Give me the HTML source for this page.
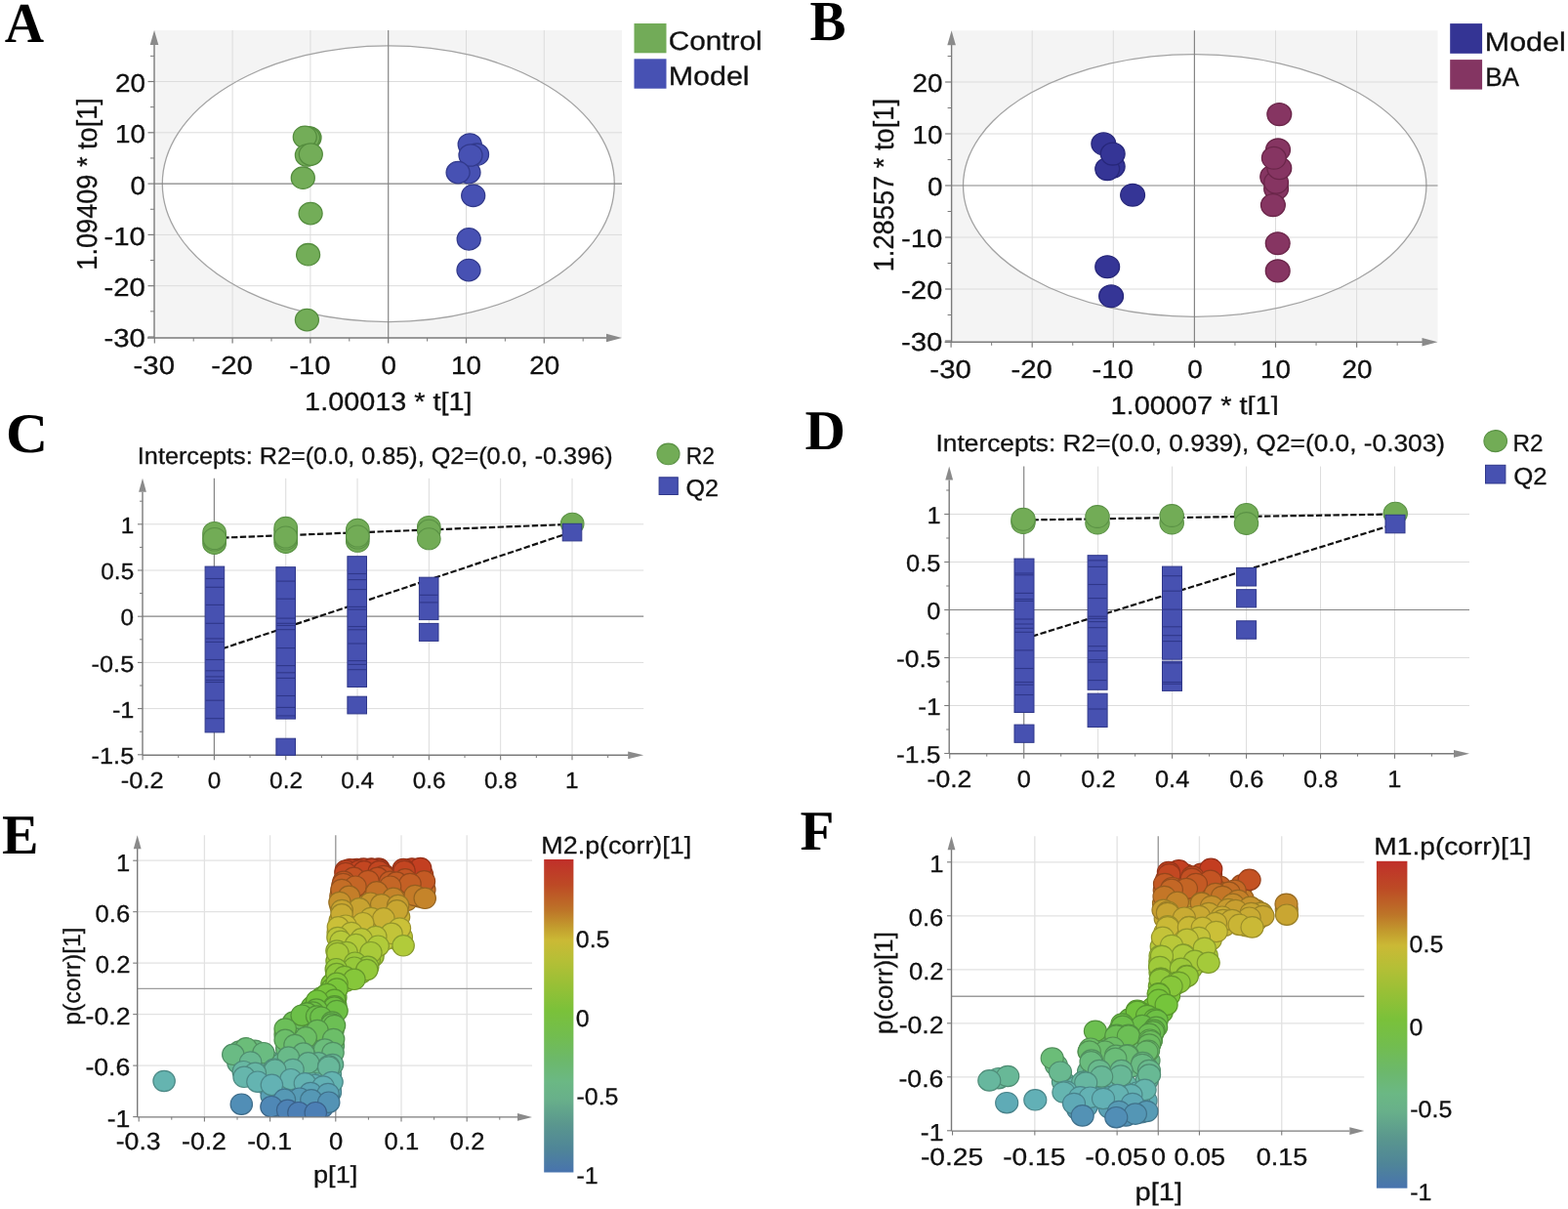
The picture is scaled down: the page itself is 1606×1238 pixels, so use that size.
<!DOCTYPE html>
<html><head><meta charset="utf-8"><title>Figure</title>
<style>
html,body{margin:0;padding:0;background:#fff;}
body{width:1606px;height:1238px;overflow:hidden;}
svg{display:block;}
</style></head>
<body>
<svg width="1606" height="1238" viewBox="0 0 1606 1238" text-rendering="geometricPrecision">
<rect x="0" y="0" width="1606" height="1238" fill="#fff"/>
<rect x="158" y="31" width="479" height="315" fill="#f4f4f4"/>
<ellipse cx="397.8" cy="188.2" rx="231.5" ry="141.4" fill="#fff"/>
<line x1="238.1" y1="31" x2="238.1" y2="346" stroke="#dcdcdc" stroke-width="1"/>
<line x1="317.9" y1="31" x2="317.9" y2="346" stroke="#dcdcdc" stroke-width="1"/>
<line x1="477.5" y1="31" x2="477.5" y2="346" stroke="#dcdcdc" stroke-width="1"/>
<line x1="557.3" y1="31" x2="557.3" y2="346" stroke="#dcdcdc" stroke-width="1"/>
<line x1="158" y1="83.5" x2="637" y2="83.5" stroke="#dcdcdc" stroke-width="1"/>
<line x1="158" y1="135.8" x2="637" y2="135.8" stroke="#dcdcdc" stroke-width="1"/>
<line x1="158" y1="240.4" x2="637" y2="240.4" stroke="#dcdcdc" stroke-width="1"/>
<line x1="158" y1="292.7" x2="637" y2="292.7" stroke="#dcdcdc" stroke-width="1"/>
<ellipse cx="397.8" cy="188.2" rx="231.5" ry="141.4" fill="none" stroke="#a3a3a3" stroke-width="1.3"/>
<line x1="397.7" y1="31" x2="397.7" y2="346" stroke="#858585" stroke-width="1.2"/>
<line x1="158" y1="188.1" x2="637" y2="188.1" stroke="#858585" stroke-width="1.2"/>
<line x1="158" y1="346" x2="158" y2="45" stroke="#7a7a7a" stroke-width="1.4"/>
<polygon points="153.7,46 162.3,46 158,31" fill="#8a8a8a"/>
<line x1="151" y1="346" x2="622" y2="346" stroke="#7a7a7a" stroke-width="1.4"/>
<polygon points="621,341.7 621,350.3 637,346" fill="#8a8a8a"/>
<line x1="151.5" y1="83.5" x2="158" y2="83.5" stroke="#7a7a7a" stroke-width="1.2"/>
<line x1="151.5" y1="135.8" x2="158" y2="135.8" stroke="#7a7a7a" stroke-width="1.2"/>
<line x1="151.5" y1="188.1" x2="158" y2="188.1" stroke="#7a7a7a" stroke-width="1.2"/>
<line x1="151.5" y1="240.4" x2="158" y2="240.4" stroke="#7a7a7a" stroke-width="1.2"/>
<line x1="151.5" y1="292.7" x2="158" y2="292.7" stroke="#7a7a7a" stroke-width="1.2"/>
<line x1="151.5" y1="345" x2="158" y2="345" stroke="#7a7a7a" stroke-width="1.2"/>
<line x1="154" y1="57.35" x2="158" y2="57.35" stroke="#7a7a7a" stroke-width="1"/>
<line x1="154" y1="109.65" x2="158" y2="109.65" stroke="#7a7a7a" stroke-width="1"/>
<line x1="154" y1="161.95" x2="158" y2="161.95" stroke="#7a7a7a" stroke-width="1"/>
<line x1="154" y1="214.25" x2="158" y2="214.25" stroke="#7a7a7a" stroke-width="1"/>
<line x1="154" y1="266.55" x2="158" y2="266.55" stroke="#7a7a7a" stroke-width="1"/>
<line x1="154" y1="318.85" x2="158" y2="318.85" stroke="#7a7a7a" stroke-width="1"/>
<line x1="158.3" y1="346" x2="158.3" y2="351.5" stroke="#7a7a7a" stroke-width="1.2"/>
<line x1="238.1" y1="346" x2="238.1" y2="351.5" stroke="#7a7a7a" stroke-width="1.2"/>
<line x1="317.9" y1="346" x2="317.9" y2="351.5" stroke="#7a7a7a" stroke-width="1.2"/>
<line x1="397.7" y1="346" x2="397.7" y2="351.5" stroke="#7a7a7a" stroke-width="1.2"/>
<line x1="477.5" y1="346" x2="477.5" y2="351.5" stroke="#7a7a7a" stroke-width="1.2"/>
<line x1="557.3" y1="346" x2="557.3" y2="351.5" stroke="#7a7a7a" stroke-width="1.2"/>
<line x1="198.2" y1="346" x2="198.2" y2="349.5" stroke="#7a7a7a" stroke-width="1"/>
<line x1="278" y1="346" x2="278" y2="349.5" stroke="#7a7a7a" stroke-width="1"/>
<line x1="357.8" y1="346" x2="357.8" y2="349.5" stroke="#7a7a7a" stroke-width="1"/>
<line x1="437.6" y1="346" x2="437.6" y2="349.5" stroke="#7a7a7a" stroke-width="1"/>
<line x1="517.4" y1="346" x2="517.4" y2="349.5" stroke="#7a7a7a" stroke-width="1"/>
<line x1="597.2" y1="346" x2="597.2" y2="349.5" stroke="#7a7a7a" stroke-width="1"/>
<ellipse cx="317" cy="141" rx="12" ry="11.2" fill="#73ad58" stroke="#548c3e" stroke-width="1.3"/>
<ellipse cx="315.5" cy="141.2" rx="12" ry="11.2" fill="#73ad58" stroke="#548c3e" stroke-width="1.3"/>
<ellipse cx="312.3" cy="140.3" rx="12" ry="11.2" fill="#73ad58" stroke="#548c3e" stroke-width="1.3"/>
<ellipse cx="314.4" cy="159" rx="12" ry="11.2" fill="#73ad58" stroke="#548c3e" stroke-width="1.3"/>
<ellipse cx="318.3" cy="158.1" rx="12" ry="11.2" fill="#73ad58" stroke="#548c3e" stroke-width="1.3"/>
<ellipse cx="310.3" cy="182.2" rx="12" ry="11.2" fill="#73ad58" stroke="#548c3e" stroke-width="1.3"/>
<ellipse cx="318.1" cy="218.6" rx="12" ry="11.2" fill="#73ad58" stroke="#548c3e" stroke-width="1.3"/>
<ellipse cx="315.6" cy="260.7" rx="12" ry="11.2" fill="#73ad58" stroke="#548c3e" stroke-width="1.3"/>
<ellipse cx="314.4" cy="327.6" rx="12" ry="11.2" fill="#73ad58" stroke="#548c3e" stroke-width="1.3"/>
<ellipse cx="481.2" cy="148" rx="12" ry="11.2" fill="#4751b3" stroke="#323a8c" stroke-width="1.3"/>
<ellipse cx="488.5" cy="158.2" rx="12" ry="11.2" fill="#4751b3" stroke="#323a8c" stroke-width="1.3"/>
<ellipse cx="480" cy="176.6" rx="12" ry="11.2" fill="#4751b3" stroke="#323a8c" stroke-width="1.3"/>
<ellipse cx="482" cy="159" rx="12" ry="11.2" fill="#4751b3" stroke="#323a8c" stroke-width="1.3"/>
<ellipse cx="469.1" cy="176.6" rx="12" ry="11.2" fill="#4751b3" stroke="#323a8c" stroke-width="1.3"/>
<ellipse cx="484.7" cy="200.3" rx="12" ry="11.2" fill="#4751b3" stroke="#323a8c" stroke-width="1.3"/>
<ellipse cx="480.2" cy="244.9" rx="12" ry="11.2" fill="#4751b3" stroke="#323a8c" stroke-width="1.3"/>
<ellipse cx="480" cy="276.6" rx="12" ry="11.2" fill="#4751b3" stroke="#323a8c" stroke-width="1.3"/>
<text x="117.96" y="93.9" font-size="26" font-family='"Liberation Sans", Arial, sans-serif' fill="#111" stroke="#111" stroke-width="0.3" textLength="30.95" lengthAdjust="spacingAndGlyphs">20</text>
<text x="117.96" y="146.2" font-size="26" font-family='"Liberation Sans", Arial, sans-serif' fill="#111" stroke="#111" stroke-width="0.3" textLength="30.95" lengthAdjust="spacingAndGlyphs">10</text>
<text x="133.4" y="198.5" font-size="26" font-family='"Liberation Sans", Arial, sans-serif' fill="#111" stroke="#111" stroke-width="0.3" textLength="15.47" lengthAdjust="spacingAndGlyphs">0</text>
<text x="106.49" y="250.8" font-size="26" font-family='"Liberation Sans", Arial, sans-serif' fill="#111" stroke="#111" stroke-width="0.3" textLength="42.42" lengthAdjust="spacingAndGlyphs">-10</text>
<text x="106.49" y="303.1" font-size="26" font-family='"Liberation Sans", Arial, sans-serif' fill="#111" stroke="#111" stroke-width="0.3" textLength="42.42" lengthAdjust="spacingAndGlyphs">-20</text>
<text x="106.49" y="355.4" font-size="26" font-family='"Liberation Sans", Arial, sans-serif' fill="#111" stroke="#111" stroke-width="0.3" textLength="42.42" lengthAdjust="spacingAndGlyphs">-30</text>
<text x="136.58" y="383.4" font-size="26" font-family='"Liberation Sans", Arial, sans-serif' fill="#111" stroke="#111" stroke-width="0.3" textLength="42.42" lengthAdjust="spacingAndGlyphs">-30</text>
<text x="216.38" y="383.4" font-size="26" font-family='"Liberation Sans", Arial, sans-serif' fill="#111" stroke="#111" stroke-width="0.3" textLength="42.42" lengthAdjust="spacingAndGlyphs">-20</text>
<text x="296.18" y="383.4" font-size="26" font-family='"Liberation Sans", Arial, sans-serif' fill="#111" stroke="#111" stroke-width="0.3" textLength="42.42" lengthAdjust="spacingAndGlyphs">-10</text>
<text x="390.55" y="383.4" font-size="26" font-family='"Liberation Sans", Arial, sans-serif' fill="#111" stroke="#111" stroke-width="0.3" textLength="15.47" lengthAdjust="spacingAndGlyphs">0</text>
<text x="462.14" y="383.4" font-size="26" font-family='"Liberation Sans", Arial, sans-serif' fill="#111" stroke="#111" stroke-width="0.3" textLength="30.95" lengthAdjust="spacingAndGlyphs">10</text>
<text x="542.29" y="383.4" font-size="26" font-family='"Liberation Sans", Arial, sans-serif' fill="#111" stroke="#111" stroke-width="0.3" textLength="30.95" lengthAdjust="spacingAndGlyphs">20</text>
<rect x="649.5" y="24" width="33" height="30.3" fill="#72ab58"/>
<rect x="649.5" y="60.3" width="33" height="30.4" fill="#4751b3"/>
<text x="684.71" y="50.6" font-size="27" font-family='"Liberation Sans", Arial, sans-serif' fill="#111" stroke="#111" stroke-width="0.3" textLength="95.86" lengthAdjust="spacingAndGlyphs">Control</text>
<text x="684.69" y="86.9" font-size="27" font-family='"Liberation Sans", Arial, sans-serif' fill="#111" stroke="#111" stroke-width="0.3" textLength="82.93" lengthAdjust="spacingAndGlyphs">Model</text>
<text x="312.14" y="419.8" font-size="26" font-family='"Liberation Sans", Arial, sans-serif' fill="#111" stroke="#111" stroke-width="0.3" textLength="171.36" lengthAdjust="spacingAndGlyphs">1.00013 * t[1]</text>
<text transform="translate(99,276.63) rotate(-90)" x="0" y="0" font-size="29" font-family='"Liberation Sans", Arial, sans-serif' fill="#111" stroke="#111" stroke-width="0.3" textLength="176.45" lengthAdjust="spacingAndGlyphs">1.09409 * to[1]</text>
<rect x="974.6" y="31.3" width="497.9" height="319" fill="#f4f4f4"/>
<ellipse cx="1223.7" cy="190" rx="237.2" ry="134.4" fill="#fff"/>
<line x1="1057.2" y1="31.3" x2="1057.2" y2="350.3" stroke="#dcdcdc" stroke-width="1"/>
<line x1="1140.3" y1="31.3" x2="1140.3" y2="350.3" stroke="#dcdcdc" stroke-width="1"/>
<line x1="1306.5" y1="31.3" x2="1306.5" y2="350.3" stroke="#dcdcdc" stroke-width="1"/>
<line x1="1389.6" y1="31.3" x2="1389.6" y2="350.3" stroke="#dcdcdc" stroke-width="1"/>
<line x1="974.6" y1="84" x2="1472.5" y2="84" stroke="#dcdcdc" stroke-width="1"/>
<line x1="974.6" y1="137" x2="1472.5" y2="137" stroke="#dcdcdc" stroke-width="1"/>
<line x1="974.6" y1="243" x2="1472.5" y2="243" stroke="#dcdcdc" stroke-width="1"/>
<line x1="974.6" y1="296" x2="1472.5" y2="296" stroke="#dcdcdc" stroke-width="1"/>
<ellipse cx="1223.7" cy="190" rx="237.2" ry="134.4" fill="none" stroke="#a3a3a3" stroke-width="1.3"/>
<line x1="1223.4" y1="31.3" x2="1223.4" y2="350.3" stroke="#858585" stroke-width="1.2"/>
<line x1="974.6" y1="190" x2="1472.5" y2="190" stroke="#858585" stroke-width="1.2"/>
<line x1="974.6" y1="350.3" x2="974.6" y2="45.3" stroke="#7a7a7a" stroke-width="1.4"/>
<polygon points="970.3,46.3 978.9,46.3 974.6,31.3" fill="#8a8a8a"/>
<line x1="967.6" y1="350.3" x2="1457.5" y2="350.3" stroke="#7a7a7a" stroke-width="1.4"/>
<polygon points="1456.5,346 1456.5,354.6 1472.5,350.3" fill="#8a8a8a"/>
<line x1="968.1" y1="84" x2="974.6" y2="84" stroke="#7a7a7a" stroke-width="1.2"/>
<line x1="968.1" y1="137" x2="974.6" y2="137" stroke="#7a7a7a" stroke-width="1.2"/>
<line x1="968.1" y1="190" x2="974.6" y2="190" stroke="#7a7a7a" stroke-width="1.2"/>
<line x1="968.1" y1="243" x2="974.6" y2="243" stroke="#7a7a7a" stroke-width="1.2"/>
<line x1="968.1" y1="296" x2="974.6" y2="296" stroke="#7a7a7a" stroke-width="1.2"/>
<line x1="968.1" y1="349" x2="974.6" y2="349" stroke="#7a7a7a" stroke-width="1.2"/>
<line x1="970.6" y1="57.5" x2="974.6" y2="57.5" stroke="#7a7a7a" stroke-width="1"/>
<line x1="970.6" y1="110.5" x2="974.6" y2="110.5" stroke="#7a7a7a" stroke-width="1"/>
<line x1="970.6" y1="163.5" x2="974.6" y2="163.5" stroke="#7a7a7a" stroke-width="1"/>
<line x1="970.6" y1="216.5" x2="974.6" y2="216.5" stroke="#7a7a7a" stroke-width="1"/>
<line x1="970.6" y1="269.5" x2="974.6" y2="269.5" stroke="#7a7a7a" stroke-width="1"/>
<line x1="970.6" y1="322.5" x2="974.6" y2="322.5" stroke="#7a7a7a" stroke-width="1"/>
<line x1="974.1" y1="350.3" x2="974.1" y2="355.8" stroke="#7a7a7a" stroke-width="1.2"/>
<line x1="1057.2" y1="350.3" x2="1057.2" y2="355.8" stroke="#7a7a7a" stroke-width="1.2"/>
<line x1="1140.3" y1="350.3" x2="1140.3" y2="355.8" stroke="#7a7a7a" stroke-width="1.2"/>
<line x1="1223.4" y1="350.3" x2="1223.4" y2="355.8" stroke="#7a7a7a" stroke-width="1.2"/>
<line x1="1306.5" y1="350.3" x2="1306.5" y2="355.8" stroke="#7a7a7a" stroke-width="1.2"/>
<line x1="1389.6" y1="350.3" x2="1389.6" y2="355.8" stroke="#7a7a7a" stroke-width="1.2"/>
<line x1="1015.65" y1="350.3" x2="1015.65" y2="353.8" stroke="#7a7a7a" stroke-width="1"/>
<line x1="1098.75" y1="350.3" x2="1098.75" y2="353.8" stroke="#7a7a7a" stroke-width="1"/>
<line x1="1181.85" y1="350.3" x2="1181.85" y2="353.8" stroke="#7a7a7a" stroke-width="1"/>
<line x1="1264.95" y1="350.3" x2="1264.95" y2="353.8" stroke="#7a7a7a" stroke-width="1"/>
<line x1="1348.05" y1="350.3" x2="1348.05" y2="353.8" stroke="#7a7a7a" stroke-width="1"/>
<line x1="1431.15" y1="350.3" x2="1431.15" y2="353.8" stroke="#7a7a7a" stroke-width="1"/>
<ellipse cx="1130.3" cy="147.3" rx="12.4" ry="11.4" fill="#353596" stroke="#27277a" stroke-width="1.3"/>
<ellipse cx="1139.7" cy="170.6" rx="12.4" ry="11.4" fill="#353596" stroke="#27277a" stroke-width="1.3"/>
<ellipse cx="1134.2" cy="173.1" rx="12.4" ry="11.4" fill="#353596" stroke="#27277a" stroke-width="1.3"/>
<ellipse cx="1139.7" cy="157.6" rx="12.4" ry="11.4" fill="#353596" stroke="#27277a" stroke-width="1.3"/>
<ellipse cx="1160.1" cy="199.7" rx="12.4" ry="11.4" fill="#353596" stroke="#27277a" stroke-width="1.3"/>
<ellipse cx="1134.2" cy="273.2" rx="12.4" ry="11.4" fill="#353596" stroke="#27277a" stroke-width="1.3"/>
<ellipse cx="1138.1" cy="303.3" rx="12.4" ry="11.4" fill="#353596" stroke="#27277a" stroke-width="1.3"/>
<ellipse cx="1310.3" cy="117.1" rx="12.4" ry="11.4" fill="#863562" stroke="#6a2649" stroke-width="1.3"/>
<ellipse cx="1309" cy="153.4" rx="12.4" ry="11.4" fill="#863562" stroke="#6a2649" stroke-width="1.3"/>
<ellipse cx="1307.1" cy="193.2" rx="12.4" ry="11.4" fill="#863562" stroke="#6a2649" stroke-width="1.3"/>
<ellipse cx="1303.2" cy="180.9" rx="12.4" ry="11.4" fill="#863562" stroke="#6a2649" stroke-width="1.3"/>
<ellipse cx="1307.1" cy="186.7" rx="12.4" ry="11.4" fill="#863562" stroke="#6a2649" stroke-width="1.3"/>
<ellipse cx="1310.3" cy="172.2" rx="12.4" ry="11.4" fill="#863562" stroke="#6a2649" stroke-width="1.3"/>
<ellipse cx="1304.8" cy="161.8" rx="12.4" ry="11.4" fill="#863562" stroke="#6a2649" stroke-width="1.3"/>
<ellipse cx="1303.9" cy="210.1" rx="12.4" ry="11.4" fill="#863562" stroke="#6a2649" stroke-width="1.3"/>
<ellipse cx="1308.7" cy="249.2" rx="12.4" ry="11.4" fill="#863562" stroke="#6a2649" stroke-width="1.3"/>
<ellipse cx="1308.7" cy="277.4" rx="12.4" ry="11.4" fill="#863562" stroke="#6a2649" stroke-width="1.3"/>
<text x="934.46" y="93.7" font-size="26" font-family='"Liberation Sans", Arial, sans-serif' fill="#111" stroke="#111" stroke-width="0.3" textLength="30.95" lengthAdjust="spacingAndGlyphs">20</text>
<text x="934.46" y="146.7" font-size="26" font-family='"Liberation Sans", Arial, sans-serif' fill="#111" stroke="#111" stroke-width="0.3" textLength="30.95" lengthAdjust="spacingAndGlyphs">10</text>
<text x="949.9" y="199.7" font-size="26" font-family='"Liberation Sans", Arial, sans-serif' fill="#111" stroke="#111" stroke-width="0.3" textLength="15.47" lengthAdjust="spacingAndGlyphs">0</text>
<text x="922.99" y="252.7" font-size="26" font-family='"Liberation Sans", Arial, sans-serif' fill="#111" stroke="#111" stroke-width="0.3" textLength="42.42" lengthAdjust="spacingAndGlyphs">-10</text>
<text x="922.99" y="305.7" font-size="26" font-family='"Liberation Sans", Arial, sans-serif' fill="#111" stroke="#111" stroke-width="0.3" textLength="42.42" lengthAdjust="spacingAndGlyphs">-20</text>
<text x="922.99" y="358.7" font-size="26" font-family='"Liberation Sans", Arial, sans-serif' fill="#111" stroke="#111" stroke-width="0.3" textLength="42.42" lengthAdjust="spacingAndGlyphs">-30</text>
<text x="952.38" y="386.5" font-size="26" font-family='"Liberation Sans", Arial, sans-serif' fill="#111" stroke="#111" stroke-width="0.3" textLength="42.42" lengthAdjust="spacingAndGlyphs">-30</text>
<text x="1035.48" y="386.5" font-size="26" font-family='"Liberation Sans", Arial, sans-serif' fill="#111" stroke="#111" stroke-width="0.3" textLength="42.42" lengthAdjust="spacingAndGlyphs">-20</text>
<text x="1118.58" y="386.5" font-size="26" font-family='"Liberation Sans", Arial, sans-serif' fill="#111" stroke="#111" stroke-width="0.3" textLength="42.42" lengthAdjust="spacingAndGlyphs">-10</text>
<text x="1216.25" y="386.5" font-size="26" font-family='"Liberation Sans", Arial, sans-serif' fill="#111" stroke="#111" stroke-width="0.3" textLength="15.47" lengthAdjust="spacingAndGlyphs">0</text>
<text x="1291.14" y="386.5" font-size="26" font-family='"Liberation Sans", Arial, sans-serif' fill="#111" stroke="#111" stroke-width="0.3" textLength="30.95" lengthAdjust="spacingAndGlyphs">10</text>
<text x="1374.59" y="386.5" font-size="26" font-family='"Liberation Sans", Arial, sans-serif' fill="#111" stroke="#111" stroke-width="0.3" textLength="30.95" lengthAdjust="spacingAndGlyphs">20</text>
<rect x="1485.2" y="24.1" width="32.9" height="30.7" fill="#343494"/>
<rect x="1485.2" y="61.1" width="32.9" height="30.5" fill="#843562"/>
<text x="1520.79" y="51.5" font-size="27" font-family='"Liberation Sans", Arial, sans-serif' fill="#111" stroke="#111" stroke-width="0.3" textLength="82.93" lengthAdjust="spacingAndGlyphs">Model</text>
<text x="1521.14" y="88.4" font-size="27" font-family='"Liberation Sans", Arial, sans-serif' fill="#111" stroke="#111" stroke-width="0.3" textLength="34.9" lengthAdjust="spacingAndGlyphs">BA</text>
<clipPath id="clipB"><rect x="900" y="395" width="500" height="29.9"/></clipPath>
<g clip-path="url(#clipB)">
<text x="1137.53" y="423.9" font-size="26" font-family='"Liberation Sans", Arial, sans-serif' fill="#111" stroke="#111" stroke-width="0.3" textLength="172.18" lengthAdjust="spacingAndGlyphs">1.00007 * t[1]</text>
</g>
<text transform="translate(915.4,278.35) rotate(-90)" x="0" y="0" font-size="29" font-family='"Liberation Sans", Arial, sans-serif' fill="#111" stroke="#111" stroke-width="0.3" textLength="177.47" lengthAdjust="spacingAndGlyphs">1.28557 * to[1]</text>
<text x="4.84" y="43.1" font-size="58.03" font-family='"Liberation Serif", "Times New Roman", serif' font-weight="bold" fill="#000" textLength="40.36" lengthAdjust="spacingAndGlyphs">A</text>
<text x="829.53" y="40.7" font-size="58.17" font-family='"Liberation Serif", "Times New Roman", serif' font-weight="bold" fill="#000" textLength="36.97" lengthAdjust="spacingAndGlyphs">B</text>
<text x="6.02" y="462.8" font-size="57.36" font-family='"Liberation Serif", "Times New Roman", serif' font-weight="bold" fill="#000" textLength="43.09" lengthAdjust="spacingAndGlyphs">C</text>
<text x="824.6" y="460.2" font-size="57.71" font-family='"Liberation Serif", "Times New Roman", serif' font-weight="bold" fill="#000" textLength="41.35" lengthAdjust="spacingAndGlyphs">D</text>
<text x="2.02" y="874.4" font-size="57.56" font-family='"Liberation Serif", "Times New Roman", serif' font-weight="bold" fill="#000" textLength="37.4" lengthAdjust="spacingAndGlyphs">E</text>
<text x="819.5" y="870" font-size="57.71" font-family='"Liberation Serif", "Times New Roman", serif' font-weight="bold" fill="#000" textLength="34.86" lengthAdjust="spacingAndGlyphs">F</text>
<line x1="292.72" y1="489.8" x2="292.72" y2="773.3" stroke="#dcdcdc" stroke-width="1"/>
<line x1="366.04" y1="489.8" x2="366.04" y2="773.3" stroke="#dcdcdc" stroke-width="1"/>
<line x1="439.36" y1="489.8" x2="439.36" y2="773.3" stroke="#dcdcdc" stroke-width="1"/>
<line x1="512.68" y1="489.8" x2="512.68" y2="773.3" stroke="#dcdcdc" stroke-width="1"/>
<line x1="586" y1="489.8" x2="586" y2="773.3" stroke="#dcdcdc" stroke-width="1"/>
<line x1="146" y1="536.8" x2="659.2" y2="536.8" stroke="#dcdcdc" stroke-width="1"/>
<line x1="146" y1="584" x2="659.2" y2="584" stroke="#dcdcdc" stroke-width="1"/>
<line x1="146" y1="678.4" x2="659.2" y2="678.4" stroke="#dcdcdc" stroke-width="1"/>
<line x1="146" y1="725.6" x2="659.2" y2="725.6" stroke="#dcdcdc" stroke-width="1"/>
<line x1="219.4" y1="489.8" x2="219.4" y2="773.3" stroke="#858585" stroke-width="1.2"/>
<line x1="146" y1="631.2" x2="659.2" y2="631.2" stroke="#858585" stroke-width="1.2"/>
<line x1="146" y1="773.3" x2="146" y2="503.8" stroke="#7a7a7a" stroke-width="1.4"/>
<polygon points="142.1,503.8 149.9,503.8 146,489.8" fill="#8a8a8a"/>
<line x1="146" y1="773.3" x2="644.2" y2="773.3" stroke="#7a7a7a" stroke-width="1.4"/>
<polygon points="643.2,769.4 643.2,777.2 659.2,773.3" fill="#8a8a8a"/>
<line x1="141" y1="536.8" x2="146" y2="536.8" stroke="#7a7a7a" stroke-width="1.1"/>
<line x1="141" y1="584" x2="146" y2="584" stroke="#7a7a7a" stroke-width="1.1"/>
<line x1="141" y1="631.2" x2="146" y2="631.2" stroke="#7a7a7a" stroke-width="1.1"/>
<line x1="141" y1="678.4" x2="146" y2="678.4" stroke="#7a7a7a" stroke-width="1.1"/>
<line x1="141" y1="725.6" x2="146" y2="725.6" stroke="#7a7a7a" stroke-width="1.1"/>
<line x1="141" y1="772.8" x2="146" y2="772.8" stroke="#7a7a7a" stroke-width="1.1"/>
<line x1="143" y1="513.2" x2="146" y2="513.2" stroke="#7a7a7a" stroke-width="1"/>
<line x1="143" y1="560.4" x2="146" y2="560.4" stroke="#7a7a7a" stroke-width="1"/>
<line x1="143" y1="607.6" x2="146" y2="607.6" stroke="#7a7a7a" stroke-width="1"/>
<line x1="143" y1="654.8" x2="146" y2="654.8" stroke="#7a7a7a" stroke-width="1"/>
<line x1="143" y1="702" x2="146" y2="702" stroke="#7a7a7a" stroke-width="1"/>
<line x1="143" y1="749.2" x2="146" y2="749.2" stroke="#7a7a7a" stroke-width="1"/>
<line x1="146.08" y1="773.3" x2="146.08" y2="778.3" stroke="#7a7a7a" stroke-width="1.1"/>
<line x1="219.4" y1="773.3" x2="219.4" y2="778.3" stroke="#7a7a7a" stroke-width="1.1"/>
<line x1="292.72" y1="773.3" x2="292.72" y2="778.3" stroke="#7a7a7a" stroke-width="1.1"/>
<line x1="366.04" y1="773.3" x2="366.04" y2="778.3" stroke="#7a7a7a" stroke-width="1.1"/>
<line x1="439.36" y1="773.3" x2="439.36" y2="778.3" stroke="#7a7a7a" stroke-width="1.1"/>
<line x1="512.68" y1="773.3" x2="512.68" y2="778.3" stroke="#7a7a7a" stroke-width="1.1"/>
<line x1="586" y1="773.3" x2="586" y2="778.3" stroke="#7a7a7a" stroke-width="1.1"/>
<line x1="182.74" y1="773.3" x2="182.74" y2="776.1" stroke="#7a7a7a" stroke-width="1"/>
<line x1="256.06" y1="773.3" x2="256.06" y2="776.1" stroke="#7a7a7a" stroke-width="1"/>
<line x1="329.38" y1="773.3" x2="329.38" y2="776.1" stroke="#7a7a7a" stroke-width="1"/>
<line x1="402.7" y1="773.3" x2="402.7" y2="776.1" stroke="#7a7a7a" stroke-width="1"/>
<line x1="476.02" y1="773.3" x2="476.02" y2="776.1" stroke="#7a7a7a" stroke-width="1"/>
<line x1="549.34" y1="773.3" x2="549.34" y2="776.1" stroke="#7a7a7a" stroke-width="1"/>
<line x1="622.66" y1="773.3" x2="622.66" y2="776.1" stroke="#7a7a7a" stroke-width="1"/>
<line x1="219.4" y1="550.95" x2="586.6" y2="536.8" stroke="#111" stroke-width="2.2" stroke-dasharray="6.4 2.4"/>
<line x1="219.4" y1="667" x2="586.6" y2="544.5" stroke="#111" stroke-width="2.2" stroke-dasharray="6.4 2.4"/>
<rect x="210.1" y="580.1" width="19.6" height="169.8" fill="#4751b1" stroke="#2f378a" stroke-width="1"/>
<line x1="210.6" y1="592.5" x2="229.2" y2="592.5" stroke="#2f378a" stroke-width="1.1"/>
<line x1="210.6" y1="601.3" x2="229.2" y2="601.3" stroke="#2f378a" stroke-width="1.1"/>
<line x1="210.6" y1="619.4" x2="229.2" y2="619.4" stroke="#2f378a" stroke-width="1.1"/>
<line x1="210.6" y1="638.3" x2="229.2" y2="638.3" stroke="#2f378a" stroke-width="1.1"/>
<line x1="210.6" y1="653.9" x2="229.2" y2="653.9" stroke="#2f378a" stroke-width="1.1"/>
<line x1="210.6" y1="657.4" x2="229.2" y2="657.4" stroke="#2f378a" stroke-width="1.1"/>
<line x1="210.6" y1="675.5" x2="229.2" y2="675.5" stroke="#2f378a" stroke-width="1.1"/>
<line x1="210.6" y1="686.8" x2="229.2" y2="686.8" stroke="#2f378a" stroke-width="1.1"/>
<line x1="210.6" y1="692.9" x2="229.2" y2="692.9" stroke="#2f378a" stroke-width="1.1"/>
<line x1="210.6" y1="696.4" x2="229.2" y2="696.4" stroke="#2f378a" stroke-width="1.1"/>
<line x1="210.6" y1="698.5" x2="229.2" y2="698.5" stroke="#2f378a" stroke-width="1.1"/>
<line x1="210.6" y1="717.2" x2="229.2" y2="717.2" stroke="#2f378a" stroke-width="1.1"/>
<line x1="210.6" y1="735.7" x2="229.2" y2="735.7" stroke="#2f378a" stroke-width="1.1"/>
<rect x="282.9" y="580.7" width="19.6" height="155.4" fill="#4751b1" stroke="#2f378a" stroke-width="1"/>
<line x1="283.4" y1="595.1" x2="302" y2="595.1" stroke="#2f378a" stroke-width="1.1"/>
<line x1="283.4" y1="613.2" x2="302" y2="613.2" stroke="#2f378a" stroke-width="1.1"/>
<line x1="283.4" y1="633.1" x2="302" y2="633.1" stroke="#2f378a" stroke-width="1.1"/>
<line x1="283.4" y1="638.3" x2="302" y2="638.3" stroke="#2f378a" stroke-width="1.1"/>
<line x1="283.4" y1="640.5" x2="302" y2="640.5" stroke="#2f378a" stroke-width="1.1"/>
<line x1="283.4" y1="644.7" x2="302" y2="644.7" stroke="#2f378a" stroke-width="1.1"/>
<line x1="283.4" y1="663.6" x2="302" y2="663.6" stroke="#2f378a" stroke-width="1.1"/>
<line x1="283.4" y1="681.6" x2="302" y2="681.6" stroke="#2f378a" stroke-width="1.1"/>
<line x1="283.4" y1="688.8" x2="302" y2="688.8" stroke="#2f378a" stroke-width="1.1"/>
<line x1="283.4" y1="694.4" x2="302" y2="694.4" stroke="#2f378a" stroke-width="1.1"/>
<line x1="283.4" y1="712.5" x2="302" y2="712.5" stroke="#2f378a" stroke-width="1.1"/>
<line x1="283.4" y1="724.4" x2="302" y2="724.4" stroke="#2f378a" stroke-width="1.1"/>
<line x1="283.4" y1="733" x2="302" y2="733" stroke="#2f378a" stroke-width="1.1"/>
<rect x="282.9" y="756.2" width="19.6" height="17.1" fill="#4751b1" stroke="#2f378a" stroke-width="1"/>
<rect x="355.9" y="569.7" width="19.6" height="133.8" fill="#4751b1" stroke="#2f378a" stroke-width="1"/>
<line x1="356.4" y1="587.5" x2="375" y2="587.5" stroke="#2f378a" stroke-width="1.1"/>
<line x1="356.4" y1="593.6" x2="375" y2="593.6" stroke="#2f378a" stroke-width="1.1"/>
<line x1="356.4" y1="603.6" x2="375" y2="603.6" stroke="#2f378a" stroke-width="1.1"/>
<line x1="356.4" y1="621.4" x2="375" y2="621.4" stroke="#2f378a" stroke-width="1.1"/>
<line x1="356.4" y1="624.1" x2="375" y2="624.1" stroke="#2f378a" stroke-width="1.1"/>
<line x1="356.4" y1="641.6" x2="375" y2="641.6" stroke="#2f378a" stroke-width="1.1"/>
<line x1="356.4" y1="644.8" x2="375" y2="644.8" stroke="#2f378a" stroke-width="1.1"/>
<line x1="356.4" y1="659" x2="375" y2="659" stroke="#2f378a" stroke-width="1.1"/>
<line x1="356.4" y1="676.6" x2="375" y2="676.6" stroke="#2f378a" stroke-width="1.1"/>
<line x1="356.4" y1="680.4" x2="375" y2="680.4" stroke="#2f378a" stroke-width="1.1"/>
<line x1="356.4" y1="685.7" x2="375" y2="685.7" stroke="#2f378a" stroke-width="1.1"/>
<rect x="355.9" y="713.2" width="19.6" height="17.7" fill="#4751b1" stroke="#2f378a" stroke-width="1"/>
<rect x="429.4" y="591.2" width="19.6" height="43.4" fill="#4751b1" stroke="#2f378a" stroke-width="1"/>
<line x1="429.9" y1="609.3" x2="448.5" y2="609.3" stroke="#2f378a" stroke-width="1.1"/>
<line x1="429.9" y1="616.9" x2="448.5" y2="616.9" stroke="#2f378a" stroke-width="1.1"/>
<rect x="429.4" y="638.4" width="19.6" height="18" fill="#4751b1" stroke="#2f378a" stroke-width="1"/>
<ellipse cx="219.6" cy="556.4" rx="11.8" ry="11" fill="#72ac56" stroke="#5a9145" stroke-width="1.1"/>
<ellipse cx="219.6" cy="553" rx="11.8" ry="11" fill="#72ac56" stroke="#5a9145" stroke-width="1.1"/>
<ellipse cx="219.6" cy="549" rx="11.8" ry="11" fill="#72ac56" stroke="#5a9145" stroke-width="1.1"/>
<ellipse cx="219.6" cy="545.5" rx="11.8" ry="11" fill="#72ac56" stroke="#5a9145" stroke-width="1.1"/>
<ellipse cx="219.8" cy="551.5" rx="11.8" ry="11" fill="#72ac56" stroke="#5a9145" stroke-width="1.1"/>
<ellipse cx="292.7" cy="555.4" rx="11.8" ry="11" fill="#72ac56" stroke="#5a9145" stroke-width="1.1"/>
<ellipse cx="292.7" cy="552" rx="11.8" ry="11" fill="#72ac56" stroke="#5a9145" stroke-width="1.1"/>
<ellipse cx="292.7" cy="548" rx="11.8" ry="11" fill="#72ac56" stroke="#5a9145" stroke-width="1.1"/>
<ellipse cx="292.7" cy="544" rx="11.8" ry="11" fill="#72ac56" stroke="#5a9145" stroke-width="1.1"/>
<ellipse cx="292.7" cy="540.4" rx="11.8" ry="11" fill="#72ac56" stroke="#5a9145" stroke-width="1.1"/>
<ellipse cx="292.7" cy="550" rx="11.8" ry="11" fill="#72ac56" stroke="#5a9145" stroke-width="1.1"/>
<ellipse cx="366.3" cy="554.3" rx="11.8" ry="11" fill="#72ac56" stroke="#5a9145" stroke-width="1.1"/>
<ellipse cx="366.3" cy="551" rx="11.8" ry="11" fill="#72ac56" stroke="#5a9145" stroke-width="1.1"/>
<ellipse cx="366.3" cy="546.5" rx="11.8" ry="11" fill="#72ac56" stroke="#5a9145" stroke-width="1.1"/>
<ellipse cx="366.3" cy="542.4" rx="11.8" ry="11" fill="#72ac56" stroke="#5a9145" stroke-width="1.1"/>
<ellipse cx="366.3" cy="549" rx="11.8" ry="11" fill="#72ac56" stroke="#5a9145" stroke-width="1.1"/>
<ellipse cx="439.3" cy="539.5" rx="11.8" ry="11" fill="#72ac56" stroke="#5a9145" stroke-width="1.1"/>
<ellipse cx="439.3" cy="543.3" rx="11.8" ry="11" fill="#72ac56" stroke="#5a9145" stroke-width="1.1"/>
<ellipse cx="439.3" cy="551.8" rx="11.8" ry="11" fill="#72ac56" stroke="#5a9145" stroke-width="1.1"/>
<ellipse cx="586.2" cy="536.3" rx="11.8" ry="11" fill="#72ac56" stroke="#5a9145" stroke-width="1.1"/>
<rect x="576.2" y="536.3" width="19.6" height="17.6" fill="#4751b1" stroke="#2f378a" stroke-width="1"/>
<text x="123.85" y="545.9" font-size="23.4" font-family='"Liberation Sans", Arial, sans-serif' fill="#111" stroke="#111" stroke-width="0.3" textLength="13.53" lengthAdjust="spacingAndGlyphs">1</text>
<text x="103.35" y="593.1" font-size="23.4" font-family='"Liberation Sans", Arial, sans-serif' fill="#111" stroke="#111" stroke-width="0.3" textLength="33.83" lengthAdjust="spacingAndGlyphs">0.5</text>
<text x="123.61" y="640.3" font-size="23.4" font-family='"Liberation Sans", Arial, sans-serif' fill="#111" stroke="#111" stroke-width="0.3" textLength="13.53" lengthAdjust="spacingAndGlyphs">0</text>
<text x="93.62" y="687.5" font-size="23.4" font-family='"Liberation Sans", Arial, sans-serif' fill="#111" stroke="#111" stroke-width="0.3" textLength="43.61" lengthAdjust="spacingAndGlyphs">-0.5</text>
<text x="114.94" y="734.7" font-size="23.4" font-family='"Liberation Sans", Arial, sans-serif' fill="#111" stroke="#111" stroke-width="0.3" textLength="22.5" lengthAdjust="spacingAndGlyphs">-1</text>
<text x="93.62" y="781.9" font-size="23.4" font-family='"Liberation Sans", Arial, sans-serif' fill="#111" stroke="#111" stroke-width="0.3" textLength="43.61" lengthAdjust="spacingAndGlyphs">-1.5</text>
<text x="123.84" y="806.6" font-size="23.4" font-family='"Liberation Sans", Arial, sans-serif' fill="#111" stroke="#111" stroke-width="0.3" textLength="43.82" lengthAdjust="spacingAndGlyphs">-0.2</text>
<text x="212.82" y="806.6" font-size="23.4" font-family='"Liberation Sans", Arial, sans-serif' fill="#111" stroke="#111" stroke-width="0.3" textLength="13.53" lengthAdjust="spacingAndGlyphs">0</text>
<text x="276.13" y="806.6" font-size="23.4" font-family='"Liberation Sans", Arial, sans-serif' fill="#111" stroke="#111" stroke-width="0.3" textLength="33.83" lengthAdjust="spacingAndGlyphs">0.2</text>
<text x="349.17" y="806.6" font-size="23.4" font-family='"Liberation Sans", Arial, sans-serif' fill="#111" stroke="#111" stroke-width="0.3" textLength="33.83" lengthAdjust="spacingAndGlyphs">0.4</text>
<text x="422.68" y="806.6" font-size="23.4" font-family='"Liberation Sans", Arial, sans-serif' fill="#111" stroke="#111" stroke-width="0.3" textLength="33.83" lengthAdjust="spacingAndGlyphs">0.6</text>
<text x="496" y="806.6" font-size="23.4" font-family='"Liberation Sans", Arial, sans-serif' fill="#111" stroke="#111" stroke-width="0.3" textLength="33.83" lengthAdjust="spacingAndGlyphs">0.8</text>
<text x="579.11" y="806.6" font-size="23.4" font-family='"Liberation Sans", Arial, sans-serif' fill="#111" stroke="#111" stroke-width="0.3" textLength="13.53" lengthAdjust="spacingAndGlyphs">1</text>
<text x="140.87" y="475" font-size="24.3" font-family='"Liberation Sans", Arial, sans-serif' fill="#111" stroke="#111" stroke-width="0.3" textLength="486.74" lengthAdjust="spacingAndGlyphs">Intercepts: R2=(0.0, 0.85), Q2=(0.0, -0.396)</text>
<ellipse cx="684.5" cy="464.9" rx="11.5" ry="10.8" fill="#72ac56" stroke="#5a9145" stroke-width="1.1"/>
<text x="702.83" y="475" font-size="24.3" font-family='"Liberation Sans", Arial, sans-serif' fill="#111" stroke="#111" stroke-width="0.3" textLength="29.03" lengthAdjust="spacingAndGlyphs">R2</text>
<rect x="675.1" y="488.8" width="19.2" height="17.7" fill="#4751b1" stroke="#2f378a" stroke-width="1"/>
<text x="702.41" y="507.7" font-size="24.3" font-family='"Liberation Sans", Arial, sans-serif' fill="#111" stroke="#111" stroke-width="0.3" textLength="33.49" lengthAdjust="spacingAndGlyphs">Q2</text>
<line x1="1124.66" y1="477.6" x2="1124.66" y2="771.8" stroke="#dcdcdc" stroke-width="1"/>
<line x1="1200.62" y1="477.6" x2="1200.62" y2="771.8" stroke="#dcdcdc" stroke-width="1"/>
<line x1="1276.58" y1="477.6" x2="1276.58" y2="771.8" stroke="#dcdcdc" stroke-width="1"/>
<line x1="1352.54" y1="477.6" x2="1352.54" y2="771.8" stroke="#dcdcdc" stroke-width="1"/>
<line x1="1428.5" y1="477.6" x2="1428.5" y2="771.8" stroke="#dcdcdc" stroke-width="1"/>
<line x1="972.2" y1="526.5" x2="1505" y2="526.5" stroke="#dcdcdc" stroke-width="1"/>
<line x1="972.2" y1="575.5" x2="1505" y2="575.5" stroke="#dcdcdc" stroke-width="1"/>
<line x1="972.2" y1="673.5" x2="1505" y2="673.5" stroke="#dcdcdc" stroke-width="1"/>
<line x1="972.2" y1="722.5" x2="1505" y2="722.5" stroke="#dcdcdc" stroke-width="1"/>
<line x1="1048.7" y1="477.6" x2="1048.7" y2="771.8" stroke="#858585" stroke-width="1.2"/>
<line x1="972.2" y1="624.5" x2="1505" y2="624.5" stroke="#858585" stroke-width="1.2"/>
<line x1="972.2" y1="771.8" x2="972.2" y2="491.6" stroke="#7a7a7a" stroke-width="1.4"/>
<polygon points="968.3,491.6 976.1,491.6 972.2,477.6" fill="#8a8a8a"/>
<line x1="972.2" y1="771.8" x2="1490" y2="771.8" stroke="#7a7a7a" stroke-width="1.4"/>
<polygon points="1489,767.9 1489,775.7 1505,771.8" fill="#8a8a8a"/>
<line x1="967.2" y1="526.5" x2="972.2" y2="526.5" stroke="#7a7a7a" stroke-width="1.1"/>
<line x1="967.2" y1="575.5" x2="972.2" y2="575.5" stroke="#7a7a7a" stroke-width="1.1"/>
<line x1="967.2" y1="624.5" x2="972.2" y2="624.5" stroke="#7a7a7a" stroke-width="1.1"/>
<line x1="967.2" y1="673.5" x2="972.2" y2="673.5" stroke="#7a7a7a" stroke-width="1.1"/>
<line x1="967.2" y1="722.5" x2="972.2" y2="722.5" stroke="#7a7a7a" stroke-width="1.1"/>
<line x1="967.2" y1="771.5" x2="972.2" y2="771.5" stroke="#7a7a7a" stroke-width="1.1"/>
<line x1="969.2" y1="502" x2="972.2" y2="502" stroke="#7a7a7a" stroke-width="1"/>
<line x1="969.2" y1="551" x2="972.2" y2="551" stroke="#7a7a7a" stroke-width="1"/>
<line x1="969.2" y1="600" x2="972.2" y2="600" stroke="#7a7a7a" stroke-width="1"/>
<line x1="969.2" y1="649" x2="972.2" y2="649" stroke="#7a7a7a" stroke-width="1"/>
<line x1="969.2" y1="698" x2="972.2" y2="698" stroke="#7a7a7a" stroke-width="1"/>
<line x1="969.2" y1="747" x2="972.2" y2="747" stroke="#7a7a7a" stroke-width="1"/>
<line x1="972.74" y1="771.8" x2="972.74" y2="776.8" stroke="#7a7a7a" stroke-width="1.1"/>
<line x1="1048.7" y1="771.8" x2="1048.7" y2="776.8" stroke="#7a7a7a" stroke-width="1.1"/>
<line x1="1124.66" y1="771.8" x2="1124.66" y2="776.8" stroke="#7a7a7a" stroke-width="1.1"/>
<line x1="1200.62" y1="771.8" x2="1200.62" y2="776.8" stroke="#7a7a7a" stroke-width="1.1"/>
<line x1="1276.58" y1="771.8" x2="1276.58" y2="776.8" stroke="#7a7a7a" stroke-width="1.1"/>
<line x1="1352.54" y1="771.8" x2="1352.54" y2="776.8" stroke="#7a7a7a" stroke-width="1.1"/>
<line x1="1428.5" y1="771.8" x2="1428.5" y2="776.8" stroke="#7a7a7a" stroke-width="1.1"/>
<line x1="1010.72" y1="771.8" x2="1010.72" y2="774.6" stroke="#7a7a7a" stroke-width="1"/>
<line x1="1086.68" y1="771.8" x2="1086.68" y2="774.6" stroke="#7a7a7a" stroke-width="1"/>
<line x1="1162.64" y1="771.8" x2="1162.64" y2="774.6" stroke="#7a7a7a" stroke-width="1"/>
<line x1="1238.6" y1="771.8" x2="1238.6" y2="774.6" stroke="#7a7a7a" stroke-width="1"/>
<line x1="1314.56" y1="771.8" x2="1314.56" y2="774.6" stroke="#7a7a7a" stroke-width="1"/>
<line x1="1390.52" y1="771.8" x2="1390.52" y2="774.6" stroke="#7a7a7a" stroke-width="1"/>
<line x1="1466.48" y1="771.8" x2="1466.48" y2="774.6" stroke="#7a7a7a" stroke-width="1"/>
<line x1="1048.7" y1="532.5" x2="1429.2" y2="526.5" stroke="#111" stroke-width="2.2" stroke-dasharray="6.4 2.4"/>
<line x1="1048.7" y1="654.2" x2="1429.2" y2="536.5" stroke="#111" stroke-width="2.2" stroke-dasharray="6.4 2.4"/>
<rect x="1039" y="572.1" width="20" height="157.4" fill="#4751b1" stroke="#2f378a" stroke-width="1"/>
<line x1="1039.5" y1="587" x2="1058.5" y2="587" stroke="#2f378a" stroke-width="1.1"/>
<line x1="1039.5" y1="588.8" x2="1058.5" y2="588.8" stroke="#2f378a" stroke-width="1.1"/>
<line x1="1039.5" y1="607.4" x2="1058.5" y2="607.4" stroke="#2f378a" stroke-width="1.1"/>
<line x1="1039.5" y1="613.5" x2="1058.5" y2="613.5" stroke="#2f378a" stroke-width="1.1"/>
<line x1="1039.5" y1="615.4" x2="1058.5" y2="615.4" stroke="#2f378a" stroke-width="1.1"/>
<line x1="1039.5" y1="634" x2="1058.5" y2="634" stroke="#2f378a" stroke-width="1.1"/>
<line x1="1039.5" y1="639" x2="1058.5" y2="639" stroke="#2f378a" stroke-width="1.1"/>
<line x1="1039.5" y1="643.3" x2="1058.5" y2="643.3" stroke="#2f378a" stroke-width="1.1"/>
<line x1="1039.5" y1="647.3" x2="1058.5" y2="647.3" stroke="#2f378a" stroke-width="1.1"/>
<line x1="1039.5" y1="665.9" x2="1058.5" y2="665.9" stroke="#2f378a" stroke-width="1.1"/>
<line x1="1039.5" y1="684.5" x2="1058.5" y2="684.5" stroke="#2f378a" stroke-width="1.1"/>
<line x1="1039.5" y1="698.5" x2="1058.5" y2="698.5" stroke="#2f378a" stroke-width="1.1"/>
<line x1="1039.5" y1="701.2" x2="1058.5" y2="701.2" stroke="#2f378a" stroke-width="1.1"/>
<line x1="1039.5" y1="711.5" x2="1058.5" y2="711.5" stroke="#2f378a" stroke-width="1.1"/>
<rect x="1039" y="742.1" width="20" height="18.2" fill="#4751b1" stroke="#2f378a" stroke-width="1"/>
<rect x="1114.1" y="568.7" width="20" height="137.6" fill="#4751b1" stroke="#2f378a" stroke-width="1"/>
<line x1="1114.6" y1="573.9" x2="1133.6" y2="573.9" stroke="#2f378a" stroke-width="1.1"/>
<line x1="1114.6" y1="580.4" x2="1133.6" y2="580.4" stroke="#2f378a" stroke-width="1.1"/>
<line x1="1114.6" y1="598.5" x2="1133.6" y2="598.5" stroke="#2f378a" stroke-width="1.1"/>
<line x1="1114.6" y1="612.6" x2="1133.6" y2="612.6" stroke="#2f378a" stroke-width="1.1"/>
<line x1="1114.6" y1="631.2" x2="1133.6" y2="631.2" stroke="#2f378a" stroke-width="1.1"/>
<line x1="1114.6" y1="633.4" x2="1133.6" y2="633.4" stroke="#2f378a" stroke-width="1.1"/>
<line x1="1114.6" y1="636.6" x2="1133.6" y2="636.6" stroke="#2f378a" stroke-width="1.1"/>
<line x1="1114.6" y1="642.7" x2="1133.6" y2="642.7" stroke="#2f378a" stroke-width="1.1"/>
<line x1="1114.6" y1="661.7" x2="1133.6" y2="661.7" stroke="#2f378a" stroke-width="1.1"/>
<line x1="1114.6" y1="666.5" x2="1133.6" y2="666.5" stroke="#2f378a" stroke-width="1.1"/>
<line x1="1114.6" y1="675.6" x2="1133.6" y2="675.6" stroke="#2f378a" stroke-width="1.1"/>
<line x1="1114.6" y1="678" x2="1133.6" y2="678" stroke="#2f378a" stroke-width="1.1"/>
<line x1="1114.6" y1="696.6" x2="1133.6" y2="696.6" stroke="#2f378a" stroke-width="1.1"/>
<rect x="1114.1" y="710.2" width="20" height="34.3" fill="#4751b1" stroke="#2f378a" stroke-width="1"/>
<line x1="1114.6" y1="726" x2="1133.6" y2="726" stroke="#2f378a" stroke-width="1.1"/>
<rect x="1190.5" y="580.1" width="20" height="95.1" fill="#4751b1" stroke="#2f378a" stroke-width="1"/>
<line x1="1191" y1="589.7" x2="1210" y2="589.7" stroke="#2f378a" stroke-width="1.1"/>
<line x1="1191" y1="605.2" x2="1210" y2="605.2" stroke="#2f378a" stroke-width="1.1"/>
<line x1="1191" y1="624.1" x2="1210" y2="624.1" stroke="#2f378a" stroke-width="1.1"/>
<line x1="1191" y1="641.8" x2="1210" y2="641.8" stroke="#2f378a" stroke-width="1.1"/>
<line x1="1191" y1="650.7" x2="1210" y2="650.7" stroke="#2f378a" stroke-width="1.1"/>
<line x1="1191" y1="656.6" x2="1210" y2="656.6" stroke="#2f378a" stroke-width="1.1"/>
<rect x="1190.5" y="677.1" width="20" height="30.3" fill="#4751b1" stroke="#2f378a" stroke-width="1"/>
<line x1="1191" y1="678.9" x2="1210" y2="678.9" stroke="#2f378a" stroke-width="1.1"/>
<line x1="1191" y1="698.5" x2="1210" y2="698.5" stroke="#2f378a" stroke-width="1.1"/>
<line x1="1191" y1="700.3" x2="1210" y2="700.3" stroke="#2f378a" stroke-width="1.1"/>
<rect x="1266.6" y="581.4" width="20" height="18.6" fill="#4751b1" stroke="#2f378a" stroke-width="1"/>
<rect x="1266.6" y="603.7" width="20" height="18.2" fill="#4751b1" stroke="#2f378a" stroke-width="1"/>
<rect x="1266.6" y="635.8" width="20" height="18.4" fill="#4751b1" stroke="#2f378a" stroke-width="1"/>
<ellipse cx="1048" cy="535" rx="12.2" ry="11.4" fill="#72ac56" stroke="#5a9145" stroke-width="1.1"/>
<ellipse cx="1048" cy="531.8" rx="12.2" ry="11.4" fill="#72ac56" stroke="#5a9145" stroke-width="1.1"/>
<ellipse cx="1124" cy="535.5" rx="12.2" ry="11.4" fill="#72ac56" stroke="#5a9145" stroke-width="1.1"/>
<ellipse cx="1124" cy="529" rx="12.2" ry="11.4" fill="#72ac56" stroke="#5a9145" stroke-width="1.1"/>
<ellipse cx="1200.2" cy="535.5" rx="12.2" ry="11.4" fill="#72ac56" stroke="#5a9145" stroke-width="1.1"/>
<ellipse cx="1200.2" cy="528" rx="12.2" ry="11.4" fill="#72ac56" stroke="#5a9145" stroke-width="1.1"/>
<ellipse cx="1276.5" cy="526.9" rx="12.2" ry="11.4" fill="#72ac56" stroke="#5a9145" stroke-width="1.1"/>
<ellipse cx="1276.5" cy="536" rx="12.2" ry="11.4" fill="#72ac56" stroke="#5a9145" stroke-width="1.1"/>
<ellipse cx="1429.2" cy="525.7" rx="12.2" ry="11.4" fill="#72ac56" stroke="#5a9145" stroke-width="1.1"/>
<rect x="1419" y="527.3" width="20" height="18.5" fill="#4751b1" stroke="#2f378a" stroke-width="1"/>
<text x="949.52" y="536.1" font-size="24.4" font-family='"Liberation Sans", Arial, sans-serif' fill="#111" stroke="#111" stroke-width="0.3" textLength="14.11" lengthAdjust="spacingAndGlyphs">1</text>
<text x="928.14" y="585.1" font-size="24.4" font-family='"Liberation Sans", Arial, sans-serif' fill="#111" stroke="#111" stroke-width="0.3" textLength="35.28" lengthAdjust="spacingAndGlyphs">0.5</text>
<text x="949.27" y="634.1" font-size="24.4" font-family='"Liberation Sans", Arial, sans-serif' fill="#111" stroke="#111" stroke-width="0.3" textLength="14.11" lengthAdjust="spacingAndGlyphs">0</text>
<text x="918" y="683.1" font-size="24.4" font-family='"Liberation Sans", Arial, sans-serif' fill="#111" stroke="#111" stroke-width="0.3" textLength="45.48" lengthAdjust="spacingAndGlyphs">-0.5</text>
<text x="940.23" y="732.1" font-size="24.4" font-family='"Liberation Sans", Arial, sans-serif' fill="#111" stroke="#111" stroke-width="0.3" textLength="23.47" lengthAdjust="spacingAndGlyphs">-1</text>
<text x="918" y="781.1" font-size="24.4" font-family='"Liberation Sans", Arial, sans-serif' fill="#111" stroke="#111" stroke-width="0.3" textLength="45.48" lengthAdjust="spacingAndGlyphs">-1.5</text>
<text x="949.57" y="805.5" font-size="24.4" font-family='"Liberation Sans", Arial, sans-serif' fill="#111" stroke="#111" stroke-width="0.3" textLength="45.7" lengthAdjust="spacingAndGlyphs">-0.2</text>
<text x="1041.83" y="805.5" font-size="24.4" font-family='"Liberation Sans", Arial, sans-serif' fill="#111" stroke="#111" stroke-width="0.3" textLength="14.11" lengthAdjust="spacingAndGlyphs">0</text>
<text x="1107.35" y="805.5" font-size="24.4" font-family='"Liberation Sans", Arial, sans-serif' fill="#111" stroke="#111" stroke-width="0.3" textLength="35.28" lengthAdjust="spacingAndGlyphs">0.2</text>
<text x="1183.03" y="805.5" font-size="24.4" font-family='"Liberation Sans", Arial, sans-serif' fill="#111" stroke="#111" stroke-width="0.3" textLength="35.28" lengthAdjust="spacingAndGlyphs">0.4</text>
<text x="1259.18" y="805.5" font-size="24.4" font-family='"Liberation Sans", Arial, sans-serif' fill="#111" stroke="#111" stroke-width="0.3" textLength="35.28" lengthAdjust="spacingAndGlyphs">0.6</text>
<text x="1335.14" y="805.5" font-size="24.4" font-family='"Liberation Sans", Arial, sans-serif' fill="#111" stroke="#111" stroke-width="0.3" textLength="35.28" lengthAdjust="spacingAndGlyphs">0.8</text>
<text x="1421.31" y="805.5" font-size="24.4" font-family='"Liberation Sans", Arial, sans-serif' fill="#111" stroke="#111" stroke-width="0.3" textLength="14.11" lengthAdjust="spacingAndGlyphs">1</text>
<text x="958.57" y="461.8" font-size="24.4" font-family='"Liberation Sans", Arial, sans-serif' fill="#111" stroke="#111" stroke-width="0.3" textLength="521.47" lengthAdjust="spacingAndGlyphs">Intercepts: R2=(0.0, 0.939), Q2=(0.0, -0.303)</text>
<ellipse cx="1531.7" cy="451.6" rx="11.8" ry="11" fill="#72ac56" stroke="#5a9145" stroke-width="1.1"/>
<text x="1549.4" y="461.6" font-size="24.4" font-family='"Liberation Sans", Arial, sans-serif' fill="#111" stroke="#111" stroke-width="0.3" textLength="31.04" lengthAdjust="spacingAndGlyphs">R2</text>
<rect x="1521.5" y="476.3" width="20.4" height="18.7" fill="#4751b1" stroke="#2f378a" stroke-width="1"/>
<text x="1550.17" y="495.8" font-size="24.4" font-family='"Liberation Sans", Arial, sans-serif' fill="#111" stroke="#111" stroke-width="0.3" textLength="34.46" lengthAdjust="spacingAndGlyphs">Q2</text>
<line x1="209.4" y1="855.2" x2="209.4" y2="1143.9" stroke="#e2e2e2" stroke-width="1.3"/>
<line x1="276.6" y1="855.2" x2="276.6" y2="1143.9" stroke="#e2e2e2" stroke-width="1.3"/>
<line x1="411" y1="855.2" x2="411" y2="1143.9" stroke="#e2e2e2" stroke-width="1.3"/>
<line x1="478.2" y1="855.2" x2="478.2" y2="1143.9" stroke="#e2e2e2" stroke-width="1.3"/>
<line x1="140.7" y1="881.2" x2="545" y2="881.2" stroke="#e2e2e2" stroke-width="1.3"/>
<line x1="140.7" y1="933.68" x2="545" y2="933.68" stroke="#e2e2e2" stroke-width="1.3"/>
<line x1="140.7" y1="986.16" x2="545" y2="986.16" stroke="#e2e2e2" stroke-width="1.3"/>
<line x1="140.7" y1="1038.64" x2="545" y2="1038.64" stroke="#e2e2e2" stroke-width="1.3"/>
<line x1="140.7" y1="1091.12" x2="545" y2="1091.12" stroke="#e2e2e2" stroke-width="1.3"/>
<line x1="343.8" y1="855.2" x2="343.8" y2="1143.9" stroke="#9c9c9c" stroke-width="1.4"/>
<line x1="140.7" y1="1012.4" x2="545" y2="1012.4" stroke="#9c9c9c" stroke-width="1.4"/>
<clipPath id="clipE"><rect x="140.7" y="835.2" width="404.3" height="308.7"/></clipPath>
<g clip-path="url(#clipE)">
<ellipse cx="421.9" cy="889.5" rx="11.2" ry="10.7" fill="#c34021" stroke="#943119" stroke-width="1.2"/>
<ellipse cx="380.25" cy="889.6" rx="11.2" ry="10.7" fill="#c34021" stroke="#943119" stroke-width="1.2"/>
<ellipse cx="365.4" cy="889.95" rx="11.2" ry="10.7" fill="#c34121" stroke="#943119" stroke-width="1.2"/>
<ellipse cx="369.65" cy="890.15" rx="11.2" ry="10.7" fill="#c34221" stroke="#943219" stroke-width="1.2"/>
<ellipse cx="374.5" cy="890.75" rx="11.2" ry="10.7" fill="#c34321" stroke="#943319" stroke-width="1.2"/>
<ellipse cx="387.35" cy="894.2" rx="11.2" ry="10.7" fill="#c34a22" stroke="#95381a" stroke-width="1.2"/>
<ellipse cx="367.45" cy="894.2" rx="11.2" ry="10.7" fill="#c34a22" stroke="#95381a" stroke-width="1.2"/>
<ellipse cx="371.7" cy="894.4" rx="11.2" ry="10.7" fill="#c44a22" stroke="#95381a" stroke-width="1.2"/>
<ellipse cx="360.35" cy="894.55" rx="11.2" ry="10.7" fill="#c44a22" stroke="#95391a" stroke-width="1.2"/>
<ellipse cx="422.8" cy="894.7" rx="11.2" ry="10.7" fill="#c44b22" stroke="#95391a" stroke-width="1.2"/>
<ellipse cx="377.35" cy="895.15" rx="11.2" ry="10.7" fill="#c44c22" stroke="#953a1a" stroke-width="1.2"/>
<ellipse cx="414.1" cy="895.2" rx="11.2" ry="10.7" fill="#c44c22" stroke="#953a1a" stroke-width="1.2"/>
<ellipse cx="432.5" cy="895.7" rx="11.2" ry="10.7" fill="#c44d22" stroke="#953a1a" stroke-width="1.2"/>
<ellipse cx="382.5" cy="895.8" rx="11.2" ry="10.7" fill="#c44d22" stroke="#953b1a" stroke-width="1.2"/>
<ellipse cx="393.8" cy="896.2" rx="11.2" ry="10.7" fill="#c44e22" stroke="#953b1a" stroke-width="1.2"/>
<ellipse cx="355.15" cy="896.55" rx="11.2" ry="10.7" fill="#c44f23" stroke="#953c1a" stroke-width="1.2"/>
<ellipse cx="409.65" cy="896.8" rx="11.2" ry="10.7" fill="#c44f23" stroke="#953c1a" stroke-width="1.2"/>
<ellipse cx="417" cy="898.5" rx="11.2" ry="10.7" fill="#c45223" stroke="#953f1b" stroke-width="1.2"/>
<ellipse cx="368.25" cy="898.65" rx="11.2" ry="10.7" fill="#c45323" stroke="#953f1b" stroke-width="1.2"/>
<ellipse cx="361.15" cy="899" rx="11.2" ry="10.7" fill="#c45423" stroke="#953f1b" stroke-width="1.2"/>
<ellipse cx="406.8" cy="899.85" rx="11.2" ry="10.7" fill="#c45523" stroke="#95411b" stroke-width="1.2"/>
<ellipse cx="381.85" cy="900.4" rx="11.2" ry="10.7" fill="#c45624" stroke="#95421b" stroke-width="1.2"/>
<ellipse cx="354.15" cy="900.65" rx="11.2" ry="10.7" fill="#c45724" stroke="#95421b" stroke-width="1.2"/>
<ellipse cx="396.4" cy="901.2" rx="11.2" ry="10.7" fill="#c45824" stroke="#95431b" stroke-width="1.2"/>
<ellipse cx="424.7" cy="901.4" rx="11.2" ry="10.7" fill="#c45824" stroke="#95431b" stroke-width="1.2"/>
<ellipse cx="386.95" cy="901.45" rx="11.2" ry="10.7" fill="#c45824" stroke="#95431b" stroke-width="1.2"/>
<ellipse cx="410.55" cy="902" rx="11.2" ry="10.7" fill="#c45a24" stroke="#95441b" stroke-width="1.2"/>
<ellipse cx="363.2" cy="903.25" rx="11.2" ry="10.7" fill="#c45c24" stroke="#95461c" stroke-width="1.2"/>
<ellipse cx="370.5" cy="904.85" rx="11.2" ry="10.7" fill="#c46025" stroke="#95491c" stroke-width="1.2"/>
<ellipse cx="356.2" cy="904.9" rx="11.2" ry="10.7" fill="#c46025" stroke="#95491c" stroke-width="1.2"/>
<ellipse cx="386.3" cy="906.05" rx="11.2" ry="10.7" fill="#c46325" stroke="#954b1c" stroke-width="1.2"/>
<ellipse cx="351" cy="906.9" rx="11.2" ry="10.7" fill="#c46425" stroke="#954c1c" stroke-width="1.2"/>
<ellipse cx="381.45" cy="907.65" rx="11.2" ry="10.7" fill="#c46626" stroke="#954e1d" stroke-width="1.2"/>
<ellipse cx="359.95" cy="908.3" rx="11.2" ry="10.7" fill="#c46826" stroke="#954f1d" stroke-width="1.2"/>
<ellipse cx="396" cy="908.45" rx="11.2" ry="10.7" fill="#c46826" stroke="#954f1d" stroke-width="1.2"/>
<ellipse cx="420.05" cy="908.7" rx="11.2" ry="10.7" fill="#c46826" stroke="#954f1d" stroke-width="1.2"/>
<ellipse cx="429.75" cy="909.7" rx="11.2" ry="10.7" fill="#c46b26" stroke="#95511d" stroke-width="1.2"/>
<ellipse cx="408.95" cy="910.1" rx="11.2" ry="10.7" fill="#c46c26" stroke="#95521d" stroke-width="1.2"/>
<ellipse cx="415.6" cy="910.3" rx="11.2" ry="10.7" fill="#c46c26" stroke="#95521d" stroke-width="1.2"/>
<ellipse cx="354.75" cy="910.3" rx="11.2" ry="10.7" fill="#c46c26" stroke="#95521d" stroke-width="1.2"/>
<ellipse cx="374.95" cy="910.5" rx="11.2" ry="10.7" fill="#c46c26" stroke="#95521d" stroke-width="1.2"/>
<ellipse cx="434.8" cy="911.1" rx="11.2" ry="10.7" fill="#c46e26" stroke="#95531d" stroke-width="1.2"/>
<ellipse cx="404.5" cy="911.7" rx="11.2" ry="10.7" fill="#c46f27" stroke="#95541d" stroke-width="1.2"/>
<ellipse cx="360.75" cy="912.75" rx="11.2" ry="10.7" fill="#c47127" stroke="#95561e" stroke-width="1.2"/>
<ellipse cx="378.2" cy="913.35" rx="11.2" ry="10.7" fill="#c47327" stroke="#95571e" stroke-width="1.2"/>
<ellipse cx="350" cy="913.4" rx="11.2" ry="10.7" fill="#c47327" stroke="#95571e" stroke-width="1.2"/>
<ellipse cx="406.9" cy="915.35" rx="11.2" ry="10.7" fill="#c47728" stroke="#955b1e" stroke-width="1.2"/>
<ellipse cx="356" cy="915.85" rx="11.2" ry="10.7" fill="#c47828" stroke="#955b1e" stroke-width="1.2"/>
<ellipse cx="371.7" cy="916.2" rx="11.2" ry="10.7" fill="#c47928" stroke="#955c1e" stroke-width="1.2"/>
<ellipse cx="394.4" cy="916.55" rx="11.2" ry="10.7" fill="#c47a28" stroke="#955d1e" stroke-width="1.2"/>
<ellipse cx="349" cy="917.5" rx="11.2" ry="10.7" fill="#c47d29" stroke="#955f1f" stroke-width="1.2"/>
<ellipse cx="430.15" cy="918.4" rx="11.2" ry="10.7" fill="#c58029" stroke="#95611f" stroke-width="1.2"/>
<ellipse cx="414" cy="918.4" rx="11.2" ry="10.7" fill="#c58029" stroke="#95611f" stroke-width="1.2"/>
<ellipse cx="366" cy="919" rx="11.2" ry="10.7" fill="#c5822a" stroke="#966320" stroke-width="1.2"/>
<ellipse cx="382.65" cy="919" rx="11.2" ry="10.7" fill="#c5822a" stroke="#966320" stroke-width="1.2"/>
<ellipse cx="388.3" cy="919.8" rx="11.2" ry="10.7" fill="#c5842a" stroke="#966420" stroke-width="1.2"/>
<ellipse cx="352.75" cy="920.9" rx="11.2" ry="10.7" fill="#c5882b" stroke="#966721" stroke-width="1.2"/>
<ellipse cx="416.4" cy="922.05" rx="11.2" ry="10.7" fill="#c68b2c" stroke="#966a21" stroke-width="1.2"/>
<ellipse cx="396.8" cy="923.05" rx="11.2" ry="10.7" fill="#c68f2c" stroke="#976c22" stroke-width="1.2"/>
<ellipse cx="405.3" cy="923.45" rx="11.2" ry="10.7" fill="#c6902d" stroke="#976d22" stroke-width="1.2"/>
<ellipse cx="362.75" cy="924.05" rx="11.2" ry="10.7" fill="#c7922d" stroke="#976f22" stroke-width="1.2"/>
<ellipse cx="353.85" cy="924.9" rx="11.2" ry="10.7" fill="#c7952e" stroke="#977123" stroke-width="1.2"/>
<ellipse cx="385.05" cy="925.5" rx="11.2" ry="10.7" fill="#c7972e" stroke="#977223" stroke-width="1.2"/>
<ellipse cx="399.2" cy="926.7" rx="11.2" ry="10.7" fill="#c79a2f" stroke="#987524" stroke-width="1.2"/>
<ellipse cx="358" cy="927.15" rx="11.2" ry="10.7" fill="#c89c2f" stroke="#987624" stroke-width="1.2"/>
<ellipse cx="373.7" cy="927.5" rx="11.2" ry="10.7" fill="#c89d2f" stroke="#987724" stroke-width="1.2"/>
<ellipse cx="349.1" cy="928" rx="11.2" ry="10.7" fill="#c89f30" stroke="#987924" stroke-width="1.2"/>
<ellipse cx="379.35" cy="928.3" rx="11.2" ry="10.7" fill="#c8a030" stroke="#987924" stroke-width="1.2"/>
<ellipse cx="359.1" cy="931.15" rx="11.2" ry="10.7" fill="#c8a431" stroke="#987d25" stroke-width="1.2"/>
<ellipse cx="379.7" cy="932.35" rx="11.2" ry="10.7" fill="#c9a631" stroke="#987e26" stroke-width="1.2"/>
<ellipse cx="385.35" cy="933.15" rx="11.2" ry="10.7" fill="#c9a732" stroke="#997f26" stroke-width="1.2"/>
<ellipse cx="391.8" cy="933.35" rx="11.2" ry="10.7" fill="#c9a732" stroke="#997f26" stroke-width="1.2"/>
<ellipse cx="400.3" cy="933.75" rx="11.2" ry="10.7" fill="#c9a832" stroke="#998026" stroke-width="1.2"/>
<ellipse cx="374" cy="935.15" rx="11.2" ry="10.7" fill="#c9aa33" stroke="#998126" stroke-width="1.2"/>
<ellipse cx="369.9" cy="937.75" rx="11.2" ry="10.7" fill="#c9ae34" stroke="#998427" stroke-width="1.2"/>
<ellipse cx="408.55" cy="938.8" rx="11.2" ry="10.7" fill="#c9b034" stroke="#998627" stroke-width="1.2"/>
<ellipse cx="361" cy="939" rx="11.2" ry="10.7" fill="#cab034" stroke="#998628" stroke-width="1.2"/>
<ellipse cx="352.1" cy="939.85" rx="11.2" ry="10.7" fill="#cab134" stroke="#998728" stroke-width="1.2"/>
<ellipse cx="386.45" cy="940.2" rx="11.2" ry="10.7" fill="#cab234" stroke="#998728" stroke-width="1.2"/>
<ellipse cx="375.9" cy="942.6" rx="11.2" ry="10.7" fill="#cab635" stroke="#9a8a29" stroke-width="1.2"/>
<ellipse cx="348.2" cy="942.8" rx="11.2" ry="10.7" fill="#cab635" stroke="#9a8a29" stroke-width="1.2"/>
<ellipse cx="382.35" cy="942.8" rx="11.2" ry="10.7" fill="#cab635" stroke="#9a8a29" stroke-width="1.2"/>
<ellipse cx="401.15" cy="945.45" rx="11.2" ry="10.7" fill="#caba36" stroke="#9a8d29" stroke-width="1.2"/>
<ellipse cx="355" cy="945.65" rx="11.2" ry="10.7" fill="#caba37" stroke="#9a8e29" stroke-width="1.2"/>
<ellipse cx="362.9" cy="946.45" rx="11.2" ry="10.7" fill="#cbbb37" stroke="#9a8e2a" stroke-width="1.2"/>
<ellipse cx="396.95" cy="948.1" rx="11.2" ry="10.7" fill="#cbbe37" stroke="#9a902a" stroke-width="1.2"/>
<ellipse cx="382.4" cy="949.5" rx="11.2" ry="10.7" fill="#cbc038" stroke="#9a922b" stroke-width="1.2"/>
<ellipse cx="388.85" cy="949.7" rx="11.2" ry="10.7" fill="#cbc038" stroke="#9a922b" stroke-width="1.2"/>
<ellipse cx="365.9" cy="950.1" rx="11.2" ry="10.7" fill="#cac038" stroke="#9a922b" stroke-width="1.2"/>
<ellipse cx="357" cy="951.35" rx="11.2" ry="10.7" fill="#c8c138" stroke="#98932b" stroke-width="1.2"/>
<ellipse cx="378.3" cy="952.1" rx="11.2" ry="10.7" fill="#c7c238" stroke="#98932b" stroke-width="1.2"/>
<ellipse cx="405.2" cy="953.15" rx="11.2" ry="10.7" fill="#c6c238" stroke="#96942b" stroke-width="1.2"/>
<ellipse cx="371" cy="953.3" rx="11.2" ry="10.7" fill="#c6c238" stroke="#96942b" stroke-width="1.2"/>
<ellipse cx="362.1" cy="954.55" rx="11.2" ry="10.7" fill="#c4c339" stroke="#95942b" stroke-width="1.2"/>
<ellipse cx="346.2" cy="954.65" rx="11.2" ry="10.7" fill="#c4c339" stroke="#95942b" stroke-width="1.2"/>
<ellipse cx="351.55" cy="955.8" rx="11.2" ry="10.7" fill="#c2c439" stroke="#94952b" stroke-width="1.2"/>
<ellipse cx="368.15" cy="956.15" rx="11.2" ry="10.7" fill="#c2c439" stroke="#93952b" stroke-width="1.2"/>
<ellipse cx="392.9" cy="957.4" rx="11.2" ry="10.7" fill="#c0c539" stroke="#92962b" stroke-width="1.2"/>
<ellipse cx="359.25" cy="957.4" rx="11.2" ry="10.7" fill="#c0c539" stroke="#92962b" stroke-width="1.2"/>
<ellipse cx="411.25" cy="959.4" rx="11.2" ry="10.7" fill="#bdc639" stroke="#90962b" stroke-width="1.2"/>
<ellipse cx="354.55" cy="959.45" rx="11.2" ry="10.7" fill="#bdc639" stroke="#90962b" stroke-width="1.2"/>
<ellipse cx="377.5" cy="960.2" rx="11.2" ry="10.7" fill="#bcc639" stroke="#8f972b" stroke-width="1.2"/>
<ellipse cx="407.05" cy="962.05" rx="11.2" ry="10.7" fill="#bac839" stroke="#8d982c" stroke-width="1.2"/>
<ellipse cx="394.1" cy="962.25" rx="11.2" ry="10.7" fill="#bac839" stroke="#8d982c" stroke-width="1.2"/>
<ellipse cx="359.65" cy="962.65" rx="11.2" ry="10.7" fill="#b9c839" stroke="#8d982c" stroke-width="1.2"/>
<ellipse cx="374.65" cy="963.05" rx="11.2" ry="10.7" fill="#b8c839" stroke="#8c982c" stroke-width="1.2"/>
<ellipse cx="386" cy="963.85" rx="11.2" ry="10.7" fill="#b7c93a" stroke="#8b982c" stroke-width="1.2"/>
<ellipse cx="367.35" cy="964.25" rx="11.2" ry="10.7" fill="#b7c93a" stroke="#8b992c" stroke-width="1.2"/>
<ellipse cx="352.5" cy="964.3" rx="11.2" ry="10.7" fill="#b7c93a" stroke="#8b992c" stroke-width="1.2"/>
<ellipse cx="378.7" cy="965.05" rx="11.2" ry="10.7" fill="#b6c93a" stroke="#8a992c" stroke-width="1.2"/>
<ellipse cx="356.8" cy="965.5" rx="11.2" ry="10.7" fill="#b5ca3a" stroke="#8a992c" stroke-width="1.2"/>
<ellipse cx="382.35" cy="967.1" rx="11.2" ry="10.7" fill="#b3cb3a" stroke="#889a2c" stroke-width="1.2"/>
<ellipse cx="375.85" cy="967.9" rx="11.2" ry="10.7" fill="#b2cb3a" stroke="#879a2c" stroke-width="1.2"/>
<ellipse cx="362.6" cy="968.2" rx="11.2" ry="10.7" fill="#b2cb3a" stroke="#879a2c" stroke-width="1.2"/>
<ellipse cx="352.05" cy="969.45" rx="11.2" ry="10.7" fill="#b0cb3a" stroke="#869a2c" stroke-width="1.2"/>
<ellipse cx="347.5" cy="969.95" rx="11.2" ry="10.7" fill="#afcb3a" stroke="#859a2c" stroke-width="1.2"/>
<ellipse cx="359.75" cy="971.05" rx="11.2" ry="10.7" fill="#aecb3a" stroke="#849a2c" stroke-width="1.2"/>
<ellipse cx="372.2" cy="971.15" rx="11.2" ry="10.7" fill="#aecb3a" stroke="#849a2c" stroke-width="1.2"/>
<ellipse cx="383.55" cy="971.95" rx="11.2" ry="10.7" fill="#adcb3a" stroke="#839a2c" stroke-width="1.2"/>
<ellipse cx="350.45" cy="975.5" rx="11.2" ry="10.7" fill="#a9ca3a" stroke="#809a2c" stroke-width="1.2"/>
<ellipse cx="364.1" cy="976.4" rx="11.2" ry="10.7" fill="#a8ca3a" stroke="#7f9a2c" stroke-width="1.2"/>
<ellipse cx="381.95" cy="979.25" rx="11.2" ry="10.7" fill="#a4ca3a" stroke="#7d992c" stroke-width="1.2"/>
<ellipse cx="359.35" cy="980.35" rx="11.2" ry="10.7" fill="#a3ca3a" stroke="#7c992c" stroke-width="1.2"/>
<ellipse cx="371.8" cy="980.45" rx="11.2" ry="10.7" fill="#a3ca3a" stroke="#7c992c" stroke-width="1.2"/>
<ellipse cx="354.8" cy="980.85" rx="11.2" ry="10.7" fill="#a2ca3a" stroke="#7b992c" stroke-width="1.2"/>
<ellipse cx="378.3" cy="982.5" rx="11.2" ry="10.7" fill="#a0ca3a" stroke="#7a992c" stroke-width="1.2"/>
<ellipse cx="349.65" cy="983.6" rx="11.2" ry="10.7" fill="#9fca3a" stroke="#79992c" stroke-width="1.2"/>
<ellipse cx="345.1" cy="984.1" rx="11.2" ry="10.7" fill="#9eca3a" stroke="#78992c" stroke-width="1.2"/>
<ellipse cx="370.2" cy="987.75" rx="11.2" ry="10.7" fill="#9ac93a" stroke="#75992c" stroke-width="1.2"/>
<ellipse cx="354" cy="988.95" rx="11.2" ry="10.7" fill="#98c93a" stroke="#74992c" stroke-width="1.2"/>
<ellipse cx="369.35" cy="991.9" rx="11.2" ry="10.7" fill="#95c93a" stroke="#71992c" stroke-width="1.2"/>
<ellipse cx="358.35" cy="992.85" rx="11.2" ry="10.7" fill="#93c93a" stroke="#70982c" stroke-width="1.2"/>
<ellipse cx="363.3" cy="994.25" rx="11.2" ry="10.7" fill="#92c83a" stroke="#6f982c" stroke-width="1.2"/>
<ellipse cx="348.65" cy="996.1" rx="11.2" ry="10.7" fill="#8fc83a" stroke="#6d982c" stroke-width="1.2"/>
<ellipse cx="369.8" cy="996.3" rx="11.2" ry="10.7" fill="#8fc83a" stroke="#6d982c" stroke-width="1.2"/>
<ellipse cx="353.6" cy="997.5" rx="11.2" ry="10.7" fill="#8dc83a" stroke="#6b982c" stroke-width="1.2"/>
<ellipse cx="344.65" cy="999.55" rx="11.2" ry="10.7" fill="#8bc83a" stroke="#69982c" stroke-width="1.2"/>
<ellipse cx="357.95" cy="1001.4" rx="11.2" ry="10.7" fill="#88c73a" stroke="#68982c" stroke-width="1.2"/>
<ellipse cx="349" cy="1003.45" rx="11.2" ry="10.7" fill="#86c73a" stroke="#66972c" stroke-width="1.2"/>
<ellipse cx="345" cy="1004.8" rx="11.2" ry="10.7" fill="#84c73a" stroke="#64972c" stroke-width="1.2"/>
<ellipse cx="353.95" cy="1004.85" rx="11.2" ry="10.7" fill="#84c73a" stroke="#64972c" stroke-width="1.2"/>
<ellipse cx="340" cy="1007.55" rx="11.2" ry="10.7" fill="#80c73a" stroke="#62972c" stroke-width="1.2"/>
<ellipse cx="340" cy="1012.45" rx="11.2" ry="10.7" fill="#7ac63a" stroke="#5d962c" stroke-width="1.2"/>
<ellipse cx="343.8" cy="1015.4" rx="11.2" ry="10.7" fill="#78c63a" stroke="#5b962c" stroke-width="1.2"/>
<ellipse cx="334.9" cy="1018.6" rx="11.2" ry="10.7" fill="#76c53b" stroke="#5a962d" stroke-width="1.2"/>
<ellipse cx="338.8" cy="1020.95" rx="11.2" ry="10.7" fill="#75c53b" stroke="#59952d" stroke-width="1.2"/>
<ellipse cx="329.9" cy="1021.35" rx="11.2" ry="10.7" fill="#75c53b" stroke="#59952d" stroke-width="1.2"/>
<ellipse cx="343.8" cy="1021.4" rx="11.2" ry="10.7" fill="#75c53b" stroke="#59952d" stroke-width="1.2"/>
<ellipse cx="333.7" cy="1024.3" rx="11.2" ry="10.7" fill="#73c43c" stroke="#57952d" stroke-width="1.2"/>
<ellipse cx="329.5" cy="1025.8" rx="11.2" ry="10.7" fill="#72c43c" stroke="#57952e" stroke-width="1.2"/>
<ellipse cx="340" cy="1026.5" rx="11.2" ry="10.7" fill="#72c43d" stroke="#56952e" stroke-width="1.2"/>
<ellipse cx="333.3" cy="1028.75" rx="11.2" ry="10.7" fill="#71c33f" stroke="#569430" stroke-width="1.2"/>
<ellipse cx="324.4" cy="1029.15" rx="11.2" ry="10.7" fill="#70c33f" stroke="#559430" stroke-width="1.2"/>
<ellipse cx="343.8" cy="1029.45" rx="11.2" ry="10.7" fill="#70c33f" stroke="#559430" stroke-width="1.2"/>
<ellipse cx="319.55" cy="1031.15" rx="11.2" ry="10.7" fill="#70c241" stroke="#559431" stroke-width="1.2"/>
<ellipse cx="335.75" cy="1032.8" rx="11.2" ry="10.7" fill="#6fc242" stroke="#549332" stroke-width="1.2"/>
<ellipse cx="326.85" cy="1033.2" rx="11.2" ry="10.7" fill="#6fc242" stroke="#549332" stroke-width="1.2"/>
<ellipse cx="331.55" cy="1033.4" rx="11.2" ry="10.7" fill="#6fc243" stroke="#549333" stroke-width="1.2"/>
<ellipse cx="341.4" cy="1035.2" rx="11.2" ry="10.7" fill="#6ec144" stroke="#549334" stroke-width="1.2"/>
<ellipse cx="319.15" cy="1035.6" rx="11.2" ry="10.7" fill="#6ec144" stroke="#539334" stroke-width="1.2"/>
<ellipse cx="326.45" cy="1037.65" rx="11.2" ry="10.7" fill="#6dc146" stroke="#539235" stroke-width="1.2"/>
<ellipse cx="314.85" cy="1038.1" rx="11.2" ry="10.7" fill="#6dc146" stroke="#539236" stroke-width="1.2"/>
<ellipse cx="336.95" cy="1038.35" rx="11.2" ry="10.7" fill="#6dc047" stroke="#539236" stroke-width="1.2"/>
<ellipse cx="341.3" cy="1039.45" rx="11.2" ry="10.7" fill="#6cc048" stroke="#529236" stroke-width="1.2"/>
<ellipse cx="321.6" cy="1039.65" rx="11.2" ry="10.7" fill="#6cc048" stroke="#529237" stroke-width="1.2"/>
<ellipse cx="332.1" cy="1040.05" rx="11.2" ry="10.7" fill="#6cc048" stroke="#529237" stroke-width="1.2"/>
<ellipse cx="334.55" cy="1044.1" rx="11.2" ry="10.7" fill="#6cc04d" stroke="#52923b" stroke-width="1.2"/>
<ellipse cx="324.5" cy="1044.3" rx="11.2" ry="10.7" fill="#6cc04d" stroke="#52923b" stroke-width="1.2"/>
<ellipse cx="319.65" cy="1046.3" rx="11.2" ry="10.7" fill="#6cbf50" stroke="#52913d" stroke-width="1.2"/>
<ellipse cx="300.7" cy="1046.6" rx="11.2" ry="10.7" fill="#6cbf50" stroke="#52913d" stroke-width="1.2"/>
<ellipse cx="326.95" cy="1048.35" rx="11.2" ry="10.7" fill="#6cbf52" stroke="#52913f" stroke-width="1.2"/>
<ellipse cx="332.6" cy="1050.75" rx="11.2" ry="10.7" fill="#6cbf55" stroke="#529141" stroke-width="1.2"/>
<ellipse cx="311.2" cy="1051.05" rx="11.2" ry="10.7" fill="#6cbf56" stroke="#529141" stroke-width="1.2"/>
<ellipse cx="340.9" cy="1055.25" rx="11.2" ry="10.7" fill="#6cbe5b" stroke="#529145" stroke-width="1.2"/>
<ellipse cx="302.7" cy="1057.95" rx="11.2" ry="10.7" fill="#6cbe5e" stroke="#529147" stroke-width="1.2"/>
<ellipse cx="319.1" cy="1058.7" rx="11.2" ry="10.7" fill="#6cbe5f" stroke="#529048" stroke-width="1.2"/>
<ellipse cx="292.2" cy="1059.15" rx="11.2" ry="10.7" fill="#6cbe5f" stroke="#529049" stroke-width="1.2"/>
<ellipse cx="333.3" cy="1059.5" rx="11.2" ry="10.7" fill="#6cbe60" stroke="#529049" stroke-width="1.2"/>
<ellipse cx="297.1" cy="1061.75" rx="11.2" ry="10.7" fill="#6cbe64" stroke="#52904c" stroke-width="1.2"/>
<ellipse cx="302.7" cy="1063.6" rx="11.2" ry="10.7" fill="#6cbe67" stroke="#52904e" stroke-width="1.2"/>
<ellipse cx="328.85" cy="1064.75" rx="11.2" ry="10.7" fill="#6cbe69" stroke="#529050" stroke-width="1.2"/>
<ellipse cx="307.6" cy="1066.2" rx="11.2" ry="10.7" fill="#6bbd6c" stroke="#529052" stroke-width="1.2"/>
<ellipse cx="297.1" cy="1067.4" rx="11.2" ry="10.7" fill="#6bbd6e" stroke="#529054" stroke-width="1.2"/>
<ellipse cx="322.95" cy="1068.45" rx="11.2" ry="10.7" fill="#6bbd70" stroke="#529055" stroke-width="1.2"/>
<ellipse cx="337.15" cy="1069.25" rx="11.2" ry="10.7" fill="#6bbd72" stroke="#529056" stroke-width="1.2"/>
<ellipse cx="312" cy="1070.5" rx="11.2" ry="10.7" fill="#6bbd74" stroke="#519058" stroke-width="1.2"/>
<ellipse cx="341.3" cy="1071" rx="11.2" ry="10.7" fill="#6bbd75" stroke="#519059" stroke-width="1.2"/>
<ellipse cx="301.5" cy="1071.7" rx="11.2" ry="10.7" fill="#6bbd76" stroke="#51905a" stroke-width="1.2"/>
<ellipse cx="293.8" cy="1073.7" rx="11.2" ry="10.7" fill="#6bbd7a" stroke="#518f5c" stroke-width="1.2"/>
<ellipse cx="306.4" cy="1074.3" rx="11.2" ry="10.7" fill="#6bbd7b" stroke="#518f5d" stroke-width="1.2"/>
<ellipse cx="261" cy="1075.75" rx="11.2" ry="10.7" fill="#6bbc7d" stroke="#518f5f" stroke-width="1.2"/>
<ellipse cx="336.85" cy="1076.25" rx="11.2" ry="10.7" fill="#6abc7e" stroke="#518f60" stroke-width="1.2"/>
<ellipse cx="298.7" cy="1076.3" rx="11.2" ry="10.7" fill="#6abc7e" stroke="#518f60" stroke-width="1.2"/>
<ellipse cx="245.45" cy="1076.55" rx="11.2" ry="10.7" fill="#6abc7f" stroke="#518f60" stroke-width="1.2"/>
<ellipse cx="321.75" cy="1076.55" rx="11.2" ry="10.7" fill="#6abc7f" stroke="#518f60" stroke-width="1.2"/>
<ellipse cx="308.85" cy="1079.15" rx="11.2" ry="10.7" fill="#6abb83" stroke="#518e64" stroke-width="1.2"/>
<ellipse cx="254.35" cy="1080.4" rx="11.2" ry="10.7" fill="#6abb85" stroke="#508e65" stroke-width="1.2"/>
<ellipse cx="303.1" cy="1080.6" rx="11.2" ry="10.7" fill="#6abb86" stroke="#508e66" stroke-width="1.2"/>
<ellipse cx="329.45" cy="1081.4" rx="11.2" ry="10.7" fill="#6abb87" stroke="#508e67" stroke-width="1.2"/>
<ellipse cx="324.2" cy="1081.4" rx="11.2" ry="10.7" fill="#6abb87" stroke="#508e67" stroke-width="1.2"/>
<ellipse cx="263.25" cy="1082.85" rx="11.2" ry="10.7" fill="#69ba8a" stroke="#508e69" stroke-width="1.2"/>
<ellipse cx="334.7" cy="1083" rx="11.2" ry="10.7" fill="#69ba8a" stroke="#508e69" stroke-width="1.2"/>
<ellipse cx="318.5" cy="1083.45" rx="11.2" ry="10.7" fill="#69ba8b" stroke="#508d69" stroke-width="1.2"/>
<ellipse cx="313.25" cy="1083.45" rx="11.2" ry="10.7" fill="#69ba8b" stroke="#508d69" stroke-width="1.2"/>
<ellipse cx="247.7" cy="1083.65" rx="11.2" ry="10.7" fill="#69ba8b" stroke="#508d6a" stroke-width="1.2"/>
<ellipse cx="338.85" cy="1084.75" rx="11.2" ry="10.7" fill="#69ba8d" stroke="#508d6b" stroke-width="1.2"/>
<ellipse cx="305.4" cy="1086.8" rx="11.2" ry="10.7" fill="#69b990" stroke="#508d6e" stroke-width="1.2"/>
<ellipse cx="275.8" cy="1086.9" rx="11.2" ry="10.7" fill="#69b991" stroke="#508d6e" stroke-width="1.2"/>
<ellipse cx="320.95" cy="1088.3" rx="11.2" ry="10.7" fill="#68b993" stroke="#4f8c70" stroke-width="1.2"/>
<ellipse cx="244.05" cy="1088.5" rx="11.2" ry="10.7" fill="#68b993" stroke="#4f8c70" stroke-width="1.2"/>
<ellipse cx="265.65" cy="1088.5" rx="11.2" ry="10.7" fill="#68b993" stroke="#4f8c70" stroke-width="1.2"/>
<ellipse cx="297.7" cy="1088.8" rx="11.2" ry="10.7" fill="#68b994" stroke="#4f8c70" stroke-width="1.2"/>
<ellipse cx="288.55" cy="1089.1" rx="11.2" ry="10.7" fill="#68b994" stroke="#4f8c71" stroke-width="1.2"/>
<ellipse cx="331.45" cy="1089.9" rx="11.2" ry="10.7" fill="#68b896" stroke="#4f8c72" stroke-width="1.2"/>
<ellipse cx="326.2" cy="1089.9" rx="11.2" ry="10.7" fill="#68b896" stroke="#4f8c72" stroke-width="1.2"/>
<ellipse cx="307.85" cy="1091.65" rx="11.2" ry="10.7" fill="#68b899" stroke="#4f8c74" stroke-width="1.2"/>
<ellipse cx="252.95" cy="1092.35" rx="11.2" ry="10.7" fill="#68b89a" stroke="#4f8c75" stroke-width="1.2"/>
<ellipse cx="259" cy="1093.15" rx="11.2" ry="10.7" fill="#68b89b" stroke="#4f8c76" stroke-width="1.2"/>
<ellipse cx="296.65" cy="1093.9" rx="11.2" ry="10.7" fill="#68b89d" stroke="#4f8c77" stroke-width="1.2"/>
<ellipse cx="290.85" cy="1095.3" rx="11.2" ry="10.7" fill="#67b79f" stroke="#4f8b79" stroke-width="1.2"/>
<ellipse cx="271.55" cy="1097.2" rx="11.2" ry="10.7" fill="#67b7a2" stroke="#4e8b7b" stroke-width="1.2"/>
<ellipse cx="260.25" cy="1097.6" rx="11.2" ry="10.7" fill="#67b7a3" stroke="#4e8b7c" stroke-width="1.2"/>
<ellipse cx="255.35" cy="1098" rx="11.2" ry="10.7" fill="#67b7a4" stroke="#4e8b7c" stroke-width="1.2"/>
<ellipse cx="314.05" cy="1098.8" rx="11.2" ry="10.7" fill="#67b7a5" stroke="#4e8b7d" stroke-width="1.2"/>
<ellipse cx="338.35" cy="1099.75" rx="11.2" ry="10.7" fill="#67b7a6" stroke="#4e8b7f" stroke-width="1.2"/>
<ellipse cx="298.95" cy="1100.1" rx="11.2" ry="10.7" fill="#67b7a7" stroke="#4e8b7f" stroke-width="1.2"/>
<ellipse cx="289.8" cy="1100.4" rx="11.2" ry="10.7" fill="#67b7a8" stroke="#4e8b7f" stroke-width="1.2"/>
<ellipse cx="272.8" cy="1101.65" rx="11.2" ry="10.7" fill="#66b6aa" stroke="#4e8b81" stroke-width="1.2"/>
<ellipse cx="333.85" cy="1102" rx="11.2" ry="10.7" fill="#66b6aa" stroke="#4e8b81" stroke-width="1.2"/>
<ellipse cx="306.2" cy="1102.15" rx="11.2" ry="10.7" fill="#66b6aa" stroke="#4e8b82" stroke-width="1.2"/>
<ellipse cx="256.6" cy="1102.45" rx="11.2" ry="10.7" fill="#66b6ab" stroke="#4e8b82" stroke-width="1.2"/>
<ellipse cx="280.05" cy="1103.25" rx="11.2" ry="10.7" fill="#66b6ac" stroke="#4e8a83" stroke-width="1.2"/>
<ellipse cx="262.65" cy="1103.25" rx="11.2" ry="10.7" fill="#66b6ac" stroke="#4e8a83" stroke-width="1.2"/>
<ellipse cx="269.9" cy="1104.85" rx="11.2" ry="10.7" fill="#66b6af" stroke="#4d8a85" stroke-width="1.2"/>
<ellipse cx="305.15" cy="1107.25" rx="11.2" ry="10.7" fill="#65b4b1" stroke="#4d8986" stroke-width="1.2"/>
<ellipse cx="288.15" cy="1108.05" rx="11.2" ry="10.7" fill="#64b4b1" stroke="#4c8887" stroke-width="1.2"/>
<ellipse cx="271.15" cy="1109.3" rx="11.2" ry="10.7" fill="#64b3b2" stroke="#4c8888" stroke-width="1.2"/>
<ellipse cx="335.5" cy="1110.25" rx="11.2" ry="10.7" fill="#63b2b3" stroke="#4c8788" stroke-width="1.2"/>
<ellipse cx="321.7" cy="1110.9" rx="11.2" ry="10.7" fill="#63b2b4" stroke="#4b8789" stroke-width="1.2"/>
<ellipse cx="338" cy="1114" rx="11.2" ry="10.7" fill="#61afb6" stroke="#4a858a" stroke-width="1.2"/>
<ellipse cx="302.35" cy="1114.95" rx="11.2" ry="10.7" fill="#60adb6" stroke="#49848a" stroke-width="1.2"/>
<ellipse cx="294.65" cy="1115.55" rx="11.2" ry="10.7" fill="#60acb6" stroke="#49838a" stroke-width="1.2"/>
<ellipse cx="333.5" cy="1116.25" rx="11.2" ry="10.7" fill="#5fabb6" stroke="#48828a" stroke-width="1.2"/>
<ellipse cx="309.6" cy="1117" rx="11.2" ry="10.7" fill="#5ea9b6" stroke="#48818a" stroke-width="1.2"/>
<ellipse cx="315.65" cy="1117.8" rx="11.2" ry="10.7" fill="#5ea8b6" stroke="#47808a" stroke-width="1.2"/>
<ellipse cx="338.35" cy="1118.35" rx="11.2" ry="10.7" fill="#5da7b6" stroke="#477f8a" stroke-width="1.2"/>
<ellipse cx="284.9" cy="1118.4" rx="11.2" ry="10.7" fill="#5da7b6" stroke="#477f8a" stroke-width="1.2"/>
<ellipse cx="324.95" cy="1119.4" rx="11.2" ry="10.7" fill="#5ca5b6" stroke="#467d8a" stroke-width="1.2"/>
<ellipse cx="333.85" cy="1120.6" rx="11.2" ry="10.7" fill="#5ba3b5" stroke="#457c8a" stroke-width="1.2"/>
<ellipse cx="278.2" cy="1122.05" rx="11.2" ry="10.7" fill="#59a0b5" stroke="#447a8a" stroke-width="1.2"/>
<ellipse cx="327.45" cy="1123.15" rx="11.2" ry="10.7" fill="#589eb5" stroke="#43788a" stroke-width="1.2"/>
<ellipse cx="336.35" cy="1124.35" rx="11.2" ry="10.7" fill="#579cb5" stroke="#42778a" stroke-width="1.2"/>
<ellipse cx="299.1" cy="1125.3" rx="11.2" ry="10.7" fill="#569ab5" stroke="#42758a" stroke-width="1.2"/>
<ellipse cx="312.85" cy="1125.5" rx="11.2" ry="10.7" fill="#569ab5" stroke="#41758a" stroke-width="1.2"/>
<ellipse cx="327.8" cy="1127.5" rx="11.2" ry="10.7" fill="#5496b5" stroke="#40728a" stroke-width="1.2"/>
<ellipse cx="284.7" cy="1129.55" rx="11.2" ry="10.7" fill="#5291b5" stroke="#3f6e8a" stroke-width="1.2"/>
<ellipse cx="293" cy="1131.35" rx="11.2" ry="10.7" fill="#518cb6" stroke="#3d6b8a" stroke-width="1.2"/>
<ellipse cx="306.35" cy="1131.95" rx="11.2" ry="10.7" fill="#508bb6" stroke="#3d698a" stroke-width="1.2"/>
<ellipse cx="315.05" cy="1131.95" rx="11.2" ry="10.7" fill="#508bb6" stroke="#3d698a" stroke-width="1.2"/>
<ellipse cx="298.65" cy="1132.55" rx="11.2" ry="10.7" fill="#5089b6" stroke="#3c688a" stroke-width="1.2"/>
<ellipse cx="321.1" cy="1132.75" rx="11.2" ry="10.7" fill="#4f89b6" stroke="#3c688a" stroke-width="1.2"/>
<ellipse cx="330" cy="1133.95" rx="11.2" ry="10.7" fill="#4f87b6" stroke="#3c668a" stroke-width="1.2"/>
<ellipse cx="286.3" cy="1135" rx="11.2" ry="10.7" fill="#4e85b6" stroke="#3b658a" stroke-width="1.2"/>
<ellipse cx="300.25" cy="1138" rx="11.2" ry="10.7" fill="#4d81b5" stroke="#3a628a" stroke-width="1.2"/>
<ellipse cx="314.6" cy="1139.2" rx="11.2" ry="10.7" fill="#4c7fb5" stroke="#3a6089" stroke-width="1.2"/>
<ellipse cx="430.6" cy="889" rx="11.2" ry="10.7" fill="#c33f21" stroke="#943019" stroke-width="1.2"/>
<ellipse cx="388" cy="889.6" rx="11.2" ry="10.7" fill="#c34021" stroke="#943119" stroke-width="1.2"/>
<ellipse cx="372.5" cy="889.6" rx="11.2" ry="10.7" fill="#c34021" stroke="#943119" stroke-width="1.2"/>
<ellipse cx="413.2" cy="890" rx="11.2" ry="10.7" fill="#c34121" stroke="#943219" stroke-width="1.2"/>
<ellipse cx="386" cy="890" rx="11.2" ry="10.7" fill="#c34121" stroke="#943219" stroke-width="1.2"/>
<ellipse cx="381" cy="890" rx="11.2" ry="10.7" fill="#c34121" stroke="#943219" stroke-width="1.2"/>
<ellipse cx="358.3" cy="890.3" rx="11.2" ry="10.7" fill="#c34221" stroke="#943219" stroke-width="1.2"/>
<ellipse cx="354.3" cy="891.5" rx="11.2" ry="10.7" fill="#c34421" stroke="#943419" stroke-width="1.2"/>
<ellipse cx="368" cy="891.5" rx="11.2" ry="10.7" fill="#c34421" stroke="#943419" stroke-width="1.2"/>
<ellipse cx="414" cy="892" rx="11.2" ry="10.7" fill="#c34521" stroke="#943519" stroke-width="1.2"/>
<ellipse cx="372.9" cy="892.3" rx="11.2" ry="10.7" fill="#c34621" stroke="#943519" stroke-width="1.2"/>
<ellipse cx="388.3" cy="892.3" rx="11.2" ry="10.7" fill="#c34621" stroke="#943519" stroke-width="1.2"/>
<ellipse cx="354" cy="894" rx="11.2" ry="10.7" fill="#c34922" stroke="#95381a" stroke-width="1.2"/>
<ellipse cx="393" cy="897" rx="11.2" ry="10.7" fill="#c44f23" stroke="#953c1a" stroke-width="1.2"/>
<ellipse cx="386.7" cy="898.8" rx="11.2" ry="10.7" fill="#c45323" stroke="#953f1b" stroke-width="1.2"/>
<ellipse cx="362.4" cy="898.8" rx="11.2" ry="10.7" fill="#c45323" stroke="#953f1b" stroke-width="1.2"/>
<ellipse cx="415" cy="900.4" rx="11.2" ry="10.7" fill="#c45624" stroke="#95421b" stroke-width="1.2"/>
<ellipse cx="377" cy="902" rx="11.2" ry="10.7" fill="#c45a24" stroke="#95441b" stroke-width="1.2"/>
<ellipse cx="434.4" cy="902.4" rx="11.2" ry="10.7" fill="#c45a24" stroke="#95451b" stroke-width="1.2"/>
<ellipse cx="399.6" cy="902.8" rx="11.2" ry="10.7" fill="#c45b24" stroke="#95451b" stroke-width="1.2"/>
<ellipse cx="352" cy="902.8" rx="11.2" ry="10.7" fill="#c45b24" stroke="#95451b" stroke-width="1.2"/>
<ellipse cx="406.1" cy="903.6" rx="11.2" ry="10.7" fill="#c45d24" stroke="#95471c" stroke-width="1.2"/>
<ellipse cx="351.5" cy="905" rx="11.2" ry="10.7" fill="#c46025" stroke="#95491c" stroke-width="1.2"/>
<ellipse cx="420" cy="905" rx="11.2" ry="10.7" fill="#c46025" stroke="#95491c" stroke-width="1.2"/>
<ellipse cx="364" cy="907.7" rx="11.2" ry="10.7" fill="#c46626" stroke="#954e1d" stroke-width="1.2"/>
<ellipse cx="399.6" cy="907.7" rx="11.2" ry="10.7" fill="#c46626" stroke="#954e1d" stroke-width="1.2"/>
<ellipse cx="350" cy="911" rx="11.2" ry="10.7" fill="#c46e26" stroke="#95531d" stroke-width="1.2"/>
<ellipse cx="385.9" cy="913.3" rx="11.2" ry="10.7" fill="#c47327" stroke="#95571e" stroke-width="1.2"/>
<ellipse cx="425.1" cy="917" rx="11.2" ry="10.7" fill="#c47b28" stroke="#955e1f" stroke-width="1.2"/>
<ellipse cx="357.5" cy="917.8" rx="11.2" ry="10.7" fill="#c47e29" stroke="#95601f" stroke-width="1.2"/>
<ellipse cx="435.2" cy="919.8" rx="11.2" ry="10.7" fill="#c5842a" stroke="#966420" stroke-width="1.2"/>
<ellipse cx="402.9" cy="919.8" rx="11.2" ry="10.7" fill="#c5842a" stroke="#966420" stroke-width="1.2"/>
<ellipse cx="348" cy="924" rx="11.2" ry="10.7" fill="#c6922d" stroke="#976f22" stroke-width="1.2"/>
<ellipse cx="379.4" cy="924.7" rx="11.2" ry="10.7" fill="#c7942d" stroke="#977023" stroke-width="1.2"/>
<ellipse cx="390.7" cy="926.3" rx="11.2" ry="10.7" fill="#c7992f" stroke="#977423" stroke-width="1.2"/>
<ellipse cx="407.7" cy="927.1" rx="11.2" ry="10.7" fill="#c89c2f" stroke="#987624" stroke-width="1.2"/>
<ellipse cx="368" cy="930.3" rx="11.2" ry="10.7" fill="#c8a331" stroke="#987c25" stroke-width="1.2"/>
<ellipse cx="350.2" cy="932" rx="11.2" ry="10.7" fill="#c9a531" stroke="#987e26" stroke-width="1.2"/>
<ellipse cx="406.6" cy="932.3" rx="11.2" ry="10.7" fill="#c9a631" stroke="#987e26" stroke-width="1.2"/>
<ellipse cx="350" cy="936.3" rx="11.2" ry="10.7" fill="#c9ac33" stroke="#998327" stroke-width="1.2"/>
<ellipse cx="380" cy="940" rx="11.2" ry="10.7" fill="#cab234" stroke="#998728" stroke-width="1.2"/>
<ellipse cx="392.9" cy="940.4" rx="11.2" ry="10.7" fill="#cab235" stroke="#998728" stroke-width="1.2"/>
<ellipse cx="371.8" cy="945.2" rx="11.2" ry="10.7" fill="#caba36" stroke="#9a8d29" stroke-width="1.2"/>
<ellipse cx="354" cy="947.7" rx="11.2" ry="10.7" fill="#cbbd37" stroke="#9a902a" stroke-width="1.2"/>
<ellipse cx="346.4" cy="949.3" rx="11.2" ry="10.7" fill="#cbc038" stroke="#9a922b" stroke-width="1.2"/>
<ellipse cx="409.4" cy="950.5" rx="11.2" ry="10.7" fill="#cac138" stroke="#99922b" stroke-width="1.2"/>
<ellipse cx="360" cy="955" rx="11.2" ry="10.7" fill="#c3c339" stroke="#95942b" stroke-width="1.2"/>
<ellipse cx="401" cy="955.8" rx="11.2" ry="10.7" fill="#c2c439" stroke="#94952b" stroke-width="1.2"/>
<ellipse cx="384.8" cy="959" rx="11.2" ry="10.7" fill="#bec639" stroke="#90962b" stroke-width="1.2"/>
<ellipse cx="346" cy="960" rx="11.2" ry="10.7" fill="#bdc639" stroke="#8f972b" stroke-width="1.2"/>
<ellipse cx="370.2" cy="961.4" rx="11.2" ry="10.7" fill="#bbc739" stroke="#8e972c" stroke-width="1.2"/>
<ellipse cx="349.1" cy="963.9" rx="11.2" ry="10.7" fill="#b7c93a" stroke="#8b992c" stroke-width="1.2"/>
<ellipse cx="364.5" cy="967.1" rx="11.2" ry="10.7" fill="#b3cb3a" stroke="#889a2c" stroke-width="1.2"/>
<ellipse cx="413.1" cy="968.3" rx="11.2" ry="10.7" fill="#b1cb3a" stroke="#879a2c" stroke-width="1.2"/>
<ellipse cx="387.2" cy="968.7" rx="11.2" ry="10.7" fill="#b1cb3a" stroke="#869a2c" stroke-width="1.2"/>
<ellipse cx="345" cy="973.6" rx="11.2" ry="10.7" fill="#abca3a" stroke="#829a2c" stroke-width="1.2"/>
<ellipse cx="355" cy="975" rx="11.2" ry="10.7" fill="#a9ca3a" stroke="#819a2c" stroke-width="1.2"/>
<ellipse cx="379.9" cy="975.2" rx="11.2" ry="10.7" fill="#a9ca3a" stroke="#809a2c" stroke-width="1.2"/>
<ellipse cx="345.9" cy="976" rx="11.2" ry="10.7" fill="#a8ca3a" stroke="#809a2c" stroke-width="1.2"/>
<ellipse cx="363.7" cy="985.7" rx="11.2" ry="10.7" fill="#9cc93a" stroke="#77992c" stroke-width="1.2"/>
<ellipse cx="376.7" cy="989.8" rx="11.2" ry="10.7" fill="#97c93a" stroke="#73992c" stroke-width="1.2"/>
<ellipse cx="362.9" cy="990.7" rx="11.2" ry="10.7" fill="#96c93a" stroke="#72992c" stroke-width="1.2"/>
<ellipse cx="344.3" cy="992.2" rx="11.2" ry="10.7" fill="#94c93a" stroke="#71992c" stroke-width="1.2"/>
<ellipse cx="375.8" cy="993.1" rx="11.2" ry="10.7" fill="#93c93a" stroke="#70982c" stroke-width="1.2"/>
<ellipse cx="345" cy="997.1" rx="11.2" ry="10.7" fill="#8ec83a" stroke="#6c982c" stroke-width="1.2"/>
<ellipse cx="353" cy="1000" rx="11.2" ry="10.7" fill="#8ac83a" stroke="#69982c" stroke-width="1.2"/>
<ellipse cx="362.9" cy="1002.8" rx="11.2" ry="10.7" fill="#86c73a" stroke="#66972c" stroke-width="1.2"/>
<ellipse cx="345" cy="1006.9" rx="11.2" ry="10.7" fill="#81c73a" stroke="#62972c" stroke-width="1.2"/>
<ellipse cx="345" cy="1012.5" rx="11.2" ry="10.7" fill="#7ac63a" stroke="#5d962c" stroke-width="1.2"/>
<ellipse cx="335" cy="1018" rx="11.2" ry="10.7" fill="#77c53b" stroke="#5a962d" stroke-width="1.2"/>
<ellipse cx="342.6" cy="1023.9" rx="11.2" ry="10.7" fill="#73c43c" stroke="#57952d" stroke-width="1.2"/>
<ellipse cx="324.8" cy="1024.7" rx="11.2" ry="10.7" fill="#72c43c" stroke="#57952e" stroke-width="1.2"/>
<ellipse cx="342.6" cy="1030.3" rx="11.2" ry="10.7" fill="#70c340" stroke="#559431" stroke-width="1.2"/>
<ellipse cx="342.4" cy="1031.6" rx="11.2" ry="10.7" fill="#6fc241" stroke="#559431" stroke-width="1.2"/>
<ellipse cx="324" cy="1033.6" rx="11.2" ry="10.7" fill="#6fc243" stroke="#549333" stroke-width="1.2"/>
<ellipse cx="345" cy="1035" rx="11.2" ry="10.7" fill="#6ec144" stroke="#549334" stroke-width="1.2"/>
<ellipse cx="320.5" cy="1036.5" rx="11.2" ry="10.7" fill="#6dc145" stroke="#539335" stroke-width="1.2"/>
<ellipse cx="314.3" cy="1037.6" rx="11.2" ry="10.7" fill="#6dc146" stroke="#539235" stroke-width="1.2"/>
<ellipse cx="309.2" cy="1039.7" rx="11.2" ry="10.7" fill="#6cc048" stroke="#529237" stroke-width="1.2"/>
<ellipse cx="324.6" cy="1040.5" rx="11.2" ry="10.7" fill="#6cc049" stroke="#529237" stroke-width="1.2"/>
<ellipse cx="328.9" cy="1041.7" rx="11.2" ry="10.7" fill="#6cc04a" stroke="#529238" stroke-width="1.2"/>
<ellipse cx="340.2" cy="1046.5" rx="11.2" ry="10.7" fill="#6cbf50" stroke="#52913d" stroke-width="1.2"/>
<ellipse cx="340" cy="1048.6" rx="11.2" ry="10.7" fill="#6cbf53" stroke="#52913f" stroke-width="1.2"/>
<ellipse cx="342.5" cy="1050" rx="11.2" ry="10.7" fill="#6cbf54" stroke="#529140" stroke-width="1.2"/>
<ellipse cx="292.2" cy="1053.5" rx="11.2" ry="10.7" fill="#6cbf59" stroke="#529143" stroke-width="1.2"/>
<ellipse cx="325" cy="1055" rx="11.2" ry="10.7" fill="#6cbe5a" stroke="#529145" stroke-width="1.2"/>
<ellipse cx="313.2" cy="1062.4" rx="11.2" ry="10.7" fill="#6cbe65" stroke="#52904d" stroke-width="1.2"/>
<ellipse cx="341.6" cy="1064" rx="11.2" ry="10.7" fill="#6cbe68" stroke="#52904f" stroke-width="1.2"/>
<ellipse cx="292.2" cy="1064.8" rx="11.2" ry="10.7" fill="#6cbe69" stroke="#529050" stroke-width="1.2"/>
<ellipse cx="302" cy="1070" rx="11.2" ry="10.7" fill="#6bbd73" stroke="#519057" stroke-width="1.2"/>
<ellipse cx="252.1" cy="1073.3" rx="11.2" ry="10.7" fill="#6bbd79" stroke="#51905c" stroke-width="1.2"/>
<ellipse cx="332.7" cy="1074.5" rx="11.2" ry="10.7" fill="#6bbd7b" stroke="#518f5e" stroke-width="1.2"/>
<ellipse cx="341" cy="1078" rx="11.2" ry="10.7" fill="#6abc81" stroke="#518f62" stroke-width="1.2"/>
<ellipse cx="269.9" cy="1078.2" rx="11.2" ry="10.7" fill="#6abc81" stroke="#518f62" stroke-width="1.2"/>
<ellipse cx="310.8" cy="1078.6" rx="11.2" ry="10.7" fill="#6abb82" stroke="#518e63" stroke-width="1.2"/>
<ellipse cx="238.8" cy="1079.8" rx="11.2" ry="10.7" fill="#6abb84" stroke="#508e65" stroke-width="1.2"/>
<ellipse cx="295.4" cy="1082.6" rx="11.2" ry="10.7" fill="#69ba89" stroke="#508e68" stroke-width="1.2"/>
<ellipse cx="256.6" cy="1087.5" rx="11.2" ry="10.7" fill="#69b992" stroke="#4f8d6f" stroke-width="1.2"/>
<ellipse cx="326.2" cy="1088.3" rx="11.2" ry="10.7" fill="#68b993" stroke="#4f8c70" stroke-width="1.2"/>
<ellipse cx="315.7" cy="1088.3" rx="11.2" ry="10.7" fill="#68b993" stroke="#4f8c70" stroke-width="1.2"/>
<ellipse cx="340.5" cy="1090" rx="11.2" ry="10.7" fill="#68b896" stroke="#4f8c72" stroke-width="1.2"/>
<ellipse cx="336.7" cy="1091.5" rx="11.2" ry="10.7" fill="#68b899" stroke="#4f8c74" stroke-width="1.2"/>
<ellipse cx="336.7" cy="1092.7" rx="11.2" ry="10.7" fill="#68b89b" stroke="#4f8c76" stroke-width="1.2"/>
<ellipse cx="280.9" cy="1094.7" rx="11.2" ry="10.7" fill="#67b79e" stroke="#4f8b78" stroke-width="1.2"/>
<ellipse cx="300" cy="1095" rx="11.2" ry="10.7" fill="#67b79f" stroke="#4f8b78" stroke-width="1.2"/>
<ellipse cx="281.7" cy="1095.6" rx="11.2" ry="10.7" fill="#67b7a0" stroke="#4f8b79" stroke-width="1.2"/>
<ellipse cx="249.3" cy="1097.2" rx="11.2" ry="10.7" fill="#67b7a2" stroke="#4e8b7b" stroke-width="1.2"/>
<ellipse cx="261.4" cy="1098.8" rx="11.2" ry="10.7" fill="#67b7a5" stroke="#4e8b7d" stroke-width="1.2"/>
<ellipse cx="250.1" cy="1102.8" rx="11.2" ry="10.7" fill="#66b6ac" stroke="#4e8a82" stroke-width="1.2"/>
<ellipse cx="297.9" cy="1105.2" rx="11.2" ry="10.7" fill="#66b5af" stroke="#4d8a85" stroke-width="1.2"/>
<ellipse cx="168.1" cy="1107" rx="11.2" ry="10.7" fill="#65b4b0" stroke="#4d8986" stroke-width="1.2"/>
<ellipse cx="263.9" cy="1107.7" rx="11.2" ry="10.7" fill="#64b4b1" stroke="#4c8987" stroke-width="1.2"/>
<ellipse cx="340" cy="1108" rx="11.2" ry="10.7" fill="#64b4b1" stroke="#4c8887" stroke-width="1.2"/>
<ellipse cx="312.4" cy="1109.3" rx="11.2" ry="10.7" fill="#64b3b2" stroke="#4c8888" stroke-width="1.2"/>
<ellipse cx="278.4" cy="1110.9" rx="11.2" ry="10.7" fill="#63b2b4" stroke="#4b8789" stroke-width="1.2"/>
<ellipse cx="331" cy="1112.5" rx="11.2" ry="10.7" fill="#62b1b5" stroke="#4b868a" stroke-width="1.2"/>
<ellipse cx="318.1" cy="1119" rx="11.2" ry="10.7" fill="#5ca6b6" stroke="#467e8a" stroke-width="1.2"/>
<ellipse cx="336" cy="1120" rx="11.2" ry="10.7" fill="#5ba4b5" stroke="#467d8a" stroke-width="1.2"/>
<ellipse cx="306.8" cy="1124.7" rx="11.2" ry="10.7" fill="#579bb5" stroke="#42768a" stroke-width="1.2"/>
<ellipse cx="291.4" cy="1125.9" rx="11.2" ry="10.7" fill="#5699b5" stroke="#41748a" stroke-width="1.2"/>
<ellipse cx="318.9" cy="1126.3" rx="11.2" ry="10.7" fill="#5598b5" stroke="#41748a" stroke-width="1.2"/>
<ellipse cx="336.7" cy="1128.7" rx="11.2" ry="10.7" fill="#5393b5" stroke="#3f708a" stroke-width="1.2"/>
<ellipse cx="247.3" cy="1130.7" rx="11.2" ry="10.7" fill="#518eb6" stroke="#3e6c8a" stroke-width="1.2"/>
<ellipse cx="278" cy="1133.2" rx="11.2" ry="10.7" fill="#4f88b6" stroke="#3c678a" stroke-width="1.2"/>
<ellipse cx="294.6" cy="1136.8" rx="11.2" ry="10.7" fill="#4d82b5" stroke="#3b638a" stroke-width="1.2"/>
<ellipse cx="305.9" cy="1139.2" rx="11.2" ry="10.7" fill="#4c7fb5" stroke="#3a6089" stroke-width="1.2"/>
<ellipse cx="323.3" cy="1139.2" rx="11.2" ry="10.7" fill="#4c7fb5" stroke="#3a6089" stroke-width="1.2"/>
</g>
<line x1="140.7" y1="1143.9" x2="140.7" y2="868.2" stroke="#7a7a7a" stroke-width="1.4"/>
<polygon points="136.8,869.2 144.6,869.2 140.7,855.2" fill="#8a8a8a"/>
<line x1="140.7" y1="1143.9" x2="530" y2="1143.9" stroke="#7a7a7a" stroke-width="1.4"/>
<polygon points="530,1140 530,1147.8 545,1143.9" fill="#8a8a8a"/>
<line x1="136.2" y1="881.2" x2="140.7" y2="881.2" stroke="#7a7a7a" stroke-width="1.1"/>
<line x1="136.2" y1="933.68" x2="140.7" y2="933.68" stroke="#7a7a7a" stroke-width="1.1"/>
<line x1="136.2" y1="986.16" x2="140.7" y2="986.16" stroke="#7a7a7a" stroke-width="1.1"/>
<line x1="136.2" y1="1038.64" x2="140.7" y2="1038.64" stroke="#7a7a7a" stroke-width="1.1"/>
<line x1="136.2" y1="1091.12" x2="140.7" y2="1091.12" stroke="#7a7a7a" stroke-width="1.1"/>
<line x1="136.2" y1="1143.6" x2="140.7" y2="1143.6" stroke="#7a7a7a" stroke-width="1.1"/>
<line x1="142.2" y1="1143.9" x2="142.2" y2="1148.4" stroke="#7a7a7a" stroke-width="1.1"/>
<line x1="209.4" y1="1143.9" x2="209.4" y2="1148.4" stroke="#7a7a7a" stroke-width="1.1"/>
<line x1="276.6" y1="1143.9" x2="276.6" y2="1148.4" stroke="#7a7a7a" stroke-width="1.1"/>
<line x1="343.8" y1="1143.9" x2="343.8" y2="1148.4" stroke="#7a7a7a" stroke-width="1.1"/>
<line x1="411" y1="1143.9" x2="411" y2="1148.4" stroke="#7a7a7a" stroke-width="1.1"/>
<line x1="478.2" y1="1143.9" x2="478.2" y2="1148.4" stroke="#7a7a7a" stroke-width="1.1"/>
<line x1="175.8" y1="1143.9" x2="175.8" y2="1146.7" stroke="#7a7a7a" stroke-width="1"/>
<line x1="243" y1="1143.9" x2="243" y2="1146.7" stroke="#7a7a7a" stroke-width="1"/>
<line x1="310.2" y1="1143.9" x2="310.2" y2="1146.7" stroke="#7a7a7a" stroke-width="1"/>
<line x1="377.4" y1="1143.9" x2="377.4" y2="1146.7" stroke="#7a7a7a" stroke-width="1"/>
<line x1="444.6" y1="1143.9" x2="444.6" y2="1146.7" stroke="#7a7a7a" stroke-width="1"/>
<line x1="511.8" y1="1143.9" x2="511.8" y2="1146.7" stroke="#7a7a7a" stroke-width="1"/>
<text x="119.12" y="891.5" font-size="24.6" font-family='"Liberation Sans", Arial, sans-serif' fill="#111" stroke="#111" stroke-width="0.3" textLength="14.23" lengthAdjust="spacingAndGlyphs">1</text>
<text x="97.63" y="943.98" font-size="24.6" font-family='"Liberation Sans", Arial, sans-serif' fill="#111" stroke="#111" stroke-width="0.3" textLength="35.57" lengthAdjust="spacingAndGlyphs">0.6</text>
<text x="97.82" y="996.46" font-size="24.6" font-family='"Liberation Sans", Arial, sans-serif' fill="#111" stroke="#111" stroke-width="0.3" textLength="35.57" lengthAdjust="spacingAndGlyphs">0.2</text>
<text x="87.6" y="1048.94" font-size="24.6" font-family='"Liberation Sans", Arial, sans-serif' fill="#111" stroke="#111" stroke-width="0.3" textLength="45.85" lengthAdjust="spacingAndGlyphs">-0.2</text>
<text x="87.4" y="1101.42" font-size="24.6" font-family='"Liberation Sans", Arial, sans-serif' fill="#111" stroke="#111" stroke-width="0.3" textLength="45.85" lengthAdjust="spacingAndGlyphs">-0.6</text>
<text x="109.75" y="1153.9" font-size="24.6" font-family='"Liberation Sans", Arial, sans-serif' fill="#111" stroke="#111" stroke-width="0.3" textLength="23.66" lengthAdjust="spacingAndGlyphs">-1</text>
<text x="118.75" y="1177.4" font-size="24.6" font-family='"Liberation Sans", Arial, sans-serif' fill="#111" stroke="#111" stroke-width="0.3" textLength="45.85" lengthAdjust="spacingAndGlyphs">-0.3</text>
<text x="186.05" y="1177.4" font-size="24.6" font-family='"Liberation Sans", Arial, sans-serif' fill="#111" stroke="#111" stroke-width="0.3" textLength="45.85" lengthAdjust="spacingAndGlyphs">-0.2</text>
<text x="253.22" y="1177.4" font-size="24.6" font-family='"Liberation Sans", Arial, sans-serif' fill="#111" stroke="#111" stroke-width="0.3" textLength="45.85" lengthAdjust="spacingAndGlyphs">-0.1</text>
<text x="336.97" y="1177.4" font-size="24.6" font-family='"Liberation Sans", Arial, sans-serif' fill="#111" stroke="#111" stroke-width="0.3" textLength="14.23" lengthAdjust="spacingAndGlyphs">0</text>
<text x="393.62" y="1177.4" font-size="24.6" font-family='"Liberation Sans", Arial, sans-serif' fill="#111" stroke="#111" stroke-width="0.3" textLength="35.57" lengthAdjust="spacingAndGlyphs">0.1</text>
<text x="460.85" y="1177.4" font-size="24.6" font-family='"Liberation Sans", Arial, sans-serif' fill="#111" stroke="#111" stroke-width="0.3" textLength="35.57" lengthAdjust="spacingAndGlyphs">0.2</text>
<linearGradient id="gE" x1="0" y1="0" x2="0" y2="1"><stop offset="0.0020" stop-color="#c0302a"/><stop offset="0.0824" stop-color="#bd4a25"/><stop offset="0.1627" stop-color="#bd7428"/><stop offset="0.2180" stop-color="#c39d2e"/><stop offset="0.2582" stop-color="#cbb935"/><stop offset="0.3235" stop-color="#b5bf36"/><stop offset="0.4038" stop-color="#97c036"/><stop offset="0.4842" stop-color="#7ac13a"/><stop offset="0.5645" stop-color="#72bd4f"/><stop offset="0.6449" stop-color="#6cb86c"/><stop offset="0.7102" stop-color="#6bb884"/><stop offset="0.7654" stop-color="#68b08a"/><stop offset="0.8458" stop-color="#5a978e"/><stop offset="0.9262" stop-color="#4f8598"/><stop offset="1.0000" stop-color="#4873ae"/></linearGradient>
<rect x="557.2" y="880" width="30.2" height="320.5" fill="url(#gE)"/>
<text x="554.38" y="873.6" font-size="24.7" font-family='"Liberation Sans", Arial, sans-serif' fill="#111" stroke="#111" stroke-width="0.3" textLength="153.82" lengthAdjust="spacingAndGlyphs">M2.p(corr)[1]</text>
<text x="589.8" y="970.3" font-size="24" font-family='"Liberation Sans", Arial, sans-serif' fill="#111" stroke="#111" stroke-width="0.3" textLength="34.7" lengthAdjust="spacingAndGlyphs">0.5</text>
<text x="589.8" y="1051.2" font-size="24" font-family='"Liberation Sans", Arial, sans-serif' fill="#111" stroke="#111" stroke-width="0.3" textLength="13.88" lengthAdjust="spacingAndGlyphs">0</text>
<text x="590.48" y="1131.2" font-size="24" font-family='"Liberation Sans", Arial, sans-serif' fill="#111" stroke="#111" stroke-width="0.3" textLength="43.01" lengthAdjust="spacingAndGlyphs">-0.5</text>
<text x="590.48" y="1211.5" font-size="24" font-family='"Liberation Sans", Arial, sans-serif' fill="#111" stroke="#111" stroke-width="0.3" textLength="22.19" lengthAdjust="spacingAndGlyphs">-1</text>
<text x="321.04" y="1211.2" font-size="24.5" font-family='"Liberation Sans", Arial, sans-serif' fill="#111" stroke="#111" stroke-width="0.3" textLength="45.28" lengthAdjust="spacingAndGlyphs">p[1]</text>
<text transform="translate(81.5,1049.71) rotate(-90)" x="0" y="0" font-size="24.5" font-family='"Liberation Sans", Arial, sans-serif' fill="#111" stroke="#111" stroke-width="0.3" textLength="100.37" lengthAdjust="spacingAndGlyphs">p(corr)[1]</text>
<line x1="1059.85" y1="856.2" x2="1059.85" y2="1158.1" stroke="#e2e2e2" stroke-width="1.3"/>
<line x1="1144.15" y1="856.2" x2="1144.15" y2="1158.1" stroke="#e2e2e2" stroke-width="1.3"/>
<line x1="1228.45" y1="856.2" x2="1228.45" y2="1158.1" stroke="#e2e2e2" stroke-width="1.3"/>
<line x1="1312.75" y1="856.2" x2="1312.75" y2="1158.1" stroke="#e2e2e2" stroke-width="1.3"/>
<line x1="974.5" y1="882.8" x2="1397.3" y2="882.8" stroke="#e2e2e2" stroke-width="1.3"/>
<line x1="974.5" y1="937.8" x2="1397.3" y2="937.8" stroke="#e2e2e2" stroke-width="1.3"/>
<line x1="974.5" y1="992.8" x2="1397.3" y2="992.8" stroke="#e2e2e2" stroke-width="1.3"/>
<line x1="974.5" y1="1047.8" x2="1397.3" y2="1047.8" stroke="#e2e2e2" stroke-width="1.3"/>
<line x1="974.5" y1="1102.8" x2="1397.3" y2="1102.8" stroke="#e2e2e2" stroke-width="1.3"/>
<line x1="1186.3" y1="856.2" x2="1186.3" y2="1158.1" stroke="#9c9c9c" stroke-width="1.4"/>
<line x1="974.5" y1="1020.3" x2="1397.3" y2="1020.3" stroke="#9c9c9c" stroke-width="1.4"/>
<clipPath id="clipF"><rect x="974.5" y="836.2" width="422.8" height="321.9"/></clipPath>
<g clip-path="url(#clipF)">
<ellipse cx="1202.4" cy="893.4" rx="11.5" ry="10.7" fill="#c34421" stroke="#943419" stroke-width="1.2"/>
<ellipse cx="1230.55" cy="894.9" rx="11.5" ry="10.7" fill="#c34722" stroke="#95361a" stroke-width="1.2"/>
<ellipse cx="1214.1" cy="895.65" rx="11.5" ry="10.7" fill="#c34822" stroke="#95371a" stroke-width="1.2"/>
<ellipse cx="1240.05" cy="895.9" rx="11.5" ry="10.7" fill="#c34922" stroke="#95371a" stroke-width="1.2"/>
<ellipse cx="1209.1" cy="897.65" rx="11.5" ry="10.7" fill="#c44c22" stroke="#953a1a" stroke-width="1.2"/>
<ellipse cx="1200.2" cy="898.2" rx="11.5" ry="10.7" fill="#c44d22" stroke="#953b1a" stroke-width="1.2"/>
<ellipse cx="1195.2" cy="900.2" rx="11.5" ry="10.7" fill="#c45123" stroke="#953e1b" stroke-width="1.2"/>
<ellipse cx="1230.3" cy="900.9" rx="11.5" ry="10.7" fill="#c45223" stroke="#953f1b" stroke-width="1.2"/>
<ellipse cx="1223.2" cy="901.3" rx="11.5" ry="10.7" fill="#c45323" stroke="#953f1b" stroke-width="1.2"/>
<ellipse cx="1206.2" cy="902.7" rx="11.5" ry="10.7" fill="#c45623" stroke="#95411b" stroke-width="1.2"/>
<ellipse cx="1198.65" cy="903.1" rx="11.5" ry="10.7" fill="#c45724" stroke="#95421b" stroke-width="1.2"/>
<ellipse cx="1217.9" cy="904.95" rx="11.5" ry="10.7" fill="#c45a24" stroke="#95451b" stroke-width="1.2"/>
<ellipse cx="1210.35" cy="905.35" rx="11.5" ry="10.7" fill="#c45b24" stroke="#95451b" stroke-width="1.2"/>
<ellipse cx="1272.15" cy="906.35" rx="11.5" ry="10.7" fill="#c45d24" stroke="#95471c" stroke-width="1.2"/>
<ellipse cx="1194.95" cy="906.7" rx="11.5" ry="10.7" fill="#c45e25" stroke="#95471c" stroke-width="1.2"/>
<ellipse cx="1204" cy="907.5" rx="11.5" ry="10.7" fill="#c46025" stroke="#95491c" stroke-width="1.2"/>
<ellipse cx="1249.25" cy="907.85" rx="11.5" ry="10.7" fill="#c46025" stroke="#95491c" stroke-width="1.2"/>
<ellipse cx="1242.4" cy="908.45" rx="11.5" ry="10.7" fill="#c46225" stroke="#954a1c" stroke-width="1.2"/>
<ellipse cx="1235" cy="910" rx="11.5" ry="10.7" fill="#c46525" stroke="#954d1c" stroke-width="1.2"/>
<ellipse cx="1207.45" cy="910.4" rx="11.5" ry="10.7" fill="#c46625" stroke="#954d1c" stroke-width="1.2"/>
<ellipse cx="1192.75" cy="911.5" rx="11.5" ry="10.7" fill="#c46826" stroke="#954f1d" stroke-width="1.2"/>
<ellipse cx="1196.2" cy="914.4" rx="11.5" ry="10.7" fill="#c46e27" stroke="#95541d" stroke-width="1.2"/>
<ellipse cx="1251.85" cy="914.4" rx="11.5" ry="10.7" fill="#c46e27" stroke="#95541d" stroke-width="1.2"/>
<ellipse cx="1258.35" cy="914.9" rx="11.5" ry="10.7" fill="#c46f27" stroke="#95551d" stroke-width="1.2"/>
<ellipse cx="1227.9" cy="914.9" rx="11.5" ry="10.7" fill="#c46f27" stroke="#95551d" stroke-width="1.2"/>
<ellipse cx="1266.35" cy="916.9" rx="11.5" ry="10.7" fill="#c47427" stroke="#95581e" stroke-width="1.2"/>
<ellipse cx="1210.45" cy="916.9" rx="11.5" ry="10.7" fill="#c47427" stroke="#95581e" stroke-width="1.2"/>
<ellipse cx="1202.9" cy="917.3" rx="11.5" ry="10.7" fill="#c47427" stroke="#95581e" stroke-width="1.2"/>
<ellipse cx="1222.9" cy="917.4" rx="11.5" ry="10.7" fill="#c47527" stroke="#95591e" stroke-width="1.2"/>
<ellipse cx="1260.7" cy="919.8" rx="11.5" ry="10.7" fill="#c47a28" stroke="#955d1e" stroke-width="1.2"/>
<ellipse cx="1237.9" cy="919.9" rx="11.5" ry="10.7" fill="#c47a28" stroke="#955d1e" stroke-width="1.2"/>
<ellipse cx="1272.65" cy="920.3" rx="11.5" ry="10.7" fill="#c47b28" stroke="#955e1f" stroke-width="1.2"/>
<ellipse cx="1253.85" cy="920.4" rx="11.5" ry="10.7" fill="#c47b28" stroke="#955e1f" stroke-width="1.2"/>
<ellipse cx="1249.85" cy="920.9" rx="11.5" ry="10.7" fill="#c47d29" stroke="#955f1f" stroke-width="1.2"/>
<ellipse cx="1195.7" cy="921.3" rx="11.5" ry="10.7" fill="#c47e29" stroke="#95601f" stroke-width="1.2"/>
<ellipse cx="1265.15" cy="921.9" rx="11.5" ry="10.7" fill="#c58029" stroke="#95611f" stroke-width="1.2"/>
<ellipse cx="1192" cy="924.9" rx="11.5" ry="10.7" fill="#c6892b" stroke="#966821" stroke-width="1.2"/>
<ellipse cx="1241.5" cy="925" rx="11.5" ry="10.7" fill="#c68a2b" stroke="#966921" stroke-width="1.2"/>
<ellipse cx="1258.8" cy="925" rx="11.5" ry="10.7" fill="#c68a2b" stroke="#966921" stroke-width="1.2"/>
<ellipse cx="1251.85" cy="926.9" rx="11.5" ry="10.7" fill="#c68f2d" stroke="#976d22" stroke-width="1.2"/>
<ellipse cx="1266.8" cy="927" rx="11.5" ry="10.7" fill="#c6902d" stroke="#976d22" stroke-width="1.2"/>
<ellipse cx="1271.65" cy="927.3" rx="11.5" ry="10.7" fill="#c6912d" stroke="#976e22" stroke-width="1.2"/>
<ellipse cx="1198.7" cy="927.8" rx="11.5" ry="10.7" fill="#c7922d" stroke="#976f22" stroke-width="1.2"/>
<ellipse cx="1234.4" cy="929.9" rx="11.5" ry="10.7" fill="#c7992e" stroke="#977423" stroke-width="1.2"/>
<ellipse cx="1259.85" cy="930.35" rx="11.5" ry="10.7" fill="#c79a2f" stroke="#987524" stroke-width="1.2"/>
<ellipse cx="1317.75" cy="931.25" rx="11.5" ry="10.7" fill="#c89d2f" stroke="#987724" stroke-width="1.2"/>
<ellipse cx="1229.4" cy="931.4" rx="11.5" ry="10.7" fill="#c89d2f" stroke="#987724" stroke-width="1.2"/>
<ellipse cx="1209.4" cy="931.75" rx="11.5" ry="10.7" fill="#c89e30" stroke="#987824" stroke-width="1.2"/>
<ellipse cx="1286.1" cy="931.8" rx="11.5" ry="10.7" fill="#c89e30" stroke="#987824" stroke-width="1.2"/>
<ellipse cx="1221.85" cy="932.25" rx="11.5" ry="10.7" fill="#c8a030" stroke="#987924" stroke-width="1.2"/>
<ellipse cx="1271.15" cy="932.75" rx="11.5" ry="10.7" fill="#c8a130" stroke="#987a25" stroke-width="1.2"/>
<ellipse cx="1246.35" cy="933.35" rx="11.5" ry="10.7" fill="#c8a230" stroke="#987b25" stroke-width="1.2"/>
<ellipse cx="1257.7" cy="933.9" rx="11.5" ry="10.7" fill="#c8a231" stroke="#987b25" stroke-width="1.2"/>
<ellipse cx="1262.35" cy="933.9" rx="11.5" ry="10.7" fill="#c8a231" stroke="#987b25" stroke-width="1.2"/>
<ellipse cx="1280.1" cy="934.25" rx="11.5" ry="10.7" fill="#c8a331" stroke="#987c25" stroke-width="1.2"/>
<ellipse cx="1202.2" cy="935.75" rx="11.5" ry="10.7" fill="#c8a531" stroke="#987d25" stroke-width="1.2"/>
<ellipse cx="1266.15" cy="936.35" rx="11.5" ry="10.7" fill="#c9a631" stroke="#987e26" stroke-width="1.2"/>
<ellipse cx="1233" cy="936.5" rx="11.5" ry="10.7" fill="#c9a632" stroke="#987e26" stroke-width="1.2"/>
<ellipse cx="1285.6" cy="937.25" rx="11.5" ry="10.7" fill="#c9a732" stroke="#997f26" stroke-width="1.2"/>
<ellipse cx="1275.1" cy="937.85" rx="11.5" ry="10.7" fill="#c9a832" stroke="#998026" stroke-width="1.2"/>
<ellipse cx="1251.5" cy="938" rx="11.5" ry="10.7" fill="#c9a832" stroke="#998026" stroke-width="1.2"/>
<ellipse cx="1239.85" cy="938.35" rx="11.5" ry="10.7" fill="#c9a932" stroke="#998026" stroke-width="1.2"/>
<ellipse cx="1245.35" cy="938.5" rx="11.5" ry="10.7" fill="#c9a932" stroke="#998026" stroke-width="1.2"/>
<ellipse cx="1220.45" cy="938.85" rx="11.5" ry="10.7" fill="#c9aa32" stroke="#998126" stroke-width="1.2"/>
<ellipse cx="1281.55" cy="939.1" rx="11.5" ry="10.7" fill="#c9aa32" stroke="#998126" stroke-width="1.2"/>
<ellipse cx="1193.7" cy="940.6" rx="11.5" ry="10.7" fill="#c9ac33" stroke="#998327" stroke-width="1.2"/>
<ellipse cx="1270.8" cy="940.85" rx="11.5" ry="10.7" fill="#c9ac33" stroke="#998327" stroke-width="1.2"/>
<ellipse cx="1257.35" cy="942" rx="11.5" ry="10.7" fill="#c9ae34" stroke="#998427" stroke-width="1.2"/>
<ellipse cx="1287.05" cy="942.1" rx="11.5" ry="10.7" fill="#c9ae34" stroke="#998427" stroke-width="1.2"/>
<ellipse cx="1234.85" cy="942.45" rx="11.5" ry="10.7" fill="#c9af34" stroke="#998527" stroke-width="1.2"/>
<ellipse cx="1274.6" cy="943.3" rx="11.5" ry="10.7" fill="#cab034" stroke="#998628" stroke-width="1.2"/>
<ellipse cx="1248.85" cy="943.5" rx="11.5" ry="10.7" fill="#cab034" stroke="#998628" stroke-width="1.2"/>
<ellipse cx="1253.5" cy="943.5" rx="11.5" ry="10.7" fill="#cab034" stroke="#998628" stroke-width="1.2"/>
<ellipse cx="1229.85" cy="943.95" rx="11.5" ry="10.7" fill="#cab134" stroke="#998628" stroke-width="1.2"/>
<ellipse cx="1261.15" cy="944.45" rx="11.5" ry="10.7" fill="#cab234" stroke="#998728" stroke-width="1.2"/>
<ellipse cx="1265.8" cy="944.45" rx="11.5" ry="10.7" fill="#cab234" stroke="#998728" stroke-width="1.2"/>
<ellipse cx="1204.4" cy="944.55" rx="11.5" ry="10.7" fill="#cab234" stroke="#998728" stroke-width="1.2"/>
<ellipse cx="1215.35" cy="944.55" rx="11.5" ry="10.7" fill="#cab234" stroke="#998728" stroke-width="1.2"/>
<ellipse cx="1281.05" cy="944.55" rx="11.5" ry="10.7" fill="#cab234" stroke="#998728" stroke-width="1.2"/>
<ellipse cx="1222.3" cy="944.8" rx="11.5" ry="10.7" fill="#cab235" stroke="#998728" stroke-width="1.2"/>
<ellipse cx="1242.2" cy="945.95" rx="11.5" ry="10.7" fill="#cab435" stroke="#998928" stroke-width="1.2"/>
<ellipse cx="1236.85" cy="946" rx="11.5" ry="10.7" fill="#cab435" stroke="#998928" stroke-width="1.2"/>
<ellipse cx="1249.2" cy="948" rx="11.5" ry="10.7" fill="#cab736" stroke="#9a8b29" stroke-width="1.2"/>
<ellipse cx="1253.85" cy="948" rx="11.5" ry="10.7" fill="#cab736" stroke="#9a8b29" stroke-width="1.2"/>
<ellipse cx="1276.05" cy="948.15" rx="11.5" ry="10.7" fill="#cab736" stroke="#9a8b29" stroke-width="1.2"/>
<ellipse cx="1206.85" cy="949.4" rx="11.5" ry="10.7" fill="#cab936" stroke="#9a8d29" stroke-width="1.2"/>
<ellipse cx="1245.35" cy="949.5" rx="11.5" ry="10.7" fill="#cab936" stroke="#9a8d29" stroke-width="1.2"/>
<ellipse cx="1224.75" cy="949.65" rx="11.5" ry="10.7" fill="#cab936" stroke="#9a8d29" stroke-width="1.2"/>
<ellipse cx="1214.35" cy="950.8" rx="11.5" ry="10.7" fill="#cbbb37" stroke="#9a8e2a" stroke-width="1.2"/>
<ellipse cx="1238.7" cy="951.95" rx="11.5" ry="10.7" fill="#cbbd37" stroke="#9a8f2a" stroke-width="1.2"/>
<ellipse cx="1193.4" cy="954.65" rx="11.5" ry="10.7" fill="#cbc038" stroke="#9a922b" stroke-width="1.2"/>
<ellipse cx="1222.9" cy="954.7" rx="11.5" ry="10.7" fill="#cac038" stroke="#9a922b" stroke-width="1.2"/>
<ellipse cx="1229.85" cy="954.95" rx="11.5" ry="10.7" fill="#cac038" stroke="#9a922b" stroke-width="1.2"/>
<ellipse cx="1205.85" cy="955.65" rx="11.5" ry="10.7" fill="#c9c138" stroke="#99932b" stroke-width="1.2"/>
<ellipse cx="1216.8" cy="955.65" rx="11.5" ry="10.7" fill="#c9c138" stroke="#99932b" stroke-width="1.2"/>
<ellipse cx="1236.85" cy="957" rx="11.5" ry="10.7" fill="#c7c238" stroke="#98932b" stroke-width="1.2"/>
<ellipse cx="1197.95" cy="958.7" rx="11.5" ry="10.7" fill="#c5c338" stroke="#96942b" stroke-width="1.2"/>
<ellipse cx="1232.7" cy="960.35" rx="11.5" ry="10.7" fill="#c3c339" stroke="#94952b" stroke-width="1.2"/>
<ellipse cx="1221.9" cy="960.95" rx="11.5" ry="10.7" fill="#c2c439" stroke="#94952b" stroke-width="1.2"/>
<ellipse cx="1239.7" cy="962.4" rx="11.5" ry="10.7" fill="#c0c539" stroke="#92952b" stroke-width="1.2"/>
<ellipse cx="1195.45" cy="963.95" rx="11.5" ry="10.7" fill="#bec639" stroke="#91962b" stroke-width="1.2"/>
<ellipse cx="1207.9" cy="964.95" rx="11.5" ry="10.7" fill="#bdc639" stroke="#90972b" stroke-width="1.2"/>
<ellipse cx="1230.85" cy="965.4" rx="11.5" ry="10.7" fill="#bdc639" stroke="#8f972b" stroke-width="1.2"/>
<ellipse cx="1224.75" cy="966.35" rx="11.5" ry="10.7" fill="#bbc739" stroke="#8e972c" stroke-width="1.2"/>
<ellipse cx="1220.1" cy="968.75" rx="11.5" ry="10.7" fill="#b8c83a" stroke="#8c982c" stroke-width="1.2"/>
<ellipse cx="1189.7" cy="969.35" rx="11.5" ry="10.7" fill="#b7c93a" stroke="#8b982c" stroke-width="1.2"/>
<ellipse cx="1213.8" cy="969.85" rx="11.5" ry="10.7" fill="#b7c93a" stroke="#8b992c" stroke-width="1.2"/>
<ellipse cx="1219.8" cy="972.85" rx="11.5" ry="10.7" fill="#b3cb3a" stroke="#889a2c" stroke-width="1.2"/>
<ellipse cx="1205.9" cy="972.9" rx="11.5" ry="10.7" fill="#b3cb3a" stroke="#889a2c" stroke-width="1.2"/>
<ellipse cx="1194.25" cy="973.4" rx="11.5" ry="10.7" fill="#b2cb3a" stroke="#879a2c" stroke-width="1.2"/>
<ellipse cx="1228.75" cy="977.3" rx="11.5" ry="10.7" fill="#aecb3a" stroke="#849a2c" stroke-width="1.2"/>
<ellipse cx="1235.7" cy="978.3" rx="11.5" ry="10.7" fill="#adcb3a" stroke="#839a2c" stroke-width="1.2"/>
<ellipse cx="1200.15" cy="978.3" rx="11.5" ry="10.7" fill="#adcb3a" stroke="#839a2c" stroke-width="1.2"/>
<ellipse cx="1217.8" cy="980.8" rx="11.5" ry="10.7" fill="#aaca3a" stroke="#819a2c" stroke-width="1.2"/>
<ellipse cx="1188.25" cy="984.4" rx="11.5" ry="10.7" fill="#a5ca3a" stroke="#7e9a2c" stroke-width="1.2"/>
<ellipse cx="1210.8" cy="984.8" rx="11.5" ry="10.7" fill="#a5ca3a" stroke="#7d9a2c" stroke-width="1.2"/>
<ellipse cx="1230.75" cy="984.8" rx="11.5" ry="10.7" fill="#a5ca3a" stroke="#7d9a2c" stroke-width="1.2"/>
<ellipse cx="1199.9" cy="985.4" rx="11.5" ry="10.7" fill="#a4ca3a" stroke="#7d9a2c" stroke-width="1.2"/>
<ellipse cx="1213.8" cy="988.75" rx="11.5" ry="10.7" fill="#a0ca3a" stroke="#7a992c" stroke-width="1.2"/>
<ellipse cx="1188.7" cy="990.25" rx="11.5" ry="10.7" fill="#9fca3a" stroke="#79992c" stroke-width="1.2"/>
<ellipse cx="1198.9" cy="990.9" rx="11.5" ry="10.7" fill="#9eca3a" stroke="#78992c" stroke-width="1.2"/>
<ellipse cx="1219.8" cy="991.75" rx="11.5" ry="10.7" fill="#9dc93a" stroke="#77992c" stroke-width="1.2"/>
<ellipse cx="1212.8" cy="995.75" rx="11.5" ry="10.7" fill="#98c93a" stroke="#74992c" stroke-width="1.2"/>
<ellipse cx="1188.45" cy="995.85" rx="11.5" ry="10.7" fill="#98c93a" stroke="#74992c" stroke-width="1.2"/>
<ellipse cx="1199.35" cy="996.75" rx="11.5" ry="10.7" fill="#97c93a" stroke="#73992c" stroke-width="1.2"/>
<ellipse cx="1207.8" cy="998.75" rx="11.5" ry="10.7" fill="#95c93a" stroke="#71992c" stroke-width="1.2"/>
<ellipse cx="1193.8" cy="1000" rx="11.5" ry="10.7" fill="#93c93a" stroke="#70982c" stroke-width="1.2"/>
<ellipse cx="1210.8" cy="1002.7" rx="11.5" ry="10.7" fill="#90c83a" stroke="#6d982c" stroke-width="1.2"/>
<ellipse cx="1197.35" cy="1003.7" rx="11.5" ry="10.7" fill="#8fc83a" stroke="#6c982c" stroke-width="1.2"/>
<ellipse cx="1194.15" cy="1006.5" rx="11.5" ry="10.7" fill="#8bc83a" stroke="#6a982c" stroke-width="1.2"/>
<ellipse cx="1203.6" cy="1008" rx="11.5" ry="10.7" fill="#89c83a" stroke="#68982c" stroke-width="1.2"/>
<ellipse cx="1187.8" cy="1009.8" rx="11.5" ry="10.7" fill="#87c73a" stroke="#67982c" stroke-width="1.2"/>
<ellipse cx="1196.25" cy="1011.8" rx="11.5" ry="10.7" fill="#85c73a" stroke="#65972c" stroke-width="1.2"/>
<ellipse cx="1193.15" cy="1016.95" rx="11.5" ry="10.7" fill="#7ec63a" stroke="#60972c" stroke-width="1.2"/>
<ellipse cx="1197.1" cy="1019.45" rx="11.5" ry="10.7" fill="#7bc63a" stroke="#5e972c" stroke-width="1.2"/>
<ellipse cx="1190.65" cy="1023.4" rx="11.5" ry="10.7" fill="#78c63a" stroke="#5b962c" stroke-width="1.2"/>
<ellipse cx="1180.85" cy="1031.95" rx="11.5" ry="10.7" fill="#73c43c" stroke="#58952d" stroke-width="1.2"/>
<ellipse cx="1185.7" cy="1034.35" rx="11.5" ry="10.7" fill="#72c43c" stroke="#57952e" stroke-width="1.2"/>
<ellipse cx="1189.65" cy="1036.85" rx="11.5" ry="10.7" fill="#71c33e" stroke="#56942f" stroke-width="1.2"/>
<ellipse cx="1169.9" cy="1037.9" rx="11.5" ry="10.7" fill="#70c33f" stroke="#559430" stroke-width="1.2"/>
<ellipse cx="1174.75" cy="1040.3" rx="11.5" ry="10.7" fill="#70c241" stroke="#559431" stroke-width="1.2"/>
<ellipse cx="1179.85" cy="1042.4" rx="11.5" ry="10.7" fill="#6fc243" stroke="#549333" stroke-width="1.2"/>
<ellipse cx="1167.4" cy="1042.9" rx="11.5" ry="10.7" fill="#6ec243" stroke="#549333" stroke-width="1.2"/>
<ellipse cx="1157.3" cy="1043.3" rx="11.5" ry="10.7" fill="#6ec243" stroke="#549333" stroke-width="1.2"/>
<ellipse cx="1172.5" cy="1045" rx="11.5" ry="10.7" fill="#6ec145" stroke="#539334" stroke-width="1.2"/>
<ellipse cx="1177.35" cy="1047.4" rx="11.5" ry="10.7" fill="#6dc047" stroke="#539236" stroke-width="1.2"/>
<ellipse cx="1183.2" cy="1049.8" rx="11.5" ry="10.7" fill="#6cc049" stroke="#529237" stroke-width="1.2"/>
<ellipse cx="1159.9" cy="1050.4" rx="11.5" ry="10.7" fill="#6cc049" stroke="#529238" stroke-width="1.2"/>
<ellipse cx="1175.85" cy="1052.4" rx="11.5" ry="10.7" fill="#6cc04c" stroke="#52923a" stroke-width="1.2"/>
<ellipse cx="1181.2" cy="1054.75" rx="11.5" ry="10.7" fill="#6cbf4e" stroke="#52923c" stroke-width="1.2"/>
<ellipse cx="1162.9" cy="1054.9" rx="11.5" ry="10.7" fill="#6cbf4f" stroke="#52913c" stroke-width="1.2"/>
<ellipse cx="1146.8" cy="1055.3" rx="11.5" ry="10.7" fill="#6cbf4f" stroke="#52913c" stroke-width="1.2"/>
<ellipse cx="1152.8" cy="1055.3" rx="11.5" ry="10.7" fill="#6cbf4f" stroke="#52913c" stroke-width="1.2"/>
<ellipse cx="1173.85" cy="1057.35" rx="11.5" ry="10.7" fill="#6cbf52" stroke="#52913e" stroke-width="1.2"/>
<ellipse cx="1179.7" cy="1059.75" rx="11.5" ry="10.7" fill="#6cbf54" stroke="#529140" stroke-width="1.2"/>
<ellipse cx="1149.8" cy="1059.8" rx="11.5" ry="10.7" fill="#6cbf54" stroke="#529140" stroke-width="1.2"/>
<ellipse cx="1166.75" cy="1062.25" rx="11.5" ry="10.7" fill="#6cbf57" stroke="#529142" stroke-width="1.2"/>
<ellipse cx="1178.9" cy="1065.35" rx="11.5" ry="10.7" fill="#6cbe5b" stroke="#529145" stroke-width="1.2"/>
<ellipse cx="1141.85" cy="1066.25" rx="11.5" ry="10.7" fill="#6cbe5c" stroke="#529146" stroke-width="1.2"/>
<ellipse cx="1147.85" cy="1066.25" rx="11.5" ry="10.7" fill="#6cbe5c" stroke="#529146" stroke-width="1.2"/>
<ellipse cx="1137.75" cy="1068.25" rx="11.5" ry="10.7" fill="#6cbe5e" stroke="#529148" stroke-width="1.2"/>
<ellipse cx="1143.4" cy="1070.3" rx="11.5" ry="10.7" fill="#6cbe61" stroke="#52904a" stroke-width="1.2"/>
<ellipse cx="1149.05" cy="1070.3" rx="11.5" ry="10.7" fill="#6cbe61" stroke="#52904a" stroke-width="1.2"/>
<ellipse cx="1155.05" cy="1070.3" rx="11.5" ry="10.7" fill="#6cbe61" stroke="#52904a" stroke-width="1.2"/>
<ellipse cx="1176.9" cy="1070.3" rx="11.5" ry="10.7" fill="#6cbe61" stroke="#52904a" stroke-width="1.2"/>
<ellipse cx="1128.4" cy="1073.2" rx="11.5" ry="10.7" fill="#6cbe66" stroke="#52904d" stroke-width="1.2"/>
<ellipse cx="1135.8" cy="1074.7" rx="11.5" ry="10.7" fill="#6cbe69" stroke="#52904f" stroke-width="1.2"/>
<ellipse cx="1124.3" cy="1075.2" rx="11.5" ry="10.7" fill="#6cbe69" stroke="#529050" stroke-width="1.2"/>
<ellipse cx="1141.45" cy="1076.75" rx="11.5" ry="10.7" fill="#6bbd6c" stroke="#529052" stroke-width="1.2"/>
<ellipse cx="1147.1" cy="1076.75" rx="11.5" ry="10.7" fill="#6bbd6c" stroke="#529052" stroke-width="1.2"/>
<ellipse cx="1174.45" cy="1077.1" rx="11.5" ry="10.7" fill="#6bbd6d" stroke="#529053" stroke-width="1.2"/>
<ellipse cx="1165.2" cy="1078.35" rx="11.5" ry="10.7" fill="#6bbd6f" stroke="#529054" stroke-width="1.2"/>
<ellipse cx="1137.35" cy="1078.75" rx="11.5" ry="10.7" fill="#6bbd70" stroke="#529055" stroke-width="1.2"/>
<ellipse cx="1117.45" cy="1079.65" rx="11.5" ry="10.7" fill="#6bbd71" stroke="#529056" stroke-width="1.2"/>
<ellipse cx="1148.65" cy="1080.8" rx="11.5" ry="10.7" fill="#6bbd73" stroke="#519058" stroke-width="1.2"/>
<ellipse cx="1124.85" cy="1081.15" rx="11.5" ry="10.7" fill="#6bbd74" stroke="#519058" stroke-width="1.2"/>
<ellipse cx="1173.25" cy="1081.95" rx="11.5" ry="10.7" fill="#6bbd75" stroke="#519059" stroke-width="1.2"/>
<ellipse cx="1162.35" cy="1084.4" rx="11.5" ry="10.7" fill="#6bbd79" stroke="#518f5c" stroke-width="1.2"/>
<ellipse cx="1176.5" cy="1086" rx="11.5" ry="10.7" fill="#6bbc7c" stroke="#518f5e" stroke-width="1.2"/>
<ellipse cx="1120.75" cy="1086.4" rx="11.5" ry="10.7" fill="#6bbc7d" stroke="#518f5f" stroke-width="1.2"/>
<ellipse cx="1128.85" cy="1086.4" rx="11.5" ry="10.7" fill="#6bbc7d" stroke="#518f5f" stroke-width="1.2"/>
<ellipse cx="1134.5" cy="1088.45" rx="11.5" ry="10.7" fill="#6abc80" stroke="#518f61" stroke-width="1.2"/>
<ellipse cx="1145.8" cy="1088.45" rx="11.5" ry="10.7" fill="#6abc80" stroke="#518f61" stroke-width="1.2"/>
<ellipse cx="1151.45" cy="1088.45" rx="11.5" ry="10.7" fill="#6abc80" stroke="#518f61" stroke-width="1.2"/>
<ellipse cx="1081.85" cy="1090.65" rx="11.5" ry="10.7" fill="#6abb84" stroke="#508e64" stroke-width="1.2"/>
<ellipse cx="1122" cy="1090.85" rx="11.5" ry="10.7" fill="#6abb84" stroke="#508e64" stroke-width="1.2"/>
<ellipse cx="1173.65" cy="1092.05" rx="11.5" ry="10.7" fill="#6abb86" stroke="#508e66" stroke-width="1.2"/>
<ellipse cx="1159.5" cy="1092.05" rx="11.5" ry="10.7" fill="#6abb86" stroke="#508e66" stroke-width="1.2"/>
<ellipse cx="1145.1" cy="1092.65" rx="11.5" ry="10.7" fill="#6abb87" stroke="#508e67" stroke-width="1.2"/>
<ellipse cx="1122.85" cy="1094.85" rx="11.5" ry="10.7" fill="#69ba8b" stroke="#508d69" stroke-width="1.2"/>
<ellipse cx="1137.3" cy="1096.1" rx="11.5" ry="10.7" fill="#69ba8d" stroke="#508d6b" stroke-width="1.2"/>
<ellipse cx="1115.1" cy="1097.1" rx="11.5" ry="10.7" fill="#69b98f" stroke="#508d6c" stroke-width="1.2"/>
<ellipse cx="1138" cy="1101.95" rx="11.5" ry="10.7" fill="#68b897" stroke="#4f8c72" stroke-width="1.2"/>
<ellipse cx="1119.1" cy="1102.35" rx="11.5" ry="10.7" fill="#68b897" stroke="#4f8c73" stroke-width="1.2"/>
<ellipse cx="1022.75" cy="1104.2" rx="11.5" ry="10.7" fill="#68b89a" stroke="#4f8c75" stroke-width="1.2"/>
<ellipse cx="1174.75" cy="1105.95" rx="11.5" ry="10.7" fill="#68b89d" stroke="#4f8b77" stroke-width="1.2"/>
<ellipse cx="1088.9" cy="1107.6" rx="11.5" ry="10.7" fill="#67b7a0" stroke="#4f8b79" stroke-width="1.2"/>
<ellipse cx="1153.1" cy="1111.3" rx="11.5" ry="10.7" fill="#67b7a6" stroke="#4e8b7e" stroke-width="1.2"/>
<ellipse cx="1146" cy="1111.3" rx="11.5" ry="10.7" fill="#67b7a6" stroke="#4e8b7e" stroke-width="1.2"/>
<ellipse cx="1102" cy="1113.05" rx="11.5" ry="10.7" fill="#67b7a8" stroke="#4e8b80" stroke-width="1.2"/>
<ellipse cx="1129.1" cy="1113.7" rx="11.5" ry="10.7" fill="#66b6a9" stroke="#4e8b81" stroke-width="1.2"/>
<ellipse cx="1109.25" cy="1116" rx="11.5" ry="10.7" fill="#66b6ad" stroke="#4e8a84" stroke-width="1.2"/>
<ellipse cx="1114.45" cy="1116.15" rx="11.5" ry="10.7" fill="#66b6ad" stroke="#4e8a84" stroke-width="1.2"/>
<ellipse cx="1165.5" cy="1118.45" rx="11.5" ry="10.7" fill="#65b5b0" stroke="#4d8985" stroke-width="1.2"/>
<ellipse cx="1104.6" cy="1118.95" rx="11.5" ry="10.7" fill="#65b5b0" stroke="#4d8986" stroke-width="1.2"/>
<ellipse cx="1151.3" cy="1121.1" rx="11.5" ry="10.7" fill="#64b3b2" stroke="#4c8887" stroke-width="1.2"/>
<ellipse cx="1166.3" cy="1122.9" rx="11.5" ry="10.7" fill="#63b2b3" stroke="#4c8788" stroke-width="1.2"/>
<ellipse cx="1137.1" cy="1123.05" rx="11.5" ry="10.7" fill="#63b2b3" stroke="#4b8788" stroke-width="1.2"/>
<ellipse cx="1111.5" cy="1123.55" rx="11.5" ry="10.7" fill="#63b2b4" stroke="#4b8789" stroke-width="1.2"/>
<ellipse cx="1118.15" cy="1124.2" rx="11.5" ry="10.7" fill="#63b1b4" stroke="#4b8789" stroke-width="1.2"/>
<ellipse cx="1123.35" cy="1124.35" rx="11.5" ry="10.7" fill="#63b1b4" stroke="#4b8789" stroke-width="1.2"/>
<ellipse cx="1159.2" cy="1125.55" rx="11.5" ry="10.7" fill="#62b0b5" stroke="#4b868a" stroke-width="1.2"/>
<ellipse cx="1152.1" cy="1125.55" rx="11.5" ry="10.7" fill="#62b0b5" stroke="#4b868a" stroke-width="1.2"/>
<ellipse cx="1108.35" cy="1126.85" rx="11.5" ry="10.7" fill="#61afb6" stroke="#4a858a" stroke-width="1.2"/>
<ellipse cx="1173.5" cy="1126.9" rx="11.5" ry="10.7" fill="#61afb6" stroke="#4a858a" stroke-width="1.2"/>
<ellipse cx="1152.2" cy="1129.55" rx="11.5" ry="10.7" fill="#5faab6" stroke="#48818a" stroke-width="1.2"/>
<ellipse cx="1166.4" cy="1129.55" rx="11.5" ry="10.7" fill="#5faab6" stroke="#48818a" stroke-width="1.2"/>
<ellipse cx="1160.65" cy="1130.85" rx="11.5" ry="10.7" fill="#5ea8b6" stroke="#47808a" stroke-width="1.2"/>
<ellipse cx="1143.75" cy="1132.65" rx="11.5" ry="10.7" fill="#5ca5b6" stroke="#467d8a" stroke-width="1.2"/>
<ellipse cx="1107.5" cy="1132.9" rx="11.5" ry="10.7" fill="#5ca4b6" stroke="#467d8a" stroke-width="1.2"/>
<ellipse cx="1112.7" cy="1133.05" rx="11.5" ry="10.7" fill="#5ba4b5" stroke="#467d8a" stroke-width="1.2"/>
<ellipse cx="1167.2" cy="1134" rx="11.5" ry="10.7" fill="#5ba2b5" stroke="#457b8a" stroke-width="1.2"/>
<ellipse cx="1136.65" cy="1134.6" rx="11.5" ry="10.7" fill="#5aa1b5" stroke="#447b8a" stroke-width="1.2"/>
<ellipse cx="1161.45" cy="1135.3" rx="11.5" ry="10.7" fill="#59a0b5" stroke="#447a8a" stroke-width="1.2"/>
<ellipse cx="1104.35" cy="1136.2" rx="11.5" ry="10.7" fill="#599fb5" stroke="#43788a" stroke-width="1.2"/>
<ellipse cx="1151.65" cy="1137.1" rx="11.5" ry="10.7" fill="#589db5" stroke="#43778a" stroke-width="1.2"/>
<ellipse cx="1168.65" cy="1139.3" rx="11.5" ry="10.7" fill="#5699b5" stroke="#41748a" stroke-width="1.2"/>
<ellipse cx="1153.1" cy="1142.4" rx="11.5" ry="10.7" fill="#5392b5" stroke="#3f6f8a" stroke-width="1.2"/>
<ellipse cx="1240.3" cy="889.9" rx="11.5" ry="10.7" fill="#c33d20" stroke="#942e19" stroke-width="1.2"/>
<ellipse cx="1207.4" cy="891.4" rx="11.5" ry="10.7" fill="#c34021" stroke="#943119" stroke-width="1.2"/>
<ellipse cx="1196.9" cy="893" rx="11.5" ry="10.7" fill="#c34321" stroke="#943319" stroke-width="1.2"/>
<ellipse cx="1197.4" cy="895.4" rx="11.5" ry="10.7" fill="#c34822" stroke="#95371a" stroke-width="1.2"/>
<ellipse cx="1221.4" cy="897.6" rx="11.5" ry="10.7" fill="#c44c22" stroke="#953a1a" stroke-width="1.2"/>
<ellipse cx="1220.8" cy="899.9" rx="11.5" ry="10.7" fill="#c45023" stroke="#953d1a" stroke-width="1.2"/>
<ellipse cx="1279.6" cy="900.9" rx="11.5" ry="10.7" fill="#c45223" stroke="#953f1b" stroke-width="1.2"/>
<ellipse cx="1239.8" cy="901.9" rx="11.5" ry="10.7" fill="#c45423" stroke="#95401b" stroke-width="1.2"/>
<ellipse cx="1193" cy="905" rx="11.5" ry="10.7" fill="#c45a24" stroke="#95451b" stroke-width="1.2"/>
<ellipse cx="1225" cy="905" rx="11.5" ry="10.7" fill="#c45a24" stroke="#95451b" stroke-width="1.2"/>
<ellipse cx="1200.7" cy="909.2" rx="11.5" ry="10.7" fill="#c46325" stroke="#954b1c" stroke-width="1.2"/>
<ellipse cx="1215" cy="910" rx="11.5" ry="10.7" fill="#c46525" stroke="#954d1c" stroke-width="1.2"/>
<ellipse cx="1199.9" cy="910.8" rx="11.5" ry="10.7" fill="#c46726" stroke="#954e1d" stroke-width="1.2"/>
<ellipse cx="1264.7" cy="911.8" rx="11.5" ry="10.7" fill="#c46926" stroke="#95501d" stroke-width="1.2"/>
<ellipse cx="1258.7" cy="913.8" rx="11.5" ry="10.7" fill="#c46d26" stroke="#95531d" stroke-width="1.2"/>
<ellipse cx="1245" cy="915" rx="11.5" ry="10.7" fill="#c47027" stroke="#95551d" stroke-width="1.2"/>
<ellipse cx="1192.5" cy="918" rx="11.5" ry="10.7" fill="#c47627" stroke="#955a1e" stroke-width="1.2"/>
<ellipse cx="1252" cy="918" rx="11.5" ry="10.7" fill="#c47627" stroke="#955a1e" stroke-width="1.2"/>
<ellipse cx="1268" cy="922" rx="11.5" ry="10.7" fill="#c58029" stroke="#95621f" stroke-width="1.2"/>
<ellipse cx="1205.9" cy="923.8" rx="11.5" ry="10.7" fill="#c5862b" stroke="#966620" stroke-width="1.2"/>
<ellipse cx="1230.6" cy="924.5" rx="11.5" ry="10.7" fill="#c5882b" stroke="#966721" stroke-width="1.2"/>
<ellipse cx="1230.8" cy="924.8" rx="11.5" ry="10.7" fill="#c6892b" stroke="#966821" stroke-width="1.2"/>
<ellipse cx="1262.7" cy="925.8" rx="11.5" ry="10.7" fill="#c68c2c" stroke="#966a21" stroke-width="1.2"/>
<ellipse cx="1317.5" cy="925.8" rx="11.5" ry="10.7" fill="#c68c2c" stroke="#966a21" stroke-width="1.2"/>
<ellipse cx="1241" cy="928" rx="11.5" ry="10.7" fill="#c7932d" stroke="#977022" stroke-width="1.2"/>
<ellipse cx="1280.6" cy="928.8" rx="11.5" ry="10.7" fill="#c7952e" stroke="#977123" stroke-width="1.2"/>
<ellipse cx="1258" cy="931" rx="11.5" ry="10.7" fill="#c89c2f" stroke="#987724" stroke-width="1.2"/>
<ellipse cx="1191.5" cy="931.8" rx="11.5" ry="10.7" fill="#c89e30" stroke="#987824" stroke-width="1.2"/>
<ellipse cx="1265.6" cy="932" rx="11.5" ry="10.7" fill="#c89f30" stroke="#987924" stroke-width="1.2"/>
<ellipse cx="1196.1" cy="933.7" rx="11.5" ry="10.7" fill="#c8a231" stroke="#987b25" stroke-width="1.2"/>
<ellipse cx="1291.6" cy="934.8" rx="11.5" ry="10.7" fill="#c8a431" stroke="#987c25" stroke-width="1.2"/>
<ellipse cx="1195.9" cy="935" rx="11.5" ry="10.7" fill="#c8a431" stroke="#987d25" stroke-width="1.2"/>
<ellipse cx="1281.5" cy="935" rx="11.5" ry="10.7" fill="#c8a431" stroke="#987d25" stroke-width="1.2"/>
<ellipse cx="1238" cy="935" rx="11.5" ry="10.7" fill="#c8a431" stroke="#987d25" stroke-width="1.2"/>
<ellipse cx="1318" cy="936.7" rx="11.5" ry="10.7" fill="#c9a632" stroke="#987e26" stroke-width="1.2"/>
<ellipse cx="1293.5" cy="938" rx="11.5" ry="10.7" fill="#c9a832" stroke="#998026" stroke-width="1.2"/>
<ellipse cx="1228" cy="938" rx="11.5" ry="10.7" fill="#c9a832" stroke="#998026" stroke-width="1.2"/>
<ellipse cx="1251.7" cy="938.7" rx="11.5" ry="10.7" fill="#c9a932" stroke="#998126" stroke-width="1.2"/>
<ellipse cx="1212.9" cy="939.7" rx="11.5" ry="10.7" fill="#c9ab33" stroke="#998227" stroke-width="1.2"/>
<ellipse cx="1279.6" cy="939.7" rx="11.5" ry="10.7" fill="#c9ab33" stroke="#998227" stroke-width="1.2"/>
<ellipse cx="1252.7" cy="942" rx="11.5" ry="10.7" fill="#c9ae34" stroke="#998427" stroke-width="1.2"/>
<ellipse cx="1262" cy="942" rx="11.5" ry="10.7" fill="#c9ae34" stroke="#998427" stroke-width="1.2"/>
<ellipse cx="1245" cy="945" rx="11.5" ry="10.7" fill="#cab235" stroke="#998828" stroke-width="1.2"/>
<ellipse cx="1269.6" cy="946.9" rx="11.5" ry="10.7" fill="#cab535" stroke="#9a8a29" stroke-width="1.2"/>
<ellipse cx="1196.1" cy="948.3" rx="11.5" ry="10.7" fill="#cab736" stroke="#9a8b29" stroke-width="1.2"/>
<ellipse cx="1218.3" cy="949.1" rx="11.5" ry="10.7" fill="#cab836" stroke="#9a8c29" stroke-width="1.2"/>
<ellipse cx="1195.9" cy="949.4" rx="11.5" ry="10.7" fill="#cab936" stroke="#9a8d29" stroke-width="1.2"/>
<ellipse cx="1217.8" cy="949.4" rx="11.5" ry="10.7" fill="#cab936" stroke="#9a8d29" stroke-width="1.2"/>
<ellipse cx="1282.5" cy="949.4" rx="11.5" ry="10.7" fill="#cab936" stroke="#9a8d29" stroke-width="1.2"/>
<ellipse cx="1231.7" cy="949.9" rx="11.5" ry="10.7" fill="#caba36" stroke="#9a8d29" stroke-width="1.2"/>
<ellipse cx="1245.7" cy="954" rx="11.5" ry="10.7" fill="#cbc038" stroke="#9a922a" stroke-width="1.2"/>
<ellipse cx="1190.9" cy="959.9" rx="11.5" ry="10.7" fill="#c4c339" stroke="#95942b" stroke-width="1.2"/>
<ellipse cx="1228" cy="960" rx="11.5" ry="10.7" fill="#c4c339" stroke="#95942b" stroke-width="1.2"/>
<ellipse cx="1215.8" cy="961.9" rx="11.5" ry="10.7" fill="#c1c439" stroke="#93952b" stroke-width="1.2"/>
<ellipse cx="1200" cy="968" rx="11.5" ry="10.7" fill="#b9c839" stroke="#8d982c" stroke-width="1.2"/>
<ellipse cx="1233.7" cy="970.8" rx="11.5" ry="10.7" fill="#b6c93a" stroke="#8a992c" stroke-width="1.2"/>
<ellipse cx="1212.2" cy="977.5" rx="11.5" ry="10.7" fill="#adcb3a" stroke="#849a2c" stroke-width="1.2"/>
<ellipse cx="1211.8" cy="977.8" rx="11.5" ry="10.7" fill="#adcb3a" stroke="#849a2c" stroke-width="1.2"/>
<ellipse cx="1188.5" cy="978.8" rx="11.5" ry="10.7" fill="#accb3a" stroke="#839a2c" stroke-width="1.2"/>
<ellipse cx="1190" cy="979" rx="11.5" ry="10.7" fill="#accb3a" stroke="#829a2c" stroke-width="1.2"/>
<ellipse cx="1223.8" cy="983.8" rx="11.5" ry="10.7" fill="#a6ca3a" stroke="#7e9a2c" stroke-width="1.2"/>
<ellipse cx="1237.7" cy="985.8" rx="11.5" ry="10.7" fill="#a4ca3a" stroke="#7d992c" stroke-width="1.2"/>
<ellipse cx="1188" cy="990" rx="11.5" ry="10.7" fill="#9fca3a" stroke="#79992c" stroke-width="1.2"/>
<ellipse cx="1209.8" cy="991.8" rx="11.5" ry="10.7" fill="#9dc93a" stroke="#77992c" stroke-width="1.2"/>
<ellipse cx="1215.6" cy="999" rx="11.5" ry="10.7" fill="#94c93a" stroke="#71992c" stroke-width="1.2"/>
<ellipse cx="1215.8" cy="999.7" rx="11.5" ry="10.7" fill="#94c93a" stroke="#70982c" stroke-width="1.2"/>
<ellipse cx="1188.9" cy="1001.7" rx="11.5" ry="10.7" fill="#91c83a" stroke="#6e982c" stroke-width="1.2"/>
<ellipse cx="1189.2" cy="1002" rx="11.5" ry="10.7" fill="#91c83a" stroke="#6e982c" stroke-width="1.2"/>
<ellipse cx="1188.7" cy="1003" rx="11.5" ry="10.7" fill="#8fc83a" stroke="#6d982c" stroke-width="1.2"/>
<ellipse cx="1205.8" cy="1005.7" rx="11.5" ry="10.7" fill="#8cc83a" stroke="#6a982c" stroke-width="1.2"/>
<ellipse cx="1207.6" cy="1006" rx="11.5" ry="10.7" fill="#8cc83a" stroke="#6a982c" stroke-width="1.2"/>
<ellipse cx="1199.6" cy="1010" rx="11.5" ry="10.7" fill="#87c73a" stroke="#66972c" stroke-width="1.2"/>
<ellipse cx="1186.9" cy="1017.4" rx="11.5" ry="10.7" fill="#7ec63a" stroke="#5f972c" stroke-width="1.2"/>
<ellipse cx="1186.7" cy="1017.9" rx="11.5" ry="10.7" fill="#7dc63a" stroke="#5f972c" stroke-width="1.2"/>
<ellipse cx="1186.7" cy="1023.9" rx="11.5" ry="10.7" fill="#78c53b" stroke="#5b962c" stroke-width="1.2"/>
<ellipse cx="1194.6" cy="1028.9" rx="11.5" ry="10.7" fill="#75c53b" stroke="#59962d" stroke-width="1.2"/>
<ellipse cx="1164.8" cy="1034.7" rx="11.5" ry="10.7" fill="#72c43d" stroke="#56952e" stroke-width="1.2"/>
<ellipse cx="1164.8" cy="1035.8" rx="11.5" ry="10.7" fill="#71c43d" stroke="#56952f" stroke-width="1.2"/>
<ellipse cx="1175" cy="1040" rx="11.5" ry="10.7" fill="#70c241" stroke="#559431" stroke-width="1.2"/>
<ellipse cx="1183" cy="1043.5" rx="11.5" ry="10.7" fill="#6ec243" stroke="#549333" stroke-width="1.2"/>
<ellipse cx="1184.7" cy="1044.8" rx="11.5" ry="10.7" fill="#6ec145" stroke="#539334" stroke-width="1.2"/>
<ellipse cx="1149.4" cy="1048.5" rx="11.5" ry="10.7" fill="#6cc047" stroke="#529236" stroke-width="1.2"/>
<ellipse cx="1170" cy="1050" rx="11.5" ry="10.7" fill="#6cc049" stroke="#529237" stroke-width="1.2"/>
<ellipse cx="1149.8" cy="1050.8" rx="11.5" ry="10.7" fill="#6cc04a" stroke="#529238" stroke-width="1.2"/>
<ellipse cx="1184.2" cy="1051.8" rx="11.5" ry="10.7" fill="#6cc04b" stroke="#529239" stroke-width="1.2"/>
<ellipse cx="1181.7" cy="1054.8" rx="11.5" ry="10.7" fill="#6cbf4f" stroke="#52923c" stroke-width="1.2"/>
<ellipse cx="1121.9" cy="1055.8" rx="11.5" ry="10.7" fill="#6cbf50" stroke="#52913d" stroke-width="1.2"/>
<ellipse cx="1180.9" cy="1056.5" rx="11.5" ry="10.7" fill="#6cbf51" stroke="#52913d" stroke-width="1.2"/>
<ellipse cx="1177.1" cy="1058.9" rx="11.5" ry="10.7" fill="#6cbf53" stroke="#52913f" stroke-width="1.2"/>
<ellipse cx="1143.8" cy="1059.8" rx="11.5" ry="10.7" fill="#6cbf54" stroke="#529140" stroke-width="1.2"/>
<ellipse cx="1155.8" cy="1059.8" rx="11.5" ry="10.7" fill="#6cbf54" stroke="#529140" stroke-width="1.2"/>
<ellipse cx="1143.3" cy="1060.7" rx="11.5" ry="10.7" fill="#6cbf55" stroke="#529141" stroke-width="1.2"/>
<ellipse cx="1155.8" cy="1060.7" rx="11.5" ry="10.7" fill="#6cbf55" stroke="#529141" stroke-width="1.2"/>
<ellipse cx="1177.7" cy="1064.7" rx="11.5" ry="10.7" fill="#6cbe5a" stroke="#529144" stroke-width="1.2"/>
<ellipse cx="1178.5" cy="1066.2" rx="11.5" ry="10.7" fill="#6cbe5c" stroke="#529146" stroke-width="1.2"/>
<ellipse cx="1177.1" cy="1069.5" rx="11.5" ry="10.7" fill="#6cbe60" stroke="#529049" stroke-width="1.2"/>
<ellipse cx="1139.9" cy="1072.7" rx="11.5" ry="10.7" fill="#6cbe65" stroke="#52904d" stroke-width="1.2"/>
<ellipse cx="1116.9" cy="1073.7" rx="11.5" ry="10.7" fill="#6cbe67" stroke="#52904e" stroke-width="1.2"/>
<ellipse cx="1176.1" cy="1075.9" rx="11.5" ry="10.7" fill="#6cbe6b" stroke="#529051" stroke-width="1.2"/>
<ellipse cx="1115.5" cy="1076.7" rx="11.5" ry="10.7" fill="#6bbd6c" stroke="#529052" stroke-width="1.2"/>
<ellipse cx="1131.7" cy="1076.7" rx="11.5" ry="10.7" fill="#6bbd6c" stroke="#529052" stroke-width="1.2"/>
<ellipse cx="1115.8" cy="1076.7" rx="11.5" ry="10.7" fill="#6bbd6c" stroke="#529052" stroke-width="1.2"/>
<ellipse cx="1174.4" cy="1076.7" rx="11.5" ry="10.7" fill="#6bbd6c" stroke="#529052" stroke-width="1.2"/>
<ellipse cx="1154.9" cy="1080.2" rx="11.5" ry="10.7" fill="#6bbd72" stroke="#529057" stroke-width="1.2"/>
<ellipse cx="1143" cy="1080.8" rx="11.5" ry="10.7" fill="#6bbd73" stroke="#519058" stroke-width="1.2"/>
<ellipse cx="1154.3" cy="1080.8" rx="11.5" ry="10.7" fill="#6bbd73" stroke="#519058" stroke-width="1.2"/>
<ellipse cx="1077.7" cy="1083.6" rx="11.5" ry="10.7" fill="#6bbd78" stroke="#51905b" stroke-width="1.2"/>
<ellipse cx="1142.4" cy="1083.8" rx="11.5" ry="10.7" fill="#6bbd78" stroke="#51905c" stroke-width="1.2"/>
<ellipse cx="1118" cy="1085.6" rx="11.5" ry="10.7" fill="#6bbc7b" stroke="#518f5e" stroke-width="1.2"/>
<ellipse cx="1117.5" cy="1087.3" rx="11.5" ry="10.7" fill="#6abc7e" stroke="#518f60" stroke-width="1.2"/>
<ellipse cx="1170.4" cy="1088" rx="11.5" ry="10.7" fill="#6abc7f" stroke="#518f61" stroke-width="1.2"/>
<ellipse cx="1170" cy="1090" rx="11.5" ry="10.7" fill="#6abb83" stroke="#518e63" stroke-width="1.2"/>
<ellipse cx="1176.9" cy="1096.1" rx="11.5" ry="10.7" fill="#69ba8d" stroke="#508d6b" stroke-width="1.2"/>
<ellipse cx="1126" cy="1096.1" rx="11.5" ry="10.7" fill="#69ba8d" stroke="#508d6b" stroke-width="1.2"/>
<ellipse cx="1148.6" cy="1096.1" rx="11.5" ry="10.7" fill="#69ba8d" stroke="#508d6b" stroke-width="1.2"/>
<ellipse cx="1086" cy="1097.7" rx="11.5" ry="10.7" fill="#69b990" stroke="#508d6d" stroke-width="1.2"/>
<ellipse cx="1177.1" cy="1100.6" rx="11.5" ry="10.7" fill="#68b994" stroke="#4f8c71" stroke-width="1.2"/>
<ellipse cx="1147.8" cy="1101.5" rx="11.5" ry="10.7" fill="#68b896" stroke="#4f8c72" stroke-width="1.2"/>
<ellipse cx="1032.2" cy="1102" rx="11.5" ry="10.7" fill="#68b897" stroke="#4f8c73" stroke-width="1.2"/>
<ellipse cx="1128.2" cy="1102.4" rx="11.5" ry="10.7" fill="#68b897" stroke="#4f8c73" stroke-width="1.2"/>
<ellipse cx="1013.3" cy="1106.4" rx="11.5" ry="10.7" fill="#67b79e" stroke="#4f8b78" stroke-width="1.2"/>
<ellipse cx="1109.2" cy="1107.9" rx="11.5" ry="10.7" fill="#67b7a0" stroke="#4e8b7a" stroke-width="1.2"/>
<ellipse cx="1112.2" cy="1108.6" rx="11.5" ry="10.7" fill="#67b7a1" stroke="#4e8b7b" stroke-width="1.2"/>
<ellipse cx="1172.6" cy="1115.8" rx="11.5" ry="10.7" fill="#66b6ad" stroke="#4e8a83" stroke-width="1.2"/>
<ellipse cx="1091.8" cy="1117.5" rx="11.5" ry="10.7" fill="#66b5af" stroke="#4d8a85" stroke-width="1.2"/>
<ellipse cx="1089.4" cy="1118.5" rx="11.5" ry="10.7" fill="#65b5b0" stroke="#4d8985" stroke-width="1.2"/>
<ellipse cx="1158.4" cy="1121.1" rx="11.5" ry="10.7" fill="#64b3b2" stroke="#4c8887" stroke-width="1.2"/>
<ellipse cx="1144.2" cy="1121.1" rx="11.5" ry="10.7" fill="#64b3b2" stroke="#4c8887" stroke-width="1.2"/>
<ellipse cx="1106.3" cy="1123.4" rx="11.5" ry="10.7" fill="#63b2b4" stroke="#4b8789" stroke-width="1.2"/>
<ellipse cx="1116.7" cy="1123.7" rx="11.5" ry="10.7" fill="#63b2b4" stroke="#4b8789" stroke-width="1.2"/>
<ellipse cx="1130" cy="1125" rx="11.5" ry="10.7" fill="#62b1b5" stroke="#4b868a" stroke-width="1.2"/>
<ellipse cx="1060.3" cy="1126.3" rx="11.5" ry="10.7" fill="#62b0b6" stroke="#4a868a" stroke-width="1.2"/>
<ellipse cx="1031.2" cy="1129.2" rx="11.5" ry="10.7" fill="#5fabb6" stroke="#48828a" stroke-width="1.2"/>
<ellipse cx="1160" cy="1130" rx="11.5" ry="10.7" fill="#5ea9b6" stroke="#48818a" stroke-width="1.2"/>
<ellipse cx="1100" cy="1130" rx="11.5" ry="10.7" fill="#5ea9b6" stroke="#48818a" stroke-width="1.2"/>
<ellipse cx="1146" cy="1138" rx="11.5" ry="10.7" fill="#579bb5" stroke="#42768a" stroke-width="1.2"/>
<ellipse cx="1174.4" cy="1138" rx="11.5" ry="10.7" fill="#579bb5" stroke="#42768a" stroke-width="1.2"/>
<ellipse cx="1162.9" cy="1140.6" rx="11.5" ry="10.7" fill="#5496b5" stroke="#40728a" stroke-width="1.2"/>
<ellipse cx="1108.7" cy="1142.4" rx="11.5" ry="10.7" fill="#5392b5" stroke="#3f6f8a" stroke-width="1.2"/>
<ellipse cx="1143.3" cy="1144.2" rx="11.5" ry="10.7" fill="#518eb6" stroke="#3e6c8a" stroke-width="1.2"/>
</g>
<line x1="974.5" y1="1158.1" x2="974.5" y2="869.2" stroke="#7a7a7a" stroke-width="1.4"/>
<polygon points="970.6,870.2 978.4,870.2 974.5,856.2" fill="#8a8a8a"/>
<line x1="974.5" y1="1158.1" x2="1382.3" y2="1158.1" stroke="#7a7a7a" stroke-width="1.4"/>
<polygon points="1382.3,1154.2 1382.3,1162 1397.3,1158.1" fill="#8a8a8a"/>
<line x1="970" y1="882.8" x2="974.5" y2="882.8" stroke="#7a7a7a" stroke-width="1.1"/>
<line x1="970" y1="937.8" x2="974.5" y2="937.8" stroke="#7a7a7a" stroke-width="1.1"/>
<line x1="970" y1="992.8" x2="974.5" y2="992.8" stroke="#7a7a7a" stroke-width="1.1"/>
<line x1="970" y1="1047.8" x2="974.5" y2="1047.8" stroke="#7a7a7a" stroke-width="1.1"/>
<line x1="970" y1="1102.8" x2="974.5" y2="1102.8" stroke="#7a7a7a" stroke-width="1.1"/>
<line x1="970" y1="1157.8" x2="974.5" y2="1157.8" stroke="#7a7a7a" stroke-width="1.1"/>
<line x1="975.55" y1="1158.1" x2="975.55" y2="1162.6" stroke="#7a7a7a" stroke-width="1.1"/>
<line x1="1059.85" y1="1158.1" x2="1059.85" y2="1162.6" stroke="#7a7a7a" stroke-width="1.1"/>
<line x1="1144.15" y1="1158.1" x2="1144.15" y2="1162.6" stroke="#7a7a7a" stroke-width="1.1"/>
<line x1="1186.3" y1="1158.1" x2="1186.3" y2="1162.6" stroke="#7a7a7a" stroke-width="1.1"/>
<line x1="1228.45" y1="1158.1" x2="1228.45" y2="1162.6" stroke="#7a7a7a" stroke-width="1.1"/>
<line x1="1312.75" y1="1158.1" x2="1312.75" y2="1162.6" stroke="#7a7a7a" stroke-width="1.1"/>
<text x="952.22" y="893.1" font-size="24.6" font-family='"Liberation Sans", Arial, sans-serif' fill="#111" stroke="#111" stroke-width="0.3" textLength="14.23" lengthAdjust="spacingAndGlyphs">1</text>
<text x="930.73" y="948.1" font-size="24.6" font-family='"Liberation Sans", Arial, sans-serif' fill="#111" stroke="#111" stroke-width="0.3" textLength="35.57" lengthAdjust="spacingAndGlyphs">0.6</text>
<text x="930.92" y="1003.1" font-size="24.6" font-family='"Liberation Sans", Arial, sans-serif' fill="#111" stroke="#111" stroke-width="0.3" textLength="35.57" lengthAdjust="spacingAndGlyphs">0.2</text>
<text x="920.7" y="1058.1" font-size="24.6" font-family='"Liberation Sans", Arial, sans-serif' fill="#111" stroke="#111" stroke-width="0.3" textLength="45.85" lengthAdjust="spacingAndGlyphs">-0.2</text>
<text x="920.5" y="1113.1" font-size="24.6" font-family='"Liberation Sans", Arial, sans-serif' fill="#111" stroke="#111" stroke-width="0.3" textLength="45.85" lengthAdjust="spacingAndGlyphs">-0.6</text>
<text x="942.85" y="1168.1" font-size="24.6" font-family='"Liberation Sans", Arial, sans-serif' fill="#111" stroke="#111" stroke-width="0.3" textLength="23.66" lengthAdjust="spacingAndGlyphs">-1</text>
<text x="942.93" y="1192.9" font-size="24.6" font-family='"Liberation Sans", Arial, sans-serif' fill="#111" stroke="#111" stroke-width="0.3" textLength="64.15" lengthAdjust="spacingAndGlyphs">-0.25</text>
<text x="1027.23" y="1192.9" font-size="24.6" font-family='"Liberation Sans", Arial, sans-serif' fill="#111" stroke="#111" stroke-width="0.3" textLength="64.15" lengthAdjust="spacingAndGlyphs">-0.15</text>
<text x="1111.53" y="1192.9" font-size="24.6" font-family='"Liberation Sans", Arial, sans-serif' fill="#111" stroke="#111" stroke-width="0.3" textLength="64.15" lengthAdjust="spacingAndGlyphs">-0.05</text>
<text x="1179.06" y="1192.9" font-size="24.6" font-family='"Liberation Sans", Arial, sans-serif' fill="#111" stroke="#111" stroke-width="0.3" textLength="15.05" lengthAdjust="spacingAndGlyphs">0</text>
<text x="1202.43" y="1192.9" font-size="24.6" font-family='"Liberation Sans", Arial, sans-serif' fill="#111" stroke="#111" stroke-width="0.3" textLength="52.67" lengthAdjust="spacingAndGlyphs">0.05</text>
<text x="1286.73" y="1192.9" font-size="24.6" font-family='"Liberation Sans", Arial, sans-serif' fill="#111" stroke="#111" stroke-width="0.3" textLength="52.67" lengthAdjust="spacingAndGlyphs">0.15</text>
<linearGradient id="gF" x1="0" y1="0" x2="0" y2="1"><stop offset="0.0020" stop-color="#c0302a"/><stop offset="0.0824" stop-color="#bd4a25"/><stop offset="0.1627" stop-color="#bd7428"/><stop offset="0.2180" stop-color="#c39d2e"/><stop offset="0.2582" stop-color="#cbb935"/><stop offset="0.3235" stop-color="#b5bf36"/><stop offset="0.4038" stop-color="#97c036"/><stop offset="0.4842" stop-color="#7ac13a"/><stop offset="0.5645" stop-color="#72bd4f"/><stop offset="0.6449" stop-color="#6cb86c"/><stop offset="0.7102" stop-color="#6bb884"/><stop offset="0.7654" stop-color="#68b08a"/><stop offset="0.8458" stop-color="#5a978e"/><stop offset="0.9262" stop-color="#4f8598"/><stop offset="1.0000" stop-color="#4873ae"/></linearGradient>
<rect x="1409.9" y="881.8" width="31.5" height="334.9" fill="url(#gF)"/>
<text x="1407.38" y="875.1" font-size="24.7" font-family='"Liberation Sans", Arial, sans-serif' fill="#111" stroke="#111" stroke-width="0.3" textLength="161.01" lengthAdjust="spacingAndGlyphs">M1.p(corr)[1]</text>
<text x="1443.6" y="975" font-size="24" font-family='"Liberation Sans", Arial, sans-serif' fill="#111" stroke="#111" stroke-width="0.3" textLength="34.7" lengthAdjust="spacingAndGlyphs">0.5</text>
<text x="1443.6" y="1059.5" font-size="24" font-family='"Liberation Sans", Arial, sans-serif' fill="#111" stroke="#111" stroke-width="0.3" textLength="13.88" lengthAdjust="spacingAndGlyphs">0</text>
<text x="1444.28" y="1143.7" font-size="24" font-family='"Liberation Sans", Arial, sans-serif' fill="#111" stroke="#111" stroke-width="0.3" textLength="43.01" lengthAdjust="spacingAndGlyphs">-0.5</text>
<text x="1444.28" y="1228.9" font-size="24" font-family='"Liberation Sans", Arial, sans-serif' fill="#111" stroke="#111" stroke-width="0.3" textLength="22.19" lengthAdjust="spacingAndGlyphs">-1</text>
<text x="1162.61" y="1228.7" font-size="25.5" font-family='"Liberation Sans", Arial, sans-serif' fill="#111" stroke="#111" stroke-width="0.3" textLength="48.54" lengthAdjust="spacingAndGlyphs">p[1]</text>
<text transform="translate(914.3,1058.98) rotate(-90)" x="0" y="0" font-size="25.5" font-family='"Liberation Sans", Arial, sans-serif' fill="#111" stroke="#111" stroke-width="0.3" textLength="104.82" lengthAdjust="spacingAndGlyphs">p(corr)[1]</text>
</svg>
</body></html>
